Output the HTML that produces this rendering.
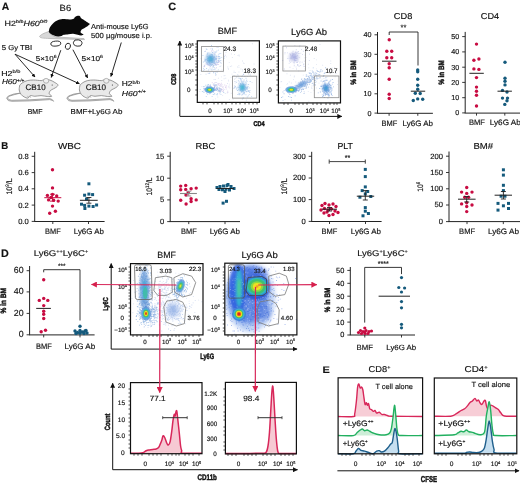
<!DOCTYPE html>
<html><head><meta charset="utf-8"><style>
html,body{margin:0;padding:0;background:#fff;}
svg{display:block;font-family:"Liberation Sans", sans-serif;text-rendering:geometricPrecision;will-change:transform;}
text{stroke:#111;stroke-width:0.15px;}
</style></head><body>
<svg width="520" height="484" viewBox="0 0 520 484">
<rect width="520" height="484" fill="#fff"/>
<text x="1.7" y="9.8" font-size="10.4" text-anchor="start" fill="#111" font-weight="bold" textLength="7.5" lengthAdjust="spacingAndGlyphs" >A</text>
<text x="59.6" y="11.4" font-size="9" text-anchor="start" fill="#111" textLength="11.6" lengthAdjust="spacingAndGlyphs" >B6</text>
<text x="4.6" y="25.8" font-size="7.5" fill="#111" textLength="42.7" lengthAdjust="spacingAndGlyphs">H2<tspan font-size="4.5" dy="-2.8">b/b</tspan><tspan dy="2.8" font-style="italic">H60</tspan><tspan font-size="4.5" dy="-2.8" font-style="italic">0/0</tspan></text>
<path d="M49,31.5 C44,33 40,35 39.6,36.6 C40,38 43,38.3 50,38.5 L84.5,39.6 L84,38.6 L56,37 C52,36 50,34 49,31.5 Z" fill="#d8d8d8" stroke="#aaa" stroke-width="0.7"/>
<path d="M48.80,31.90 C49.00,31.13 48.93,29.03 50.00,27.30 C51.07,25.57 53.28,22.85 55.20,21.50 C57.12,20.15 59.10,19.53 61.50,19.20 C63.90,18.87 67.57,19.58 69.60,19.50 C71.63,19.42 72.83,19.08 73.70,18.70 C74.57,18.32 74.13,17.68 74.80,17.20 C75.47,16.72 76.83,15.97 77.70,15.80 C78.57,15.63 79.42,15.78 80.00,16.20 C80.58,16.62 80.43,17.60 81.20,18.30 C81.97,19.00 83.45,19.67 84.60,20.40 C85.75,21.13 87.23,22.08 88.10,22.70 C88.97,23.32 89.90,23.52 89.80,24.10 C89.70,24.68 88.37,25.57 87.50,26.20 C86.63,26.83 85.57,27.33 84.60,27.90 C83.63,28.47 82.37,28.83 81.70,29.60 C81.03,30.37 80.30,31.68 80.60,32.50 C80.90,33.32 83.40,34.02 83.50,34.50 C83.60,34.98 82.17,35.35 81.20,35.40 C80.23,35.45 79.05,35.08 77.70,34.80 C76.35,34.52 74.63,33.80 73.10,33.70 C71.57,33.60 70.05,34.02 68.50,34.20 C66.95,34.38 64.97,34.50 63.80,34.80 C62.63,35.10 62.45,35.72 61.50,36.00 C60.55,36.28 59.35,36.60 58.10,36.50 C56.85,36.40 55.25,35.87 54.00,35.40 C52.75,34.93 51.47,34.28 50.60,33.70 C49.73,33.12 49.10,32.20 48.80,31.90 Z" fill="#0a0a0a"/>
<ellipse cx="55.8" cy="43.6" rx="5" ry="2.5" fill="#fff" stroke="#222" stroke-width="0.9" transform="rotate(-5 55.8 43.6)"/>
<ellipse cx="67.9" cy="46.3" rx="2.5" ry="3.1" fill="#fff" stroke="#222" stroke-width="0.9" transform="rotate(20 67.9 46.3)"/>
<ellipse cx="77.7" cy="43" rx="4.3" ry="3.2" fill="#fff" stroke="#222" stroke-width="0.9" transform="rotate(10 77.7 43)"/>
<text x="91.1" y="28.9" font-size="7.3" text-anchor="start" fill="#111" textLength="57.5" lengthAdjust="spacingAndGlyphs" >Anti-mouse Ly6G</text>
<text x="91.1" y="38" font-size="7.3" text-anchor="start" fill="#111" textLength="61" lengthAdjust="spacingAndGlyphs" >500 µg/mouse i.p.</text>
<text x="1.7" y="49.8" font-size="7.2" text-anchor="start" fill="#111" textLength="30.4" lengthAdjust="spacingAndGlyphs" >5 Gy TBI</text>
<text x="35.8" y="60.9" font-size="7.2" fill="#111" textLength="20.7" lengthAdjust="spacingAndGlyphs">5×10<tspan font-size="4.6" dy="-2.8">6</tspan></text>
<text x="81.5" y="60.9" font-size="7.2" fill="#111" textLength="21.5" lengthAdjust="spacingAndGlyphs">5×10<tspan font-size="4.6" dy="-2.8">6</tspan></text>
<defs><marker id="ah" viewBox="0 0 10 10" refX="9" refY="5" markerWidth="4.2" markerHeight="4.2" orient="auto"><path d="M0,0 L10,5 L0,10 z" fill="#111"/></marker><marker id="ahr" viewBox="0 0 10 10" refX="9" refY="5" markerWidth="5" markerHeight="5" orient="auto"><path d="M0,0 L10,5 L0,10 z" fill="#d6204c"/></marker><marker id="ahk" viewBox="0 0 10 10" refX="9" refY="5" markerWidth="5" markerHeight="5" orient="auto"><path d="M0,0 L10,5 L0,10 z" fill="#111"/></marker></defs>
<line x1="15" y1="54.2" x2="35" y2="77" stroke="#111" stroke-width="0.9" marker-end="url(#ah)"/>
<line x1="15" y1="54.2" x2="79.4" y2="83.8" stroke="#111" stroke-width="0.9" marker-end="url(#ah)"/>
<line x1="60.8" y1="50.2" x2="51.2" y2="77.4" stroke="#111" stroke-width="0.9" marker-end="url(#ah)"/>
<line x1="72.9" y1="49.7" x2="87.6" y2="77.9" stroke="#111" stroke-width="0.9" marker-end="url(#ah)"/>
<line x1="121.3" y1="42.5" x2="110.9" y2="76.5" stroke="#111" stroke-width="0.9" marker-end="url(#ah)"/>
<g id="m1"><path d="M20.40,93.10 L14.80,94.50 L9.80,96.00 L7.40,97.80 L8.80,99.60 L11.80,100.30 L29.80,99.80 L49.80,98.60 L52.30,99.60 L53.60,101.30 L52.60,100.60 L49.80,99.60 L29.80,100.90 L11.80,101.30 L8.30,100.60 L6.60,98.20 L8.30,96.00 L13.80,94.00 L20.40,93.10 Z" fill="#dcdcdc" stroke="#8a8a8a" stroke-width="0.7"/><path d="M19.80,85.00 C20.32,84.58 21.65,83.23 22.90,82.50 C24.15,81.77 25.52,81.02 27.30,80.60 C29.07,80.18 31.26,80.00 33.55,80.00 C35.84,80.00 39.38,80.60 41.05,80.60 C42.72,80.60 42.09,80.10 43.55,80.00 C45.01,79.90 47.92,79.58 49.80,80.00 C51.67,80.42 53.45,81.71 54.80,82.50 C56.15,83.29 57.58,84.02 57.90,84.75 C58.22,85.48 57.43,86.23 56.70,86.90 C55.98,87.57 54.60,88.13 53.55,88.75 C52.50,89.37 51.12,89.77 50.40,90.60 C49.67,91.43 48.98,92.81 49.20,93.75 C49.42,94.69 52.02,95.79 51.70,96.25 C51.38,96.71 49.07,96.61 47.30,96.50 C45.52,96.39 43.13,95.64 41.05,95.60 C38.97,95.56 36.57,96.25 34.80,96.25 C33.02,96.25 31.55,95.29 30.40,95.60 C29.25,95.91 28.93,97.88 27.90,98.10 C26.87,98.32 25.34,97.52 24.20,96.90 C23.06,96.28 21.88,95.55 21.05,94.40 C20.22,93.25 19.41,91.57 19.20,90.00 C18.99,88.43 19.70,85.83 19.80,85.00 Z" fill="#e9e9e9" stroke="#808080" stroke-width="0.8"/><ellipse cx="46.1" cy="80.8" rx="2.7" ry="2.4" fill="#efefef" stroke="#8a8a8a" stroke-width="0.6"/><circle cx="52.2" cy="85" r="0.6" fill="#333"/><path d="M27.5,95.8 L28.5,97.6 M30,95.8 L30.8,97.8" stroke="#8a8a8a" stroke-width="0.5"/></g>
<g transform="translate(60.2,0)"><path d="M20.40,93.10 L14.80,94.50 L9.80,96.00 L7.40,97.80 L8.80,99.60 L11.80,100.30 L29.80,99.80 L49.80,98.60 L52.30,99.60 L53.60,101.30 L52.60,100.60 L49.80,99.60 L29.80,100.90 L11.80,101.30 L8.30,100.60 L6.60,98.20 L8.30,96.00 L13.80,94.00 L20.40,93.10 Z" fill="#dcdcdc" stroke="#8a8a8a" stroke-width="0.7"/><path d="M19.80,85.00 C20.32,84.58 21.65,83.23 22.90,82.50 C24.15,81.77 25.52,81.02 27.30,80.60 C29.07,80.18 31.26,80.00 33.55,80.00 C35.84,80.00 39.38,80.60 41.05,80.60 C42.72,80.60 42.09,80.10 43.55,80.00 C45.01,79.90 47.92,79.58 49.80,80.00 C51.67,80.42 53.45,81.71 54.80,82.50 C56.15,83.29 57.58,84.02 57.90,84.75 C58.22,85.48 57.43,86.23 56.70,86.90 C55.98,87.57 54.60,88.13 53.55,88.75 C52.50,89.37 51.12,89.77 50.40,90.60 C49.67,91.43 48.98,92.81 49.20,93.75 C49.42,94.69 52.02,95.79 51.70,96.25 C51.38,96.71 49.07,96.61 47.30,96.50 C45.52,96.39 43.13,95.64 41.05,95.60 C38.97,95.56 36.57,96.25 34.80,96.25 C33.02,96.25 31.55,95.29 30.40,95.60 C29.25,95.91 28.93,97.88 27.90,98.10 C26.87,98.32 25.34,97.52 24.20,96.90 C23.06,96.28 21.88,95.55 21.05,94.40 C20.22,93.25 19.41,91.57 19.20,90.00 C18.99,88.43 19.70,85.83 19.80,85.00 Z" fill="#e9e9e9" stroke="#808080" stroke-width="0.8"/><ellipse cx="46.1" cy="80.8" rx="2.7" ry="2.4" fill="#efefef" stroke="#8a8a8a" stroke-width="0.6"/><circle cx="52.2" cy="85" r="0.6" fill="#333"/><path d="M27.5,95.8 L28.5,97.6 M30,95.8 L30.8,97.8" stroke="#8a8a8a" stroke-width="0.5"/></g>
<text x="25.6" y="90" font-size="8" text-anchor="start" fill="#111" textLength="20" lengthAdjust="spacingAndGlyphs" >CB10</text>
<text x="85.8" y="90" font-size="8" text-anchor="start" fill="#111" textLength="20.2" lengthAdjust="spacingAndGlyphs" >CB10</text>
<text x="1.3" y="75.6" font-size="7.2" fill="#111" textLength="19" lengthAdjust="spacingAndGlyphs">H2<tspan font-size="4.6" dy="-2.8">b/b</tspan></text>
<text x="1.9" y="84.4" font-size="7.2" fill="#111" font-style="italic" textLength="22.5" lengthAdjust="spacingAndGlyphs">H60<tspan font-size="4.6" dy="-2.8">+/+</tspan></text>
<text x="121.8" y="86.4" font-size="7.2" fill="#111" textLength="18.2" lengthAdjust="spacingAndGlyphs">H2<tspan font-size="4.6" dy="-2.8">b/b</tspan></text>
<text x="121.8" y="96" font-size="7.2" fill="#111" font-style="italic" textLength="23.9" lengthAdjust="spacingAndGlyphs">H60<tspan font-size="4.6" dy="-2.8">+/+</tspan></text>
<text x="27.7" y="113.6" font-size="7.2" text-anchor="start" fill="#111" textLength="14.7" lengthAdjust="spacingAndGlyphs" >BMF</text>
<text x="70.6" y="113.6" font-size="7.2" text-anchor="start" fill="#111" textLength="51.8" lengthAdjust="spacingAndGlyphs" >BMF+Ly6G Ab</text>
<text x="393.8" y="19.2" font-size="8.5" text-anchor="start" fill="#111" textLength="18.5" lengthAdjust="spacingAndGlyphs" >CD8</text>
<line x1="377.5" y1="32.0" x2="377.5" y2="113.1" stroke="#222" stroke-width="1" />
<line x1="374.5" y1="34.8" x2="377.5" y2="34.8" stroke="#222" stroke-width="0.9" />
<text x="371.5" y="37.199999999999996" font-size="7.2" text-anchor="end" fill="#111" >40</text>
<line x1="374.5" y1="54.3" x2="377.5" y2="54.3" stroke="#222" stroke-width="0.9" />
<text x="371.5" y="56.699999999999996" font-size="7.2" text-anchor="end" fill="#111" >30</text>
<line x1="374.5" y1="74.2" x2="377.5" y2="74.2" stroke="#222" stroke-width="0.9" />
<text x="371.5" y="76.60000000000001" font-size="7.2" text-anchor="end" fill="#111" >20</text>
<line x1="374.5" y1="93.8" x2="377.5" y2="93.8" stroke="#222" stroke-width="0.9" />
<text x="371.5" y="96.2" font-size="7.2" text-anchor="end" fill="#111" >10</text>
<line x1="374.5" y1="113.1" x2="377.5" y2="113.1" stroke="#222" stroke-width="0.9" />
<text x="371.5" y="115.5" font-size="7.2" text-anchor="end" fill="#111" >0</text>
<line x1="377.0" y1="113.3" x2="432.9" y2="113.3" stroke="#222" stroke-width="1" />
<line x1="389.1" y1="113.3" x2="389.1" y2="115.8" stroke="#222" stroke-width="0.9" />
<line x1="417.8" y1="113.3" x2="417.8" y2="115.8" stroke="#222" stroke-width="0.9" />
<text x="356" y="72.5" font-size="7.8" text-anchor="middle" fill="#111" font-weight="bold" textLength="24.6" lengthAdjust="spacingAndGlyphs" transform="rotate(-90 356 72.5)" style="stroke-width:0.45px">% in BM</text>
<line x1="389.2" y1="32" x2="418" y2="32" stroke="#222" stroke-width="0.9" />
<line x1="389.2" y1="32" x2="389.2" y2="35" stroke="#222" stroke-width="0.9" />
<line x1="418" y1="32" x2="418" y2="65.5" stroke="#222" stroke-width="0.9" />
<text x="403.5" y="30.2" font-size="7.5" text-anchor="middle" fill="#111" >**</text>
<circle cx="389.25" cy="39.8" r="1.7" fill="#c80c42"/>
<circle cx="386.8" cy="51.3" r="1.7" fill="#c80c42"/>
<circle cx="391.7" cy="51.3" r="1.7" fill="#c80c42"/>
<circle cx="386.8" cy="57.8" r="1.7" fill="#c80c42"/>
<circle cx="391.7" cy="57.8" r="1.7" fill="#c80c42"/>
<circle cx="389.2" cy="63.8" r="1.7" fill="#c80c42"/>
<circle cx="389.2" cy="67.7" r="1.7" fill="#c80c42"/>
<circle cx="389.2" cy="79.2" r="1.7" fill="#c80c42"/>
<circle cx="389.2" cy="94.2" r="1.7" fill="#c80c42"/>
<circle cx="389.2" cy="98.5" r="1.7" fill="#c80c42"/>
<line x1="382" y1="61.2" x2="396.5" y2="61.2" stroke="#222" stroke-width="1" />
<circle cx="417.7" cy="70" r="1.7" fill="#155a7c"/>
<circle cx="417.7" cy="71.8" r="1.7" fill="#155a7c"/>
<circle cx="417.7" cy="79.2" r="1.7" fill="#155a7c"/>
<circle cx="417.7" cy="85.3" r="1.7" fill="#155a7c"/>
<circle cx="417.7" cy="89.2" r="1.7" fill="#155a7c"/>
<circle cx="415.3" cy="93.2" r="1.7" fill="#155a7c"/>
<circle cx="420.2" cy="93.5" r="1.7" fill="#155a7c"/>
<circle cx="417.7" cy="98.9" r="1.7" fill="#155a7c"/>
<circle cx="422.7" cy="99.2" r="1.7" fill="#155a7c"/>
<circle cx="413.3" cy="100.5" r="1.7" fill="#155a7c"/>
<line x1="410.8" y1="91.2" x2="425.2" y2="91.2" stroke="#222" stroke-width="1" />
<text x="381.5" y="125.5" font-size="7.8" text-anchor="start" fill="#111" textLength="15.7" lengthAdjust="spacingAndGlyphs" >BMF</text>
<text x="402.6" y="125.5" font-size="7.8" text-anchor="start" fill="#111" textLength="30.3" lengthAdjust="spacingAndGlyphs" >Ly6G Ab</text>
<text x="480.8" y="19.2" font-size="8.5" text-anchor="start" fill="#111" textLength="18.4" lengthAdjust="spacingAndGlyphs" >CD4</text>
<line x1="465.2" y1="31.9" x2="465.2" y2="112.9" stroke="#222" stroke-width="1" />
<line x1="462.2" y1="36.6" x2="465.2" y2="36.6" stroke="#222" stroke-width="0.9" />
<text x="459.2" y="39.0" font-size="7.2" text-anchor="end" fill="#111" >50</text>
<line x1="462.2" y1="51.9" x2="465.2" y2="51.9" stroke="#222" stroke-width="0.9" />
<text x="459.2" y="54.3" font-size="7.2" text-anchor="end" fill="#111" >40</text>
<line x1="462.2" y1="67.2" x2="465.2" y2="67.2" stroke="#222" stroke-width="0.9" />
<text x="459.2" y="69.60000000000001" font-size="7.2" text-anchor="end" fill="#111" >30</text>
<line x1="462.2" y1="82.4" x2="465.2" y2="82.4" stroke="#222" stroke-width="0.9" />
<text x="459.2" y="84.80000000000001" font-size="7.2" text-anchor="end" fill="#111" >20</text>
<line x1="462.2" y1="97.7" x2="465.2" y2="97.7" stroke="#222" stroke-width="0.9" />
<text x="459.2" y="100.10000000000001" font-size="7.2" text-anchor="end" fill="#111" >10</text>
<line x1="462.2" y1="112.9" x2="465.2" y2="112.9" stroke="#222" stroke-width="0.9" />
<text x="459.2" y="115.30000000000001" font-size="7.2" text-anchor="end" fill="#111" >0</text>
<line x1="464.7" y1="113.1" x2="520" y2="113.1" stroke="#222" stroke-width="1" />
<line x1="476.5" y1="113.1" x2="476.5" y2="115.6" stroke="#222" stroke-width="0.9" />
<line x1="504.8" y1="113.1" x2="504.8" y2="115.6" stroke="#222" stroke-width="0.9" />
<text x="444.4" y="72.5" font-size="7.8" text-anchor="middle" fill="#111" font-weight="bold" textLength="24.6" lengthAdjust="spacingAndGlyphs" transform="rotate(-90 444.4 72.5)" style="stroke-width:0.45px">% in BM</text>
<circle cx="476.5" cy="44.1" r="1.7" fill="#c80c42"/>
<circle cx="473.9" cy="60.3" r="1.7" fill="#c80c42"/>
<circle cx="478.9" cy="59" r="1.7" fill="#c80c42"/>
<circle cx="473.9" cy="68.9" r="1.7" fill="#c80c42"/>
<circle cx="478.9" cy="69.4" r="1.7" fill="#c80c42"/>
<circle cx="476.5" cy="77.6" r="1.7" fill="#c80c42"/>
<circle cx="476.5" cy="87.1" r="1.7" fill="#c80c42"/>
<circle cx="476.5" cy="91.2" r="1.7" fill="#c80c42"/>
<circle cx="476.5" cy="95.3" r="1.7" fill="#c80c42"/>
<circle cx="476.5" cy="106" r="1.7" fill="#c80c42"/>
<line x1="469.4" y1="73.3" x2="483.8" y2="73.3" stroke="#222" stroke-width="1" />
<circle cx="505" cy="62.3" r="1.7" fill="#155a7c"/>
<circle cx="505" cy="78.3" r="1.7" fill="#155a7c"/>
<circle cx="505" cy="81.3" r="1.7" fill="#155a7c"/>
<circle cx="505" cy="84.9" r="1.7" fill="#155a7c"/>
<circle cx="502.5" cy="90.4" r="1.7" fill="#155a7c"/>
<circle cx="507" cy="92" r="1.7" fill="#155a7c"/>
<circle cx="502.5" cy="98.1" r="1.7" fill="#155a7c"/>
<circle cx="507.5" cy="98.1" r="1.7" fill="#155a7c"/>
<circle cx="507" cy="100.8" r="1.7" fill="#155a7c"/>
<circle cx="504.8" cy="104.4" r="1.7" fill="#155a7c"/>
<line x1="497.5" y1="91.2" x2="511.9" y2="91.2" stroke="#222" stroke-width="1" />
<text x="469" y="125.3" font-size="7.8" text-anchor="start" fill="#111" textLength="16" lengthAdjust="spacingAndGlyphs" >BMF</text>
<text x="489.8" y="125.3" font-size="7.8" text-anchor="start" fill="#111" textLength="31" lengthAdjust="spacingAndGlyphs" >Ly6G Ab</text>
<defs><filter id="b1" x="-50%" y="-50%" width="200%" height="200%"><feGaussianBlur stdDeviation="1.2"/></filter><filter id="b2" x="-50%" y="-50%" width="200%" height="200%"><feGaussianBlur stdDeviation="2"/></filter><filter id="b05" x="-50%" y="-50%" width="200%" height="200%"><feGaussianBlur stdDeviation="0.6"/></filter></defs>
<text x="168.3" y="10" font-size="10.5" text-anchor="start" fill="#111" font-weight="bold" textLength="7.9" lengthAdjust="spacingAndGlyphs" >C</text>
<text x="217.7" y="34.4" font-size="9" text-anchor="start" fill="#111" textLength="19.4" lengthAdjust="spacingAndGlyphs" >BMF</text>
<text x="291" y="34.7" font-size="9" text-anchor="start" fill="#111" textLength="36" lengthAdjust="spacingAndGlyphs" >Ly6G Ab</text>
<line x1="179.8" y1="116.2" x2="179.8" y2="41" stroke="#111" stroke-width="1" marker-end="url(#ahk)"/>
<line x1="179.8" y1="116.4" x2="341.8" y2="116.4" stroke="#111" stroke-width="1" marker-end="url(#ahk)"/>
<text x="176.4" y="79.2" font-size="7" text-anchor="middle" fill="#111" font-weight="bold" textLength="11.2" lengthAdjust="spacingAndGlyphs" transform="rotate(-90 176.4 79.2)" style="stroke-width:0.45px">CD8</text>
<text x="253.4" y="126.3" font-size="7" text-anchor="start" fill="#111" font-weight="bold" textLength="11.1" lengthAdjust="spacingAndGlyphs" style="stroke-width:0.45px">CD4</text>
<path d="M228.9,83.7h0.9v0.9h-0.9zM223.6,75.3h0.9v0.9h-0.9zM216.2,82.0h0.9v0.9h-0.9zM244.0,71.8h0.9v0.9h-0.9zM242.0,70.7h0.9v0.9h-0.9zM234.2,75.3h0.9v0.9h-0.9zM215.1,98.4h0.9v0.9h-0.9zM237.6,77.4h0.9v0.9h-0.9zM214.9,79.1h0.9v0.9h-0.9zM231.5,73.7h0.9v0.9h-0.9zM229.9,66.1h0.9v0.9h-0.9zM234.6,78.0h0.9v0.9h-0.9zM232.6,98.8h0.9v0.9h-0.9zM243.0,83.9h0.9v0.9h-0.9zM216.1,74.3h0.9v0.9h-0.9zM223.7,78.3h0.9v0.9h-0.9zM237.3,74.0h0.9v0.9h-0.9zM216.6,70.8h0.9v0.9h-0.9zM230.8,92.8h0.9v0.9h-0.9zM220.8,85.5h0.9v0.9h-0.9zM223.0,58.5h0.9v0.9h-0.9zM237.9,89.1h0.9v0.9h-0.9zM203.0,89.6h0.9v0.9h-0.9zM221.5,69.4h0.9v0.9h-0.9zM233.6,72.0h0.9v0.9h-0.9zM217.3,96.5h0.9v0.9h-0.9zM242.5,80.5h0.9v0.9h-0.9zM247.4,68.6h0.9v0.9h-0.9zM220.8,62.9h0.9v0.9h-0.9zM231.2,65.6h0.9v0.9h-0.9zM214.5,67.8h0.9v0.9h-0.9zM213.6,79.1h0.9v0.9h-0.9zM229.1,46.3h0.9v0.9h-0.9zM213.3,90.7h0.9v0.9h-0.9zM248.9,70.7h0.9v0.9h-0.9zM227.4,66.5h0.9v0.9h-0.9zM222.2,95.2h0.9v0.9h-0.9zM242.1,69.3h0.9v0.9h-0.9zM234.2,78.9h0.9v0.9h-0.9zM250.9,69.9h0.9v0.9h-0.9zM238.1,77.8h0.9v0.9h-0.9zM242.9,74.1h0.9v0.9h-0.9zM201.4,86.2h0.9v0.9h-0.9zM225.5,52.0h0.9v0.9h-0.9zM233.3,88.1h0.9v0.9h-0.9zM233.6,70.7h0.9v0.9h-0.9zM236.5,80.4h0.9v0.9h-0.9zM237.6,86.9h0.9v0.9h-0.9zM217.9,77.8h0.9v0.9h-0.9zM240.5,68.5h0.9v0.9h-0.9zM224.8,93.0h0.9v0.9h-0.9zM242.1,60.5h0.9v0.9h-0.9zM211.6,86.4h0.9v0.9h-0.9zM224.6,74.9h0.9v0.9h-0.9zM237.4,55.2h0.9v0.9h-0.9zM234.1,54.0h0.9v0.9h-0.9zM223.7,89.1h0.9v0.9h-0.9zM247.2,76.0h0.9v0.9h-0.9zM233.3,75.2h0.9v0.9h-0.9zM234.1,81.0h0.9v0.9h-0.9zM228.2,80.7h0.9v0.9h-0.9zM234.9,72.0h0.9v0.9h-0.9zM241.0,76.0h0.9v0.9h-0.9zM253.6,63.6h0.9v0.9h-0.9zM220.9,76.4h0.9v0.9h-0.9zM234.6,85.8h0.9v0.9h-0.9zM227.1,83.1h0.9v0.9h-0.9zM217.1,88.0h0.9v0.9h-0.9zM234.6,75.7h0.9v0.9h-0.9zM227.9,86.5h0.9v0.9h-0.9zM228.0,69.2h0.9v0.9h-0.9zM221.3,80.1h0.9v0.9h-0.9zM225.3,77.8h0.9v0.9h-0.9zM231.9,57.0h0.9v0.9h-0.9zM234.1,86.5h0.9v0.9h-0.9zM248.4,84.4h0.9v0.9h-0.9zM206.4,86.8h0.9v0.9h-0.9zM228.7,85.5h0.9v0.9h-0.9zM230.9,53.6h0.9v0.9h-0.9zM225.9,56.4h0.9v0.9h-0.9zM238.6,86.9h0.9v0.9h-0.9zM228.0,79.7h0.9v0.9h-0.9zM238.5,71.6h0.9v0.9h-0.9zM237.9,92.4h0.9v0.9h-0.9zM238.4,65.3h0.9v0.9h-0.9zM251.9,43.3h0.9v0.9h-0.9zM237.0,66.6h0.9v0.9h-0.9zM234.7,82.5h0.9v0.9h-0.9zM235.3,81.1h0.9v0.9h-0.9zM200.4,74.0h0.9v0.9h-0.9zM228.8,62.2h0.9v0.9h-0.9zM206.5,70.4h0.9v0.9h-0.9zM248.0,73.8h0.9v0.9h-0.9zM238.8,55.6h0.9v0.9h-0.9zM220.5,65.4h0.9v0.9h-0.9zM248.1,86.1h0.9v0.9h-0.9zM228.9,99.1h0.9v0.9h-0.9zM238.5,66.9h0.9v0.9h-0.9zM223.1,71.4h0.9v0.9h-0.9zM235.8,77.4h0.9v0.9h-0.9zM238.5,54.5h0.9v0.9h-0.9zM251.6,82.1h0.9v0.9h-0.9zM243.8,63.2h0.9v0.9h-0.9zM226.8,92.6h0.9v0.9h-0.9zM230.5,76.9h0.9v0.9h-0.9zM242.9,62.6h0.9v0.9h-0.9zM199.3,91.2h0.9v0.9h-0.9zM212.7,99.5h0.9v0.9h-0.9zM227.8,68.0h0.9v0.9h-0.9zM234.0,84.9h0.9v0.9h-0.9zM238.4,89.0h0.9v0.9h-0.9z" fill="#9fb0d8" opacity="0.35"/>
<path d="M315.9,87.6h0.9v0.9h-0.9zM337.6,80.7h0.9v0.9h-0.9zM307.8,90.9h0.9v0.9h-0.9zM280.5,81.3h0.9v0.9h-0.9zM295.2,86.7h0.9v0.9h-0.9zM307.0,78.2h0.9v0.9h-0.9zM304.3,83.9h0.9v0.9h-0.9zM330.3,63.0h0.9v0.9h-0.9zM322.4,82.5h0.9v0.9h-0.9zM298.5,66.1h0.9v0.9h-0.9zM310.5,91.9h0.9v0.9h-0.9zM286.5,84.2h0.9v0.9h-0.9zM326.5,76.6h0.9v0.9h-0.9zM315.1,84.8h0.9v0.9h-0.9zM303.2,64.0h0.9v0.9h-0.9zM287.1,83.2h0.9v0.9h-0.9zM316.1,63.9h0.9v0.9h-0.9zM293.8,76.6h0.9v0.9h-0.9zM291.1,88.0h0.9v0.9h-0.9zM298.4,90.0h0.9v0.9h-0.9zM284.6,99.1h0.9v0.9h-0.9zM288.7,63.0h0.9v0.9h-0.9zM315.9,68.4h0.9v0.9h-0.9zM309.6,70.1h0.9v0.9h-0.9zM323.5,78.0h0.9v0.9h-0.9zM319.3,74.8h0.9v0.9h-0.9zM329.3,72.7h0.9v0.9h-0.9zM300.3,52.8h0.9v0.9h-0.9zM328.7,82.6h0.9v0.9h-0.9zM302.8,74.7h0.9v0.9h-0.9zM319.6,44.0h0.9v0.9h-0.9zM331.5,97.0h0.9v0.9h-0.9zM303.6,91.1h0.9v0.9h-0.9zM330.3,60.6h0.9v0.9h-0.9zM322.1,81.3h0.9v0.9h-0.9zM298.4,83.3h0.9v0.9h-0.9zM318.5,82.7h0.9v0.9h-0.9zM307.7,75.3h0.9v0.9h-0.9zM295.3,81.5h0.9v0.9h-0.9zM320.4,70.7h0.9v0.9h-0.9zM293.9,75.5h0.9v0.9h-0.9zM298.9,46.3h0.9v0.9h-0.9zM319.9,76.6h0.9v0.9h-0.9zM331.7,67.6h0.9v0.9h-0.9zM312.3,82.6h0.9v0.9h-0.9zM308.3,67.4h0.9v0.9h-0.9zM337.1,84.0h0.9v0.9h-0.9zM288.8,81.6h0.9v0.9h-0.9zM314.1,76.4h0.9v0.9h-0.9zM298.2,70.5h0.9v0.9h-0.9zM286.5,73.3h0.9v0.9h-0.9zM335.8,72.9h0.9v0.9h-0.9zM335.9,70.2h0.9v0.9h-0.9zM301.2,86.5h0.9v0.9h-0.9zM279.5,86.9h0.9v0.9h-0.9zM312.4,82.5h0.9v0.9h-0.9zM300.3,81.5h0.9v0.9h-0.9zM317.3,76.9h0.9v0.9h-0.9zM318.2,73.8h0.9v0.9h-0.9zM311.2,87.3h0.9v0.9h-0.9zM304.3,68.4h0.9v0.9h-0.9zM302.3,81.9h0.9v0.9h-0.9zM309.3,79.3h0.9v0.9h-0.9zM310.7,78.6h0.9v0.9h-0.9zM299.2,65.6h0.9v0.9h-0.9zM321.5,83.9h0.9v0.9h-0.9zM313.1,71.5h0.9v0.9h-0.9zM307.9,63.8h0.9v0.9h-0.9zM288.1,92.7h0.9v0.9h-0.9zM303.9,91.6h0.9v0.9h-0.9zM308.4,100.8h0.9v0.9h-0.9zM295.6,66.5h0.9v0.9h-0.9zM304.3,88.2h0.9v0.9h-0.9zM316.4,74.6h0.9v0.9h-0.9zM331.3,71.9h0.9v0.9h-0.9zM313.3,82.9h0.9v0.9h-0.9zM335.1,73.2h0.9v0.9h-0.9zM313.7,58.0h0.9v0.9h-0.9zM312.8,85.3h0.9v0.9h-0.9zM313.4,89.8h0.9v0.9h-0.9zM322.5,81.0h0.9v0.9h-0.9zM322.2,64.8h0.9v0.9h-0.9zM328.4,101.7h0.9v0.9h-0.9zM311.5,88.2h0.9v0.9h-0.9zM320.7,69.1h0.9v0.9h-0.9zM297.4,88.1h0.9v0.9h-0.9zM321.3,85.1h0.9v0.9h-0.9zM318.6,70.9h0.9v0.9h-0.9zM323.0,75.4h0.9v0.9h-0.9zM312.2,75.8h0.9v0.9h-0.9zM311.4,85.6h0.9v0.9h-0.9zM293.0,79.2h0.9v0.9h-0.9zM299.4,62.5h0.9v0.9h-0.9zM290.6,60.7h0.9v0.9h-0.9zM305.5,88.0h0.9v0.9h-0.9zM315.6,71.8h0.9v0.9h-0.9zM297.0,64.8h0.9v0.9h-0.9zM334.0,67.3h0.9v0.9h-0.9zM315.9,59.4h0.9v0.9h-0.9zM294.8,60.5h0.9v0.9h-0.9zM324.8,79.8h0.9v0.9h-0.9zM287.3,91.6h0.9v0.9h-0.9zM304.6,54.5h0.9v0.9h-0.9zM281.2,81.1h0.9v0.9h-0.9zM292.6,68.2h0.9v0.9h-0.9zM311.5,79.1h0.9v0.9h-0.9zM321.6,78.7h0.9v0.9h-0.9zM334.7,76.3h0.9v0.9h-0.9zM290.9,82.5h0.9v0.9h-0.9zM289.9,74.8h0.9v0.9h-0.9zM308.6,77.6h0.9v0.9h-0.9zM304.2,57.4h0.9v0.9h-0.9zM295.1,86.6h0.9v0.9h-0.9z" fill="#9fb0d8" opacity="0.35"/>
<path d="M211.0,58.3h0.9v0.9h-0.9zM211.7,55.8h0.9v0.9h-0.9zM215.5,61.9h0.9v0.9h-0.9zM211.6,56.3h0.9v0.9h-0.9zM211.1,45.0h0.9v0.9h-0.9zM207.1,60.2h0.9v0.9h-0.9zM204.5,61.1h0.9v0.9h-0.9zM212.7,52.4h0.9v0.9h-0.9zM210.7,58.3h0.9v0.9h-0.9zM214.3,63.4h0.9v0.9h-0.9zM211.8,55.3h0.9v0.9h-0.9zM211.3,59.6h0.9v0.9h-0.9zM215.7,61.6h0.9v0.9h-0.9zM208.4,52.6h0.9v0.9h-0.9zM210.1,55.9h0.9v0.9h-0.9zM206.4,59.4h0.9v0.9h-0.9zM209.5,60.6h0.9v0.9h-0.9zM214.6,57.7h0.9v0.9h-0.9zM223.6,58.2h0.9v0.9h-0.9zM217.5,60.7h0.9v0.9h-0.9zM217.6,46.9h0.9v0.9h-0.9zM208.2,61.4h0.9v0.9h-0.9zM215.0,72.9h0.9v0.9h-0.9zM213.6,67.0h0.9v0.9h-0.9zM215.8,65.2h0.9v0.9h-0.9zM214.6,59.1h0.9v0.9h-0.9zM214.5,54.1h0.9v0.9h-0.9zM217.9,54.4h0.9v0.9h-0.9zM213.2,71.7h0.9v0.9h-0.9zM210.9,60.1h0.9v0.9h-0.9zM217.8,60.1h0.9v0.9h-0.9zM208.0,61.4h0.9v0.9h-0.9zM214.9,63.9h0.9v0.9h-0.9zM208.1,69.6h0.9v0.9h-0.9zM220.3,60.1h0.9v0.9h-0.9zM213.3,57.6h0.9v0.9h-0.9zM219.1,56.1h0.9v0.9h-0.9zM215.4,57.4h0.9v0.9h-0.9zM208.5,64.0h0.9v0.9h-0.9zM218.7,59.9h0.9v0.9h-0.9zM208.6,64.5h0.9v0.9h-0.9zM211.8,61.7h0.9v0.9h-0.9zM219.6,66.2h0.9v0.9h-0.9zM209.4,72.6h0.9v0.9h-0.9zM212.0,64.3h0.9v0.9h-0.9zM208.8,59.8h0.9v0.9h-0.9zM203.3,69.8h0.9v0.9h-0.9zM218.8,53.3h0.9v0.9h-0.9zM204.5,51.1h0.9v0.9h-0.9zM217.9,57.5h0.9v0.9h-0.9zM211.7,58.3h0.9v0.9h-0.9zM211.4,54.0h0.9v0.9h-0.9zM212.1,52.1h0.9v0.9h-0.9zM211.6,61.7h0.9v0.9h-0.9zM214.3,58.7h0.9v0.9h-0.9zM207.5,60.9h0.9v0.9h-0.9zM209.6,68.6h0.9v0.9h-0.9zM215.8,59.4h0.9v0.9h-0.9zM209.6,56.1h0.9v0.9h-0.9zM207.3,58.1h0.9v0.9h-0.9zM213.5,62.8h0.9v0.9h-0.9zM214.8,71.5h0.9v0.9h-0.9zM208.5,60.1h0.9v0.9h-0.9zM226.0,49.7h0.9v0.9h-0.9zM209.4,60.9h0.9v0.9h-0.9zM212.8,62.2h0.9v0.9h-0.9zM210.8,62.0h0.9v0.9h-0.9zM212.3,64.2h0.9v0.9h-0.9zM202.5,55.1h0.9v0.9h-0.9zM212.0,54.3h0.9v0.9h-0.9zM206.8,63.5h0.9v0.9h-0.9zM208.8,63.5h0.9v0.9h-0.9zM215.7,61.7h0.9v0.9h-0.9zM214.5,59.4h0.9v0.9h-0.9zM205.0,59.8h0.9v0.9h-0.9zM214.3,57.1h0.9v0.9h-0.9zM211.5,64.1h0.9v0.9h-0.9zM207.6,63.5h0.9v0.9h-0.9zM221.3,56.9h0.9v0.9h-0.9zM212.7,59.2h0.9v0.9h-0.9zM219.7,61.7h0.9v0.9h-0.9zM216.5,56.2h0.9v0.9h-0.9zM211.9,59.9h0.9v0.9h-0.9zM203.1,67.9h0.9v0.9h-0.9zM216.5,50.4h0.9v0.9h-0.9zM215.7,59.3h0.9v0.9h-0.9zM214.2,62.0h0.9v0.9h-0.9zM204.5,58.8h0.9v0.9h-0.9zM219.5,56.8h0.9v0.9h-0.9zM206.9,52.5h0.9v0.9h-0.9zM205.9,61.8h0.9v0.9h-0.9zM220.5,62.4h0.9v0.9h-0.9zM213.2,72.3h0.9v0.9h-0.9zM209.4,56.3h0.9v0.9h-0.9zM214.6,63.0h0.9v0.9h-0.9zM206.9,53.6h0.9v0.9h-0.9zM213.5,61.4h0.9v0.9h-0.9zM205.5,58.9h0.9v0.9h-0.9zM209.3,62.5h0.9v0.9h-0.9zM211.4,59.5h0.9v0.9h-0.9zM210.2,65.8h0.9v0.9h-0.9zM219.0,58.0h0.9v0.9h-0.9zM216.2,55.8h0.9v0.9h-0.9zM212.4,64.1h0.9v0.9h-0.9zM219.6,57.9h0.9v0.9h-0.9zM211.6,61.1h0.9v0.9h-0.9zM204.5,60.1h0.9v0.9h-0.9zM208.6,62.0h0.9v0.9h-0.9zM206.4,49.1h0.9v0.9h-0.9zM212.2,61.4h0.9v0.9h-0.9zM209.3,64.9h0.9v0.9h-0.9zM210.6,56.7h0.9v0.9h-0.9zM214.4,51.4h0.9v0.9h-0.9zM208.6,59.9h0.9v0.9h-0.9zM216.2,59.1h0.9v0.9h-0.9zM213.5,56.4h0.9v0.9h-0.9zM213.5,69.1h0.9v0.9h-0.9zM208.6,73.0h0.9v0.9h-0.9zM208.8,60.1h0.9v0.9h-0.9zM212.9,65.6h0.9v0.9h-0.9zM205.8,48.4h0.9v0.9h-0.9zM215.0,64.4h0.9v0.9h-0.9zM215.1,74.5h0.9v0.9h-0.9zM213.0,61.4h0.9v0.9h-0.9zM216.6,62.0h0.9v0.9h-0.9zM220.3,53.2h0.9v0.9h-0.9zM216.1,58.0h0.9v0.9h-0.9zM216.6,71.8h0.9v0.9h-0.9zM212.0,58.6h0.9v0.9h-0.9zM209.5,55.4h0.9v0.9h-0.9zM208.8,63.5h0.9v0.9h-0.9zM212.2,60.4h0.9v0.9h-0.9zM211.1,65.0h0.9v0.9h-0.9zM214.5,59.2h0.9v0.9h-0.9zM215.3,59.2h0.9v0.9h-0.9zM206.2,68.0h0.9v0.9h-0.9zM214.3,54.7h0.9v0.9h-0.9zM217.4,61.9h0.9v0.9h-0.9zM204.2,68.9h0.9v0.9h-0.9zM213.7,64.9h0.9v0.9h-0.9zM213.0,59.2h0.9v0.9h-0.9zM204.3,65.3h0.9v0.9h-0.9zM212.2,58.4h0.9v0.9h-0.9zM213.8,60.4h0.9v0.9h-0.9zM215.4,58.0h0.9v0.9h-0.9zM211.8,48.2h0.9v0.9h-0.9zM209.9,63.7h0.9v0.9h-0.9zM218.7,58.0h0.9v0.9h-0.9zM211.4,68.7h0.9v0.9h-0.9zM210.4,64.0h0.9v0.9h-0.9zM220.4,60.2h0.9v0.9h-0.9zM218.1,56.1h0.9v0.9h-0.9zM213.0,59.6h0.9v0.9h-0.9zM212.6,66.2h0.9v0.9h-0.9zM223.9,56.3h0.9v0.9h-0.9zM209.1,62.7h0.9v0.9h-0.9zM206.7,62.7h0.9v0.9h-0.9zM214.9,58.5h0.9v0.9h-0.9zM214.7,51.5h0.9v0.9h-0.9zM215.8,51.5h0.9v0.9h-0.9zM208.5,56.9h0.9v0.9h-0.9zM210.0,64.7h0.9v0.9h-0.9zM212.4,57.8h0.9v0.9h-0.9zM214.7,68.7h0.9v0.9h-0.9zM212.0,62.0h0.9v0.9h-0.9zM218.2,61.5h0.9v0.9h-0.9zM205.6,73.7h0.9v0.9h-0.9zM223.0,49.1h0.9v0.9h-0.9zM211.8,62.3h0.9v0.9h-0.9zM216.8,63.7h0.9v0.9h-0.9zM210.6,54.2h0.9v0.9h-0.9zM212.5,65.7h0.9v0.9h-0.9zM206.6,54.4h0.9v0.9h-0.9zM211.9,49.3h0.9v0.9h-0.9zM210.7,57.6h0.9v0.9h-0.9zM214.3,56.1h0.9v0.9h-0.9zM207.6,57.8h0.9v0.9h-0.9zM211.8,56.3h0.9v0.9h-0.9zM212.1,64.1h0.9v0.9h-0.9zM217.9,69.4h0.9v0.9h-0.9zM208.1,57.7h0.9v0.9h-0.9zM199.6,70.4h0.9v0.9h-0.9zM208.4,59.8h0.9v0.9h-0.9zM214.6,52.5h0.9v0.9h-0.9zM214.3,59.9h0.9v0.9h-0.9zM202.9,61.6h0.9v0.9h-0.9zM218.0,49.7h0.9v0.9h-0.9zM216.0,61.2h0.9v0.9h-0.9zM214.4,62.4h0.9v0.9h-0.9zM218.5,58.8h0.9v0.9h-0.9zM216.4,57.7h0.9v0.9h-0.9zM215.6,55.5h0.9v0.9h-0.9zM211.5,69.5h0.9v0.9h-0.9zM214.2,59.1h0.9v0.9h-0.9zM206.3,55.7h0.9v0.9h-0.9zM213.0,65.2h0.9v0.9h-0.9zM214.1,62.9h0.9v0.9h-0.9zM211.8,67.4h0.9v0.9h-0.9zM210.0,57.0h0.9v0.9h-0.9z" fill="#5a90d8" opacity="0.45"/>
<path d="M216.4,60.3h0.9v0.9h-0.9zM210.6,56.8h0.9v0.9h-0.9zM210.7,63.4h0.9v0.9h-0.9zM213.8,53.3h0.9v0.9h-0.9zM214.1,61.0h0.9v0.9h-0.9zM207.0,64.3h0.9v0.9h-0.9zM210.6,58.2h0.9v0.9h-0.9zM216.0,67.3h0.9v0.9h-0.9zM208.6,62.4h0.9v0.9h-0.9zM207.6,72.7h0.9v0.9h-0.9zM209.5,66.6h0.9v0.9h-0.9zM208.8,64.5h0.9v0.9h-0.9zM223.1,46.0h0.9v0.9h-0.9zM209.8,62.8h0.9v0.9h-0.9zM211.5,56.3h0.9v0.9h-0.9zM222.8,60.4h0.9v0.9h-0.9zM203.8,64.7h0.9v0.9h-0.9zM203.4,66.3h0.9v0.9h-0.9zM209.1,60.8h0.9v0.9h-0.9zM218.3,60.6h0.9v0.9h-0.9zM205.0,50.7h0.9v0.9h-0.9zM217.9,64.1h0.9v0.9h-0.9zM207.9,64.7h0.9v0.9h-0.9zM214.5,63.6h0.9v0.9h-0.9zM200.7,58.3h0.9v0.9h-0.9zM216.5,64.0h0.9v0.9h-0.9zM216.4,46.5h0.9v0.9h-0.9zM212.8,62.7h0.9v0.9h-0.9zM224.8,54.8h0.9v0.9h-0.9zM210.4,60.2h0.9v0.9h-0.9zM216.4,57.6h0.9v0.9h-0.9zM217.7,55.7h0.9v0.9h-0.9zM213.3,57.1h0.9v0.9h-0.9zM212.8,56.2h0.9v0.9h-0.9zM204.0,66.0h0.9v0.9h-0.9zM213.5,56.9h0.9v0.9h-0.9zM213.0,65.4h0.9v0.9h-0.9zM207.1,59.4h0.9v0.9h-0.9zM214.7,62.9h0.9v0.9h-0.9zM210.3,48.4h0.9v0.9h-0.9zM218.2,61.8h0.9v0.9h-0.9zM212.1,58.5h0.9v0.9h-0.9zM213.3,57.7h0.9v0.9h-0.9zM206.9,55.9h0.9v0.9h-0.9zM209.0,56.6h0.9v0.9h-0.9zM206.2,63.5h0.9v0.9h-0.9zM205.5,63.6h0.9v0.9h-0.9zM206.9,61.9h0.9v0.9h-0.9zM218.9,61.1h0.9v0.9h-0.9zM208.3,60.3h0.9v0.9h-0.9zM212.7,50.5h0.9v0.9h-0.9zM209.0,60.9h0.9v0.9h-0.9zM209.7,60.4h0.9v0.9h-0.9zM215.7,64.2h0.9v0.9h-0.9zM216.5,63.2h0.9v0.9h-0.9zM210.6,59.9h0.9v0.9h-0.9zM210.6,58.3h0.9v0.9h-0.9zM211.1,50.5h0.9v0.9h-0.9zM210.3,59.9h0.9v0.9h-0.9zM207.1,59.9h0.9v0.9h-0.9z" fill="#b0a0e0" opacity="0.5"/>
<g filter="url(#b1)" transform="rotate(0 210.5 59)"><ellipse cx="210.5" cy="59" rx="5.50" ry="6.00" fill="#8ab8e8" opacity="0.5"/><ellipse cx="210.5" cy="59" rx="3.58" ry="3.90" fill="#4aa0d8" opacity="0.6"/><ellipse cx="210.5" cy="59" rx="1.92" ry="2.10" fill="#3fb0d0" opacity="0.7"/></g>
<path d="M244.3,86.2h0.9v0.9h-0.9zM249.8,74.5h0.9v0.9h-0.9zM241.8,78.2h0.9v0.9h-0.9zM245.9,99.7h0.9v0.9h-0.9zM233.7,87.6h0.9v0.9h-0.9zM244.3,85.5h0.9v0.9h-0.9zM244.4,76.2h0.9v0.9h-0.9zM245.5,88.8h0.9v0.9h-0.9zM242.6,84.2h0.9v0.9h-0.9zM244.7,84.7h0.9v0.9h-0.9zM243.3,84.6h0.9v0.9h-0.9zM234.6,86.8h0.9v0.9h-0.9zM243.2,90.6h0.9v0.9h-0.9zM239.4,86.8h0.9v0.9h-0.9zM244.7,87.7h0.9v0.9h-0.9zM246.8,96.6h0.9v0.9h-0.9zM239.3,77.8h0.9v0.9h-0.9zM245.5,94.3h0.9v0.9h-0.9zM245.7,90.9h0.9v0.9h-0.9zM240.3,83.6h0.9v0.9h-0.9zM245.6,82.6h0.9v0.9h-0.9zM236.2,82.2h0.9v0.9h-0.9zM251.2,96.2h0.9v0.9h-0.9zM240.1,83.5h0.9v0.9h-0.9zM243.3,83.4h0.9v0.9h-0.9zM247.1,86.6h0.9v0.9h-0.9zM238.7,93.3h0.9v0.9h-0.9zM240.5,88.1h0.9v0.9h-0.9zM242.5,85.5h0.9v0.9h-0.9zM243.6,83.7h0.9v0.9h-0.9zM236.0,76.4h0.9v0.9h-0.9zM238.1,83.4h0.9v0.9h-0.9zM242.4,87.3h0.9v0.9h-0.9zM244.4,87.6h0.9v0.9h-0.9zM239.7,83.6h0.9v0.9h-0.9zM235.1,86.2h0.9v0.9h-0.9zM244.2,89.5h0.9v0.9h-0.9zM242.1,86.2h0.9v0.9h-0.9zM245.8,87.1h0.9v0.9h-0.9zM245.1,89.8h0.9v0.9h-0.9zM243.2,93.3h0.9v0.9h-0.9zM240.5,85.3h0.9v0.9h-0.9zM239.7,83.2h0.9v0.9h-0.9zM247.9,95.4h0.9v0.9h-0.9zM242.6,89.7h0.9v0.9h-0.9zM246.6,90.9h0.9v0.9h-0.9zM246.7,80.9h0.9v0.9h-0.9zM240.3,89.2h0.9v0.9h-0.9zM247.5,87.5h0.9v0.9h-0.9zM239.5,85.3h0.9v0.9h-0.9zM240.2,82.9h0.9v0.9h-0.9zM247.8,84.0h0.9v0.9h-0.9zM242.6,97.4h0.9v0.9h-0.9zM246.6,88.6h0.9v0.9h-0.9zM240.4,89.0h0.9v0.9h-0.9zM248.2,90.0h0.9v0.9h-0.9zM246.9,87.5h0.9v0.9h-0.9zM244.3,86.0h0.9v0.9h-0.9zM244.0,93.2h0.9v0.9h-0.9zM237.5,86.7h0.9v0.9h-0.9zM243.3,84.3h0.9v0.9h-0.9zM241.4,90.8h0.9v0.9h-0.9zM249.5,90.0h0.9v0.9h-0.9zM243.6,79.6h0.9v0.9h-0.9zM249.2,87.4h0.9v0.9h-0.9zM242.4,81.6h0.9v0.9h-0.9zM242.3,81.7h0.9v0.9h-0.9zM242.7,89.2h0.9v0.9h-0.9zM242.6,88.3h0.9v0.9h-0.9zM239.5,93.9h0.9v0.9h-0.9zM240.2,78.3h0.9v0.9h-0.9zM241.8,83.3h0.9v0.9h-0.9zM239.0,85.3h0.9v0.9h-0.9zM243.5,81.3h0.9v0.9h-0.9zM242.0,93.8h0.9v0.9h-0.9zM244.9,86.3h0.9v0.9h-0.9zM242.9,86.4h0.9v0.9h-0.9zM242.3,90.5h0.9v0.9h-0.9zM242.2,75.5h0.9v0.9h-0.9zM242.4,82.7h0.9v0.9h-0.9zM244.8,84.1h0.9v0.9h-0.9zM243.0,97.5h0.9v0.9h-0.9zM238.8,81.6h0.9v0.9h-0.9zM237.6,75.5h0.9v0.9h-0.9zM235.9,88.7h0.9v0.9h-0.9zM240.3,78.0h0.9v0.9h-0.9zM237.3,90.0h0.9v0.9h-0.9zM239.8,85.2h0.9v0.9h-0.9zM243.7,93.5h0.9v0.9h-0.9zM249.3,92.0h0.9v0.9h-0.9zM243.0,87.9h0.9v0.9h-0.9zM248.8,93.9h0.9v0.9h-0.9zM241.4,89.2h0.9v0.9h-0.9zM243.5,87.3h0.9v0.9h-0.9zM240.7,80.6h0.9v0.9h-0.9zM240.6,79.6h0.9v0.9h-0.9zM246.8,89.6h0.9v0.9h-0.9zM238.3,93.7h0.9v0.9h-0.9zM245.6,77.8h0.9v0.9h-0.9zM248.9,90.9h0.9v0.9h-0.9zM249.7,81.1h0.9v0.9h-0.9zM244.4,89.0h0.9v0.9h-0.9zM243.2,87.8h0.9v0.9h-0.9zM246.2,79.8h0.9v0.9h-0.9zM238.2,80.3h0.9v0.9h-0.9zM240.5,84.1h0.9v0.9h-0.9zM243.8,88.3h0.9v0.9h-0.9zM242.6,83.8h0.9v0.9h-0.9zM241.0,91.6h0.9v0.9h-0.9zM245.2,87.5h0.9v0.9h-0.9zM241.4,94.5h0.9v0.9h-0.9zM240.4,90.1h0.9v0.9h-0.9zM246.5,85.7h0.9v0.9h-0.9zM245.4,81.6h0.9v0.9h-0.9zM246.0,88.0h0.9v0.9h-0.9zM236.9,90.2h0.9v0.9h-0.9zM239.4,93.2h0.9v0.9h-0.9zM240.1,86.2h0.9v0.9h-0.9zM243.5,85.4h0.9v0.9h-0.9zM243.4,84.3h0.9v0.9h-0.9zM244.9,87.0h0.9v0.9h-0.9zM243.2,73.8h0.9v0.9h-0.9zM246.6,87.2h0.9v0.9h-0.9zM236.3,87.5h0.9v0.9h-0.9zM244.1,92.1h0.9v0.9h-0.9zM238.7,94.4h0.9v0.9h-0.9zM241.9,98.5h0.9v0.9h-0.9zM242.0,90.3h0.9v0.9h-0.9zM241.2,81.6h0.9v0.9h-0.9zM246.3,91.4h0.9v0.9h-0.9zM247.9,91.1h0.9v0.9h-0.9zM240.5,79.0h0.9v0.9h-0.9zM240.2,83.8h0.9v0.9h-0.9zM239.6,89.8h0.9v0.9h-0.9zM243.6,85.7h0.9v0.9h-0.9zM243.1,86.3h0.9v0.9h-0.9zM243.2,90.6h0.9v0.9h-0.9zM245.9,83.7h0.9v0.9h-0.9zM237.2,93.9h0.9v0.9h-0.9zM242.9,92.3h0.9v0.9h-0.9z" fill="#5a90d8" opacity="0.45"/>
<g filter="url(#b1)" transform="rotate(0 242.3 87.6)"><ellipse cx="242.3" cy="87.6" rx="4.00" ry="5.00" fill="#8ab8e8" opacity="0.5"/><ellipse cx="242.3" cy="87.6" rx="2.80" ry="3.50" fill="#40a8d8" opacity="0.7"/><ellipse cx="242.3" cy="87.6" rx="1.60" ry="2.00" fill="#3fc0d0" opacity="0.8"/></g>
<path d="M208.8,86.2h0.9v0.9h-0.9zM217.1,83.4h0.9v0.9h-0.9zM214.4,88.8h0.9v0.9h-0.9zM222.4,91.0h0.9v0.9h-0.9zM212.7,83.5h0.9v0.9h-0.9zM219.6,89.4h0.9v0.9h-0.9zM218.0,83.7h0.9v0.9h-0.9zM220.9,89.0h0.9v0.9h-0.9zM219.8,85.8h0.9v0.9h-0.9zM218.5,89.0h0.9v0.9h-0.9zM214.2,82.4h0.9v0.9h-0.9zM218.6,88.2h0.9v0.9h-0.9zM217.1,89.2h0.9v0.9h-0.9zM214.1,86.8h0.9v0.9h-0.9zM215.5,88.4h0.9v0.9h-0.9zM225.0,86.4h0.9v0.9h-0.9zM227.3,90.8h0.9v0.9h-0.9zM221.0,88.5h0.9v0.9h-0.9zM225.9,86.5h0.9v0.9h-0.9zM216.4,84.3h0.9v0.9h-0.9zM219.4,90.4h0.9v0.9h-0.9zM219.7,88.1h0.9v0.9h-0.9zM216.0,87.4h0.9v0.9h-0.9zM209.9,89.6h0.9v0.9h-0.9zM215.0,84.2h0.9v0.9h-0.9zM213.2,84.9h0.9v0.9h-0.9zM221.3,89.6h0.9v0.9h-0.9zM210.2,89.3h0.9v0.9h-0.9zM221.4,85.6h0.9v0.9h-0.9zM209.6,85.1h0.9v0.9h-0.9zM213.8,87.9h0.9v0.9h-0.9zM215.2,81.9h0.9v0.9h-0.9zM218.2,83.2h0.9v0.9h-0.9zM221.5,84.0h0.9v0.9h-0.9zM213.5,84.9h0.9v0.9h-0.9zM214.3,90.2h0.9v0.9h-0.9zM221.3,88.5h0.9v0.9h-0.9zM218.6,83.1h0.9v0.9h-0.9zM214.4,85.6h0.9v0.9h-0.9zM212.1,88.3h0.9v0.9h-0.9zM213.3,85.2h0.9v0.9h-0.9zM211.8,81.9h0.9v0.9h-0.9zM220.0,90.3h0.9v0.9h-0.9zM217.9,84.6h0.9v0.9h-0.9zM203.5,87.4h0.9v0.9h-0.9zM223.1,87.7h0.9v0.9h-0.9zM221.6,90.7h0.9v0.9h-0.9zM222.6,85.9h0.9v0.9h-0.9zM222.3,88.9h0.9v0.9h-0.9zM209.3,86.0h0.9v0.9h-0.9zM209.9,86.7h0.9v0.9h-0.9zM219.9,84.3h0.9v0.9h-0.9zM206.7,90.2h0.9v0.9h-0.9zM218.9,90.7h0.9v0.9h-0.9zM210.4,89.7h0.9v0.9h-0.9zM227.4,92.0h0.9v0.9h-0.9zM215.9,87.7h0.9v0.9h-0.9zM216.2,89.5h0.9v0.9h-0.9zM222.2,87.2h0.9v0.9h-0.9zM210.2,88.9h0.9v0.9h-0.9zM214.7,88.6h0.9v0.9h-0.9zM218.3,91.1h0.9v0.9h-0.9zM222.7,85.9h0.9v0.9h-0.9zM218.7,91.4h0.9v0.9h-0.9zM214.3,88.1h0.9v0.9h-0.9zM223.0,90.1h0.9v0.9h-0.9zM219.6,83.7h0.9v0.9h-0.9zM210.7,87.6h0.9v0.9h-0.9zM218.9,93.4h0.9v0.9h-0.9zM212.7,89.8h0.9v0.9h-0.9zM220.9,82.8h0.9v0.9h-0.9zM212.9,87.4h0.9v0.9h-0.9zM214.5,86.6h0.9v0.9h-0.9zM219.4,85.0h0.9v0.9h-0.9zM219.3,85.4h0.9v0.9h-0.9zM214.3,88.3h0.9v0.9h-0.9zM214.1,87.7h0.9v0.9h-0.9zM225.0,87.1h0.9v0.9h-0.9zM216.3,88.8h0.9v0.9h-0.9zM215.2,89.7h0.9v0.9h-0.9zM210.6,88.5h0.9v0.9h-0.9zM214.4,85.0h0.9v0.9h-0.9zM225.8,84.9h0.9v0.9h-0.9zM225.8,88.6h0.9v0.9h-0.9zM224.3,84.6h0.9v0.9h-0.9zM223.0,90.6h0.9v0.9h-0.9zM216.4,86.7h0.9v0.9h-0.9zM229.3,87.4h0.9v0.9h-0.9zM214.9,85.4h0.9v0.9h-0.9zM219.2,87.8h0.9v0.9h-0.9z" fill="#c0a8e0" opacity="0.5"/>
<path d="M212.8,94.0h0.9v0.9h-0.9zM210.5,90.7h0.9v0.9h-0.9zM218.6,86.9h0.9v0.9h-0.9zM216.7,94.3h0.9v0.9h-0.9zM205.9,86.6h0.9v0.9h-0.9zM207.3,84.7h0.9v0.9h-0.9zM214.0,84.7h0.9v0.9h-0.9zM214.2,93.3h0.9v0.9h-0.9zM204.7,88.7h0.9v0.9h-0.9zM203.4,91.5h0.9v0.9h-0.9zM208.7,88.8h0.9v0.9h-0.9zM212.2,90.9h0.9v0.9h-0.9zM210.4,89.5h0.9v0.9h-0.9zM209.5,89.8h0.9v0.9h-0.9zM206.7,89.7h0.9v0.9h-0.9zM203.3,88.2h0.9v0.9h-0.9zM220.6,89.7h0.9v0.9h-0.9zM206.3,90.2h0.9v0.9h-0.9zM207.6,85.2h0.9v0.9h-0.9zM208.7,91.4h0.9v0.9h-0.9zM213.7,89.2h0.9v0.9h-0.9zM207.8,86.7h0.9v0.9h-0.9zM218.1,90.1h0.9v0.9h-0.9zM207.7,84.0h0.9v0.9h-0.9zM205.8,95.9h0.9v0.9h-0.9zM206.8,89.3h0.9v0.9h-0.9zM212.9,89.1h0.9v0.9h-0.9zM210.7,85.9h0.9v0.9h-0.9zM207.3,93.9h0.9v0.9h-0.9zM208.6,91.7h0.9v0.9h-0.9zM204.4,88.8h0.9v0.9h-0.9zM213.2,92.2h0.9v0.9h-0.9zM206.9,91.0h0.9v0.9h-0.9zM213.7,87.6h0.9v0.9h-0.9zM214.1,87.2h0.9v0.9h-0.9zM208.4,89.5h0.9v0.9h-0.9zM199.8,89.2h0.9v0.9h-0.9zM207.5,85.7h0.9v0.9h-0.9zM210.1,91.5h0.9v0.9h-0.9zM210.2,92.8h0.9v0.9h-0.9zM206.8,86.1h0.9v0.9h-0.9zM219.0,90.5h0.9v0.9h-0.9zM216.3,87.4h0.9v0.9h-0.9zM215.6,90.2h0.9v0.9h-0.9zM214.9,89.6h0.9v0.9h-0.9zM217.4,87.8h0.9v0.9h-0.9zM207.7,85.7h0.9v0.9h-0.9zM217.2,87.6h0.9v0.9h-0.9zM207.3,87.1h0.9v0.9h-0.9zM210.0,86.2h0.9v0.9h-0.9zM210.7,87.9h0.9v0.9h-0.9zM209.5,87.0h0.9v0.9h-0.9zM212.2,88.3h0.9v0.9h-0.9zM212.5,90.1h0.9v0.9h-0.9zM213.5,83.8h0.9v0.9h-0.9zM209.6,87.4h0.9v0.9h-0.9zM215.5,85.4h0.9v0.9h-0.9zM208.8,88.7h0.9v0.9h-0.9zM210.5,92.1h0.9v0.9h-0.9zM210.0,92.0h0.9v0.9h-0.9zM205.4,84.8h0.9v0.9h-0.9zM217.5,90.6h0.9v0.9h-0.9zM214.2,89.8h0.9v0.9h-0.9zM214.2,86.3h0.9v0.9h-0.9zM216.3,88.1h0.9v0.9h-0.9zM216.4,89.7h0.9v0.9h-0.9zM203.1,86.2h0.9v0.9h-0.9zM217.1,89.1h0.9v0.9h-0.9zM210.2,90.1h0.9v0.9h-0.9zM210.1,88.1h0.9v0.9h-0.9zM212.5,89.9h0.9v0.9h-0.9zM218.8,89.6h0.9v0.9h-0.9zM220.5,94.2h0.9v0.9h-0.9zM219.7,92.3h0.9v0.9h-0.9zM212.6,89.9h0.9v0.9h-0.9zM211.4,87.6h0.9v0.9h-0.9zM211.7,87.8h0.9v0.9h-0.9zM219.4,90.9h0.9v0.9h-0.9zM210.0,84.5h0.9v0.9h-0.9zM211.8,88.4h0.9v0.9h-0.9zM207.1,86.5h0.9v0.9h-0.9zM201.9,91.0h0.9v0.9h-0.9zM211.7,96.2h0.9v0.9h-0.9zM211.9,89.1h0.9v0.9h-0.9zM218.5,89.8h0.9v0.9h-0.9zM212.8,88.5h0.9v0.9h-0.9zM209.3,93.4h0.9v0.9h-0.9zM216.5,94.0h0.9v0.9h-0.9zM210.4,89.6h0.9v0.9h-0.9zM208.0,92.0h0.9v0.9h-0.9zM205.7,91.0h0.9v0.9h-0.9zM216.9,93.2h0.9v0.9h-0.9zM207.8,92.3h0.9v0.9h-0.9zM208.8,87.5h0.9v0.9h-0.9zM206.0,92.5h0.9v0.9h-0.9zM219.4,88.0h0.9v0.9h-0.9zM208.6,88.6h0.9v0.9h-0.9zM223.3,92.1h0.9v0.9h-0.9zM209.6,84.8h0.9v0.9h-0.9zM209.0,92.6h0.9v0.9h-0.9zM220.4,88.8h0.9v0.9h-0.9zM208.9,88.2h0.9v0.9h-0.9zM203.5,91.9h0.9v0.9h-0.9zM207.1,92.3h0.9v0.9h-0.9zM204.3,86.2h0.9v0.9h-0.9zM213.3,87.5h0.9v0.9h-0.9zM215.5,89.5h0.9v0.9h-0.9zM206.7,91.1h0.9v0.9h-0.9zM215.8,84.5h0.9v0.9h-0.9zM220.2,90.8h0.9v0.9h-0.9zM215.4,84.7h0.9v0.9h-0.9zM208.8,88.6h0.9v0.9h-0.9zM216.8,85.7h0.9v0.9h-0.9zM208.0,84.2h0.9v0.9h-0.9zM210.9,90.4h0.9v0.9h-0.9zM204.4,88.0h0.9v0.9h-0.9zM214.3,93.6h0.9v0.9h-0.9zM215.0,88.7h0.9v0.9h-0.9zM206.7,87.1h0.9v0.9h-0.9zM209.0,89.9h0.9v0.9h-0.9z" fill="#5a9ad8" opacity="0.5"/>
<g filter="url(#b05)" transform="rotate(0 209.6 89.8)"><ellipse cx="209.6" cy="89.8" rx="5.20" ry="3.20" fill="#5a8fd6" opacity="0.75"/><ellipse cx="209.6" cy="89.8" rx="3.64" ry="2.24" fill="#3fb4d8" opacity="0.9"/><ellipse cx="209.6" cy="89.8" rx="2.60" ry="1.60" fill="#4cc060" opacity="1"/><ellipse cx="209.6" cy="89.8" rx="1.56" ry="0.96" fill="#f0e020" opacity="1"/></g>
<rect x="201.5" y="46.6" width="22.0" height="24.699999999999996" fill="none" stroke="#8c8c8c" stroke-width="0.8"/>
<rect x="232.5" y="76.2" width="24.19999999999999" height="21.89999999999999" fill="none" stroke="#8c8c8c" stroke-width="0.8"/>
<text x="223.5" y="51.1" font-size="6.5" text-anchor="start" fill="#111" textLength="12.6" lengthAdjust="spacingAndGlyphs" >24.3</text>
<text x="243.6" y="72.5" font-size="6.5" text-anchor="start" fill="#111" textLength="12.3" lengthAdjust="spacingAndGlyphs" >18.3</text>
<rect x="197.3" y="40.8" width="62.099999999999966" height="61.60000000000001" fill="none" stroke="#111" stroke-width="1.2"/>
<line x1="195.3" y1="44" x2="197.3" y2="44" stroke="#222" stroke-width="0.8" />
<line x1="195.3" y1="47" x2="197.3" y2="47" stroke="#222" stroke-width="0.8" />
<line x1="195.3" y1="50" x2="197.3" y2="50" stroke="#222" stroke-width="0.8" />
<line x1="195.3" y1="53" x2="197.3" y2="53" stroke="#222" stroke-width="0.8" />
<line x1="195.3" y1="56" x2="197.3" y2="56" stroke="#222" stroke-width="0.8" />
<line x1="195.3" y1="61" x2="197.3" y2="61" stroke="#222" stroke-width="0.8" />
<line x1="195.3" y1="64" x2="197.3" y2="64" stroke="#222" stroke-width="0.8" />
<line x1="195.3" y1="67" x2="197.3" y2="67" stroke="#222" stroke-width="0.8" />
<line x1="195.3" y1="70" x2="197.3" y2="70" stroke="#222" stroke-width="0.8" />
<line x1="195.3" y1="75" x2="197.3" y2="75" stroke="#222" stroke-width="0.8" />
<line x1="195.3" y1="80" x2="197.3" y2="80" stroke="#222" stroke-width="0.8" />
<line x1="195.3" y1="85" x2="197.3" y2="85" stroke="#222" stroke-width="0.8" />
<line x1="195.3" y1="90" x2="197.3" y2="90" stroke="#222" stroke-width="0.8" />
<line x1="195.3" y1="95" x2="197.3" y2="95" stroke="#222" stroke-width="0.8" />
<line x1="203" y1="102.4" x2="203" y2="104.4" stroke="#222" stroke-width="0.8" />
<line x1="207" y1="102.4" x2="207" y2="104.4" stroke="#222" stroke-width="0.8" />
<line x1="214" y1="102.4" x2="214" y2="104.4" stroke="#222" stroke-width="0.8" />
<line x1="218" y1="102.4" x2="218" y2="104.4" stroke="#222" stroke-width="0.8" />
<line x1="222" y1="102.4" x2="222" y2="104.4" stroke="#222" stroke-width="0.8" />
<line x1="226" y1="102.4" x2="226" y2="104.4" stroke="#222" stroke-width="0.8" />
<line x1="232" y1="102.4" x2="232" y2="104.4" stroke="#222" stroke-width="0.8" />
<line x1="236" y1="102.4" x2="236" y2="104.4" stroke="#222" stroke-width="0.8" />
<line x1="240" y1="102.4" x2="240" y2="104.4" stroke="#222" stroke-width="0.8" />
<line x1="245" y1="102.4" x2="245" y2="104.4" stroke="#222" stroke-width="0.8" />
<line x1="249" y1="102.4" x2="249" y2="104.4" stroke="#222" stroke-width="0.8" />
<line x1="253" y1="102.4" x2="253" y2="104.4" stroke="#222" stroke-width="0.8" />
<line x1="257" y1="102.4" x2="257" y2="104.4" stroke="#222" stroke-width="0.8" />
<text x="193.5" y="48" font-size="6.3" text-anchor="end" fill="#111">10<tspan font-size="3.78" dy="-2.4">5</tspan></text>
<text x="193.5" y="60" font-size="6.3" text-anchor="end" fill="#111">10<tspan font-size="3.78" dy="-2.4">4</tspan></text>
<text x="193.5" y="74" font-size="6.3" text-anchor="end" fill="#111">10<tspan font-size="3.78" dy="-2.4">3</tspan></text>
<text x="190.5" y="92.4" font-size="6.3" text-anchor="end" fill="#111" >0</text>
<text x="209.9" y="112.9" font-size="6.3" text-anchor="middle" fill="#111" >0</text>
<text x="227.7" y="112.9" font-size="6.3" text-anchor="middle" fill="#111">10<tspan font-size="3.78" dy="-2.4">3</tspan></text>
<text x="241.6" y="112.9" font-size="6.3" text-anchor="middle" fill="#111">10<tspan font-size="3.78" dy="-2.4">4</tspan></text>
<text x="254" y="112.9" font-size="6.3" text-anchor="middle" fill="#111">10<tspan font-size="3.78" dy="-2.4">5</tspan></text>
<path d="M293.8,65.3h0.9v0.9h-0.9zM295.4,51.6h0.9v0.9h-0.9zM301.7,61.7h0.9v0.9h-0.9zM294.5,53.4h0.9v0.9h-0.9zM284.6,51.9h0.9v0.9h-0.9zM298.6,53.0h0.9v0.9h-0.9zM287.4,58.0h0.9v0.9h-0.9zM295.2,60.0h0.9v0.9h-0.9zM297.3,64.0h0.9v0.9h-0.9zM289.8,61.9h0.9v0.9h-0.9zM289.1,60.5h0.9v0.9h-0.9zM294.9,58.2h0.9v0.9h-0.9zM298.8,56.9h0.9v0.9h-0.9zM299.6,61.4h0.9v0.9h-0.9zM294.7,54.2h0.9v0.9h-0.9zM290.2,54.4h0.9v0.9h-0.9zM293.0,56.9h0.9v0.9h-0.9zM308.9,60.2h0.9v0.9h-0.9zM297.8,52.7h0.9v0.9h-0.9zM290.4,55.4h0.9v0.9h-0.9zM295.0,51.8h0.9v0.9h-0.9zM302.1,54.2h0.9v0.9h-0.9zM299.4,45.3h0.9v0.9h-0.9zM294.0,58.4h0.9v0.9h-0.9zM295.0,60.0h0.9v0.9h-0.9zM295.4,57.8h0.9v0.9h-0.9zM284.5,53.4h0.9v0.9h-0.9zM282.3,60.1h0.9v0.9h-0.9zM295.5,56.0h0.9v0.9h-0.9zM289.9,54.1h0.9v0.9h-0.9zM303.2,65.7h0.9v0.9h-0.9zM293.7,63.4h0.9v0.9h-0.9zM286.1,47.3h0.9v0.9h-0.9zM291.6,52.6h0.9v0.9h-0.9zM291.2,57.9h0.9v0.9h-0.9zM309.1,53.7h0.9v0.9h-0.9zM294.2,58.4h0.9v0.9h-0.9zM293.8,61.7h0.9v0.9h-0.9zM302.9,50.8h0.9v0.9h-0.9zM294.8,55.7h0.9v0.9h-0.9zM295.8,49.3h0.9v0.9h-0.9zM285.2,45.4h0.9v0.9h-0.9zM296.6,58.0h0.9v0.9h-0.9zM294.4,45.2h0.9v0.9h-0.9zM292.1,53.2h0.9v0.9h-0.9zM286.9,52.4h0.9v0.9h-0.9zM297.5,59.7h0.9v0.9h-0.9zM293.9,59.6h0.9v0.9h-0.9zM291.0,57.4h0.9v0.9h-0.9zM294.2,59.8h0.9v0.9h-0.9zM293.7,56.3h0.9v0.9h-0.9zM293.3,53.8h0.9v0.9h-0.9zM305.2,59.6h0.9v0.9h-0.9zM296.1,68.5h0.9v0.9h-0.9zM301.0,49.2h0.9v0.9h-0.9zM297.5,61.2h0.9v0.9h-0.9zM303.4,63.6h0.9v0.9h-0.9zM297.9,51.1h0.9v0.9h-0.9zM289.6,58.3h0.9v0.9h-0.9zM296.5,51.9h0.9v0.9h-0.9zM292.1,55.0h0.9v0.9h-0.9zM294.3,58.7h0.9v0.9h-0.9zM292.6,50.8h0.9v0.9h-0.9zM300.2,65.0h0.9v0.9h-0.9zM293.5,62.1h0.9v0.9h-0.9zM296.2,60.3h0.9v0.9h-0.9zM296.4,53.2h0.9v0.9h-0.9zM296.9,62.1h0.9v0.9h-0.9zM289.5,66.8h0.9v0.9h-0.9zM304.4,66.1h0.9v0.9h-0.9zM303.9,60.7h0.9v0.9h-0.9zM292.3,54.0h0.9v0.9h-0.9zM289.9,57.6h0.9v0.9h-0.9zM293.8,60.4h0.9v0.9h-0.9zM283.9,68.6h0.9v0.9h-0.9zM305.4,56.9h0.9v0.9h-0.9zM297.4,59.4h0.9v0.9h-0.9zM295.4,56.0h0.9v0.9h-0.9zM293.4,52.9h0.9v0.9h-0.9zM294.9,56.9h0.9v0.9h-0.9zM295.6,52.7h0.9v0.9h-0.9zM294.2,57.2h0.9v0.9h-0.9zM297.0,51.7h0.9v0.9h-0.9zM296.1,61.9h0.9v0.9h-0.9zM297.0,55.2h0.9v0.9h-0.9zM291.5,55.8h0.9v0.9h-0.9zM297.6,64.8h0.9v0.9h-0.9zM293.2,53.8h0.9v0.9h-0.9zM295.9,58.0h0.9v0.9h-0.9zM289.5,53.3h0.9v0.9h-0.9z" fill="#8f98d8" opacity="0.45"/>
<g filter="url(#b1)" transform="rotate(0 294 57)"><ellipse cx="294" cy="57" rx="5.50" ry="5.00" fill="#b8bce6" opacity="0.5"/><ellipse cx="294" cy="57" rx="3.03" ry="2.75" fill="#9aa2dc" opacity="0.6"/></g>
<path d="M305.1,84.3h0.9v0.9h-0.9zM292.3,86.4h0.9v0.9h-0.9zM307.7,76.0h0.9v0.9h-0.9zM306.6,82.3h0.9v0.9h-0.9zM302.3,80.1h0.9v0.9h-0.9zM303.9,81.5h0.9v0.9h-0.9zM306.8,77.9h0.9v0.9h-0.9zM312.5,71.4h0.9v0.9h-0.9zM303.4,83.0h0.9v0.9h-0.9zM313.0,74.8h0.9v0.9h-0.9zM309.2,77.4h0.9v0.9h-0.9zM314.6,82.1h0.9v0.9h-0.9zM302.0,85.5h0.9v0.9h-0.9zM297.9,89.9h0.9v0.9h-0.9zM316.4,75.0h0.9v0.9h-0.9zM295.1,89.6h0.9v0.9h-0.9zM317.5,78.1h0.9v0.9h-0.9zM309.7,72.6h0.9v0.9h-0.9zM300.9,89.6h0.9v0.9h-0.9zM295.4,92.0h0.9v0.9h-0.9zM323.8,73.0h0.9v0.9h-0.9zM314.9,74.6h0.9v0.9h-0.9zM293.4,88.9h0.9v0.9h-0.9zM303.1,83.0h0.9v0.9h-0.9zM311.3,77.6h0.9v0.9h-0.9zM307.5,82.0h0.9v0.9h-0.9zM307.9,86.7h0.9v0.9h-0.9zM309.3,79.6h0.9v0.9h-0.9zM302.1,81.6h0.9v0.9h-0.9zM317.8,74.5h0.9v0.9h-0.9zM294.0,86.9h0.9v0.9h-0.9zM303.0,81.7h0.9v0.9h-0.9zM313.3,72.7h0.9v0.9h-0.9zM309.8,79.5h0.9v0.9h-0.9zM294.1,89.0h0.9v0.9h-0.9zM304.9,83.8h0.9v0.9h-0.9zM301.3,85.4h0.9v0.9h-0.9zM287.7,89.0h0.9v0.9h-0.9zM314.0,80.1h0.9v0.9h-0.9zM303.9,80.6h0.9v0.9h-0.9zM311.8,70.4h0.9v0.9h-0.9zM298.6,88.4h0.9v0.9h-0.9zM309.4,75.6h0.9v0.9h-0.9zM289.7,96.7h0.9v0.9h-0.9zM305.0,78.8h0.9v0.9h-0.9zM306.9,84.0h0.9v0.9h-0.9zM282.6,99.9h0.9v0.9h-0.9zM308.6,72.4h0.9v0.9h-0.9zM309.4,73.0h0.9v0.9h-0.9zM316.3,76.4h0.9v0.9h-0.9zM325.0,67.3h0.9v0.9h-0.9zM306.7,84.6h0.9v0.9h-0.9zM297.9,83.9h0.9v0.9h-0.9zM301.4,84.0h0.9v0.9h-0.9zM295.7,89.5h0.9v0.9h-0.9zM310.2,79.0h0.9v0.9h-0.9zM320.3,71.3h0.9v0.9h-0.9zM316.3,73.0h0.9v0.9h-0.9zM309.0,72.7h0.9v0.9h-0.9zM306.6,80.4h0.9v0.9h-0.9zM299.4,83.3h0.9v0.9h-0.9zM300.6,82.2h0.9v0.9h-0.9zM283.6,93.3h0.9v0.9h-0.9zM299.0,83.9h0.9v0.9h-0.9zM294.9,87.8h0.9v0.9h-0.9zM311.9,76.8h0.9v0.9h-0.9zM302.6,88.3h0.9v0.9h-0.9zM315.6,78.7h0.9v0.9h-0.9zM315.3,74.4h0.9v0.9h-0.9zM305.6,85.6h0.9v0.9h-0.9zM299.6,84.9h0.9v0.9h-0.9zM309.1,80.7h0.9v0.9h-0.9zM304.0,86.1h0.9v0.9h-0.9zM304.5,84.9h0.9v0.9h-0.9zM316.0,77.4h0.9v0.9h-0.9zM310.0,74.8h0.9v0.9h-0.9zM291.8,88.1h0.9v0.9h-0.9zM311.8,83.0h0.9v0.9h-0.9zM294.1,89.9h0.9v0.9h-0.9zM295.9,85.1h0.9v0.9h-0.9zM303.5,85.4h0.9v0.9h-0.9zM308.9,83.8h0.9v0.9h-0.9zM297.2,90.0h0.9v0.9h-0.9zM313.8,76.8h0.9v0.9h-0.9zM308.6,77.8h0.9v0.9h-0.9zM294.2,87.3h0.9v0.9h-0.9zM303.6,93.1h0.9v0.9h-0.9zM303.1,89.0h0.9v0.9h-0.9zM307.4,81.6h0.9v0.9h-0.9zM310.7,75.7h0.9v0.9h-0.9zM314.1,77.6h0.9v0.9h-0.9zM291.8,92.4h0.9v0.9h-0.9zM310.9,79.9h0.9v0.9h-0.9zM319.1,71.7h0.9v0.9h-0.9zM311.0,80.9h0.9v0.9h-0.9zM298.5,90.3h0.9v0.9h-0.9zM289.4,87.1h0.9v0.9h-0.9zM308.1,76.2h0.9v0.9h-0.9zM301.3,78.5h0.9v0.9h-0.9zM303.8,78.7h0.9v0.9h-0.9zM305.8,76.1h0.9v0.9h-0.9zM308.8,78.7h0.9v0.9h-0.9zM305.5,81.5h0.9v0.9h-0.9zM304.1,77.9h0.9v0.9h-0.9zM281.1,97.0h0.9v0.9h-0.9zM295.5,86.3h0.9v0.9h-0.9zM305.8,74.5h0.9v0.9h-0.9zM296.9,84.9h0.9v0.9h-0.9zM295.7,89.0h0.9v0.9h-0.9zM302.4,80.7h0.9v0.9h-0.9zM297.1,89.8h0.9v0.9h-0.9zM299.8,87.3h0.9v0.9h-0.9zM306.2,74.6h0.9v0.9h-0.9zM294.9,88.3h0.9v0.9h-0.9zM309.4,82.0h0.9v0.9h-0.9zM314.1,80.0h0.9v0.9h-0.9zM301.2,83.6h0.9v0.9h-0.9zM311.6,76.4h0.9v0.9h-0.9zM312.3,71.8h0.9v0.9h-0.9zM310.8,77.7h0.9v0.9h-0.9zM288.2,96.0h0.9v0.9h-0.9zM307.9,80.2h0.9v0.9h-0.9zM294.2,87.1h0.9v0.9h-0.9zM317.8,71.1h0.9v0.9h-0.9zM293.6,88.7h0.9v0.9h-0.9zM299.9,82.0h0.9v0.9h-0.9zM298.8,89.6h0.9v0.9h-0.9zM294.7,95.4h0.9v0.9h-0.9zM298.2,82.4h0.9v0.9h-0.9zM313.2,78.8h0.9v0.9h-0.9zM296.5,90.0h0.9v0.9h-0.9zM286.4,90.4h0.9v0.9h-0.9zM315.1,74.8h0.9v0.9h-0.9zM293.7,90.9h0.9v0.9h-0.9zM313.5,76.6h0.9v0.9h-0.9zM287.6,91.7h0.9v0.9h-0.9zM310.1,81.5h0.9v0.9h-0.9zM321.9,70.6h0.9v0.9h-0.9zM300.4,84.7h0.9v0.9h-0.9zM314.8,72.6h0.9v0.9h-0.9zM312.8,67.4h0.9v0.9h-0.9zM311.4,75.6h0.9v0.9h-0.9zM310.4,81.1h0.9v0.9h-0.9zM293.8,88.7h0.9v0.9h-0.9zM308.2,82.1h0.9v0.9h-0.9zM294.7,84.9h0.9v0.9h-0.9zM291.1,99.7h0.9v0.9h-0.9zM302.9,82.6h0.9v0.9h-0.9zM292.5,93.1h0.9v0.9h-0.9zM302.3,88.8h0.9v0.9h-0.9zM313.0,77.1h0.9v0.9h-0.9zM310.0,74.9h0.9v0.9h-0.9zM301.0,82.4h0.9v0.9h-0.9zM293.2,89.4h0.9v0.9h-0.9zM305.9,86.5h0.9v0.9h-0.9zM295.7,86.2h0.9v0.9h-0.9zM309.6,80.6h0.9v0.9h-0.9zM304.5,80.6h0.9v0.9h-0.9zM310.2,80.0h0.9v0.9h-0.9zM287.4,92.1h0.9v0.9h-0.9zM290.3,87.0h0.9v0.9h-0.9zM306.5,81.3h0.9v0.9h-0.9zM304.7,79.1h0.9v0.9h-0.9zM301.7,80.9h0.9v0.9h-0.9zM309.7,81.5h0.9v0.9h-0.9zM323.4,75.0h0.9v0.9h-0.9zM296.8,85.5h0.9v0.9h-0.9zM296.7,88.2h0.9v0.9h-0.9zM324.6,72.3h0.9v0.9h-0.9zM282.5,91.6h0.9v0.9h-0.9zM293.8,90.8h0.9v0.9h-0.9zM305.5,82.8h0.9v0.9h-0.9zM320.3,69.5h0.9v0.9h-0.9zM300.2,91.9h0.9v0.9h-0.9zM307.0,78.0h0.9v0.9h-0.9zM283.7,89.9h0.9v0.9h-0.9zM282.3,96.4h0.9v0.9h-0.9zM307.0,84.3h0.9v0.9h-0.9zM302.6,81.0h0.9v0.9h-0.9zM301.1,91.2h0.9v0.9h-0.9zM288.8,92.7h0.9v0.9h-0.9zM306.2,83.4h0.9v0.9h-0.9zM302.0,85.6h0.9v0.9h-0.9zM312.4,76.9h0.9v0.9h-0.9zM300.4,84.2h0.9v0.9h-0.9zM295.7,87.1h0.9v0.9h-0.9zM302.5,84.3h0.9v0.9h-0.9zM319.5,77.5h0.9v0.9h-0.9zM301.8,86.1h0.9v0.9h-0.9zM309.0,82.2h0.9v0.9h-0.9zM305.6,82.6h0.9v0.9h-0.9zM299.4,82.7h0.9v0.9h-0.9zM315.2,80.2h0.9v0.9h-0.9zM311.9,79.2h0.9v0.9h-0.9zM306.8,79.3h0.9v0.9h-0.9zM289.4,94.1h0.9v0.9h-0.9zM306.0,79.4h0.9v0.9h-0.9zM298.0,90.9h0.9v0.9h-0.9zM291.0,97.0h0.9v0.9h-0.9zM314.7,84.3h0.9v0.9h-0.9zM298.3,86.1h0.9v0.9h-0.9zM300.5,85.3h0.9v0.9h-0.9zM301.9,81.3h0.9v0.9h-0.9zM313.8,73.7h0.9v0.9h-0.9zM301.1,86.4h0.9v0.9h-0.9zM299.3,84.0h0.9v0.9h-0.9zM307.7,79.0h0.9v0.9h-0.9zM293.2,89.0h0.9v0.9h-0.9zM305.7,87.6h0.9v0.9h-0.9zM296.3,90.9h0.9v0.9h-0.9zM297.1,85.7h0.9v0.9h-0.9zM302.4,84.6h0.9v0.9h-0.9zM315.8,81.4h0.9v0.9h-0.9zM301.2,89.1h0.9v0.9h-0.9zM315.6,78.3h0.9v0.9h-0.9zM299.3,88.7h0.9v0.9h-0.9zM304.6,83.5h0.9v0.9h-0.9zM303.5,85.3h0.9v0.9h-0.9zM317.2,78.4h0.9v0.9h-0.9zM304.7,85.7h0.9v0.9h-0.9zM317.1,71.2h0.9v0.9h-0.9zM316.6,70.0h0.9v0.9h-0.9zM311.0,80.3h0.9v0.9h-0.9zM319.3,74.1h0.9v0.9h-0.9zM299.2,82.8h0.9v0.9h-0.9zM294.5,91.2h0.9v0.9h-0.9zM301.6,81.6h0.9v0.9h-0.9zM308.7,77.0h0.9v0.9h-0.9zM300.2,83.4h0.9v0.9h-0.9zM322.8,76.1h0.9v0.9h-0.9zM301.0,78.9h0.9v0.9h-0.9zM307.7,80.6h0.9v0.9h-0.9zM309.2,81.4h0.9v0.9h-0.9zM303.5,86.2h0.9v0.9h-0.9zM313.1,77.7h0.9v0.9h-0.9zM300.4,83.1h0.9v0.9h-0.9zM309.7,75.2h0.9v0.9h-0.9zM302.3,81.0h0.9v0.9h-0.9zM293.0,91.7h0.9v0.9h-0.9zM304.8,82.2h0.9v0.9h-0.9zM310.8,73.1h0.9v0.9h-0.9zM304.8,83.1h0.9v0.9h-0.9zM311.0,74.4h0.9v0.9h-0.9zM312.0,78.4h0.9v0.9h-0.9zM319.5,77.0h0.9v0.9h-0.9zM313.5,84.3h0.9v0.9h-0.9zM304.3,80.9h0.9v0.9h-0.9zM300.3,81.6h0.9v0.9h-0.9z" fill="#5a8ad0" opacity="0.5"/>
<g filter="url(#b1)" transform="rotate(-32 301 85)"><ellipse cx="301" cy="85" rx="8.50" ry="2.50" fill="#8fb5e6" opacity="0.55"/><ellipse cx="301" cy="85" rx="5.53" ry="1.62" fill="#4f8fd6" opacity="0.8"/></g>
<path d="M325.9,79.7h0.9v0.9h-0.9zM325.7,90.1h0.9v0.9h-0.9zM329.3,86.6h0.9v0.9h-0.9zM330.6,85.3h0.9v0.9h-0.9zM325.6,79.8h0.9v0.9h-0.9zM323.5,84.6h0.9v0.9h-0.9zM330.8,90.5h0.9v0.9h-0.9zM322.4,90.5h0.9v0.9h-0.9zM327.6,87.2h0.9v0.9h-0.9zM326.1,86.9h0.9v0.9h-0.9zM324.3,80.4h0.9v0.9h-0.9zM325.7,93.8h0.9v0.9h-0.9zM330.6,87.0h0.9v0.9h-0.9zM323.6,87.3h0.9v0.9h-0.9zM328.9,89.7h0.9v0.9h-0.9zM324.1,89.8h0.9v0.9h-0.9zM325.3,90.5h0.9v0.9h-0.9zM324.7,81.7h0.9v0.9h-0.9zM326.2,91.5h0.9v0.9h-0.9zM322.4,87.7h0.9v0.9h-0.9zM328.8,86.6h0.9v0.9h-0.9zM323.9,97.1h0.9v0.9h-0.9zM328.7,92.7h0.9v0.9h-0.9zM323.0,95.4h0.9v0.9h-0.9zM320.7,85.9h0.9v0.9h-0.9zM328.4,94.0h0.9v0.9h-0.9zM323.0,85.3h0.9v0.9h-0.9zM326.6,79.8h0.9v0.9h-0.9zM328.1,90.7h0.9v0.9h-0.9zM324.6,90.6h0.9v0.9h-0.9zM328.5,89.6h0.9v0.9h-0.9zM327.7,94.8h0.9v0.9h-0.9zM324.5,88.9h0.9v0.9h-0.9zM324.3,92.7h0.9v0.9h-0.9zM324.7,90.3h0.9v0.9h-0.9zM326.4,88.5h0.9v0.9h-0.9zM331.5,87.8h0.9v0.9h-0.9zM330.5,91.8h0.9v0.9h-0.9zM330.2,87.5h0.9v0.9h-0.9zM329.0,91.5h0.9v0.9h-0.9zM324.0,89.4h0.9v0.9h-0.9zM325.6,88.0h0.9v0.9h-0.9zM330.2,85.1h0.9v0.9h-0.9zM320.6,80.6h0.9v0.9h-0.9zM324.6,85.4h0.9v0.9h-0.9zM326.0,90.7h0.9v0.9h-0.9zM331.6,89.5h0.9v0.9h-0.9zM327.5,85.0h0.9v0.9h-0.9zM327.8,94.1h0.9v0.9h-0.9zM330.3,79.7h0.9v0.9h-0.9zM328.8,95.1h0.9v0.9h-0.9zM328.6,81.7h0.9v0.9h-0.9zM325.0,90.7h0.9v0.9h-0.9zM327.3,84.7h0.9v0.9h-0.9zM323.2,92.4h0.9v0.9h-0.9zM321.8,94.4h0.9v0.9h-0.9zM326.1,89.5h0.9v0.9h-0.9zM321.8,85.6h0.9v0.9h-0.9zM328.2,81.8h0.9v0.9h-0.9zM332.6,82.1h0.9v0.9h-0.9zM322.1,88.4h0.9v0.9h-0.9zM327.5,91.4h0.9v0.9h-0.9zM324.8,87.3h0.9v0.9h-0.9zM325.3,85.7h0.9v0.9h-0.9zM317.8,92.4h0.9v0.9h-0.9zM326.8,88.9h0.9v0.9h-0.9zM324.0,89.3h0.9v0.9h-0.9zM326.0,87.9h0.9v0.9h-0.9zM329.5,80.8h0.9v0.9h-0.9zM326.8,83.6h0.9v0.9h-0.9zM325.0,94.7h0.9v0.9h-0.9zM322.6,87.8h0.9v0.9h-0.9zM324.1,92.3h0.9v0.9h-0.9zM322.9,80.9h0.9v0.9h-0.9zM327.6,86.7h0.9v0.9h-0.9zM325.0,92.9h0.9v0.9h-0.9zM323.2,86.6h0.9v0.9h-0.9zM326.5,90.0h0.9v0.9h-0.9zM324.4,92.7h0.9v0.9h-0.9zM333.1,86.4h0.9v0.9h-0.9zM331.9,79.1h0.9v0.9h-0.9zM330.5,86.7h0.9v0.9h-0.9zM326.4,86.7h0.9v0.9h-0.9zM324.0,82.7h0.9v0.9h-0.9zM324.7,93.8h0.9v0.9h-0.9zM329.6,86.7h0.9v0.9h-0.9zM324.3,85.2h0.9v0.9h-0.9zM322.2,96.0h0.9v0.9h-0.9zM328.1,88.7h0.9v0.9h-0.9zM324.4,83.8h0.9v0.9h-0.9zM330.2,91.6h0.9v0.9h-0.9zM323.0,92.5h0.9v0.9h-0.9zM322.5,91.0h0.9v0.9h-0.9zM323.0,86.4h0.9v0.9h-0.9zM327.6,90.1h0.9v0.9h-0.9zM329.2,84.6h0.9v0.9h-0.9zM331.0,94.0h0.9v0.9h-0.9zM326.0,90.2h0.9v0.9h-0.9zM323.5,87.5h0.9v0.9h-0.9zM321.8,88.6h0.9v0.9h-0.9zM326.6,94.0h0.9v0.9h-0.9zM329.0,91.7h0.9v0.9h-0.9zM324.9,87.2h0.9v0.9h-0.9zM324.9,89.2h0.9v0.9h-0.9zM319.9,91.5h0.9v0.9h-0.9zM321.0,86.0h0.9v0.9h-0.9zM326.1,86.0h0.9v0.9h-0.9zM331.3,87.8h0.9v0.9h-0.9zM331.0,93.3h0.9v0.9h-0.9zM324.4,89.9h0.9v0.9h-0.9zM330.1,86.8h0.9v0.9h-0.9zM326.3,85.8h0.9v0.9h-0.9zM326.2,86.7h0.9v0.9h-0.9zM326.3,92.5h0.9v0.9h-0.9zM330.4,88.8h0.9v0.9h-0.9zM326.6,91.9h0.9v0.9h-0.9zM325.1,83.6h0.9v0.9h-0.9zM329.5,84.2h0.9v0.9h-0.9zM328.9,84.0h0.9v0.9h-0.9zM331.8,83.7h0.9v0.9h-0.9zM328.7,94.7h0.9v0.9h-0.9zM323.0,94.6h0.9v0.9h-0.9zM323.4,80.6h0.9v0.9h-0.9zM328.3,91.2h0.9v0.9h-0.9zM325.4,77.3h0.9v0.9h-0.9zM325.8,86.9h0.9v0.9h-0.9zM324.8,86.9h0.9v0.9h-0.9zM320.3,85.8h0.9v0.9h-0.9zM331.7,94.9h0.9v0.9h-0.9zM324.9,85.1h0.9v0.9h-0.9zM327.3,92.8h0.9v0.9h-0.9zM328.3,83.1h0.9v0.9h-0.9zM326.5,88.8h0.9v0.9h-0.9zM330.6,93.4h0.9v0.9h-0.9zM327.7,93.5h0.9v0.9h-0.9zM324.7,94.8h0.9v0.9h-0.9zM324.7,89.9h0.9v0.9h-0.9zM328.9,84.3h0.9v0.9h-0.9zM323.8,80.6h0.9v0.9h-0.9zM326.5,88.0h0.9v0.9h-0.9zM325.0,90.4h0.9v0.9h-0.9zM319.3,88.1h0.9v0.9h-0.9zM326.3,87.1h0.9v0.9h-0.9zM328.5,95.8h0.9v0.9h-0.9zM324.6,84.1h0.9v0.9h-0.9zM324.1,88.6h0.9v0.9h-0.9zM327.9,84.5h0.9v0.9h-0.9zM329.2,83.8h0.9v0.9h-0.9zM328.6,90.0h0.9v0.9h-0.9zM327.5,97.5h0.9v0.9h-0.9z" fill="#4a80d0" opacity="0.55"/>
<g filter="url(#b1)" transform="rotate(0 326 88.2)"><ellipse cx="326" cy="88.2" rx="3.80" ry="4.50" fill="#6f9fdc" opacity="0.6"/><ellipse cx="326" cy="88.2" rx="2.66" ry="3.15" fill="#3f86cf" opacity="0.8"/><ellipse cx="326" cy="88.2" rx="1.52" ry="1.80" fill="#3fa8d8" opacity="0.9"/></g>
<g filter="url(#b05)" transform="rotate(0 291.3 89.7)"><ellipse cx="291.3" cy="89.7" rx="6.00" ry="3.40" fill="#5a8fd6" opacity="0.75"/><ellipse cx="291.3" cy="89.7" rx="4.20" ry="2.38" fill="#3fb4d8" opacity="0.9"/><ellipse cx="291.3" cy="89.7" rx="3.00" ry="1.70" fill="#4cc060" opacity="1"/><ellipse cx="291.3" cy="89.7" rx="1.80" ry="1.02" fill="#f0e020" opacity="1"/></g>
<rect x="282.9" y="46.1" width="22.5" height="24.9" fill="none" stroke="#8c8c8c" stroke-width="0.8"/>
<rect x="314.3" y="76" width="24.599999999999966" height="21.700000000000003" fill="none" stroke="#8c8c8c" stroke-width="0.8"/>
<text x="305" y="51.4" font-size="6.5" text-anchor="start" fill="#111" textLength="12.2" lengthAdjust="spacingAndGlyphs" >2.48</text>
<text x="325.5" y="72.6" font-size="6.5" text-anchor="start" fill="#111" textLength="12" lengthAdjust="spacingAndGlyphs" >10.7</text>
<rect x="278.4" y="40.9" width="62.10000000000002" height="62.00000000000001" fill="none" stroke="#111" stroke-width="1.2"/>
<line x1="276.4" y1="44" x2="278.4" y2="44" stroke="#222" stroke-width="0.8" />
<line x1="276.4" y1="47" x2="278.4" y2="47" stroke="#222" stroke-width="0.8" />
<line x1="276.4" y1="50" x2="278.4" y2="50" stroke="#222" stroke-width="0.8" />
<line x1="276.4" y1="53" x2="278.4" y2="53" stroke="#222" stroke-width="0.8" />
<line x1="276.4" y1="56" x2="278.4" y2="56" stroke="#222" stroke-width="0.8" />
<line x1="276.4" y1="61" x2="278.4" y2="61" stroke="#222" stroke-width="0.8" />
<line x1="276.4" y1="64" x2="278.4" y2="64" stroke="#222" stroke-width="0.8" />
<line x1="276.4" y1="67" x2="278.4" y2="67" stroke="#222" stroke-width="0.8" />
<line x1="276.4" y1="70" x2="278.4" y2="70" stroke="#222" stroke-width="0.8" />
<line x1="276.4" y1="75" x2="278.4" y2="75" stroke="#222" stroke-width="0.8" />
<line x1="276.4" y1="80" x2="278.4" y2="80" stroke="#222" stroke-width="0.8" />
<line x1="276.4" y1="85" x2="278.4" y2="85" stroke="#222" stroke-width="0.8" />
<line x1="276.4" y1="90" x2="278.4" y2="90" stroke="#222" stroke-width="0.8" />
<line x1="276.4" y1="95" x2="278.4" y2="95" stroke="#222" stroke-width="0.8" />
<line x1="284" y1="102.9" x2="284" y2="104.9" stroke="#222" stroke-width="0.8" />
<line x1="288" y1="102.9" x2="288" y2="104.9" stroke="#222" stroke-width="0.8" />
<line x1="295" y1="102.9" x2="295" y2="104.9" stroke="#222" stroke-width="0.8" />
<line x1="299" y1="102.9" x2="299" y2="104.9" stroke="#222" stroke-width="0.8" />
<line x1="303" y1="102.9" x2="303" y2="104.9" stroke="#222" stroke-width="0.8" />
<line x1="307" y1="102.9" x2="307" y2="104.9" stroke="#222" stroke-width="0.8" />
<line x1="313" y1="102.9" x2="313" y2="104.9" stroke="#222" stroke-width="0.8" />
<line x1="317" y1="102.9" x2="317" y2="104.9" stroke="#222" stroke-width="0.8" />
<line x1="321" y1="102.9" x2="321" y2="104.9" stroke="#222" stroke-width="0.8" />
<line x1="326" y1="102.9" x2="326" y2="104.9" stroke="#222" stroke-width="0.8" />
<line x1="330" y1="102.9" x2="330" y2="104.9" stroke="#222" stroke-width="0.8" />
<line x1="334" y1="102.9" x2="334" y2="104.9" stroke="#222" stroke-width="0.8" />
<line x1="337" y1="102.9" x2="337" y2="104.9" stroke="#222" stroke-width="0.8" />
<text x="274.7" y="48" font-size="6.3" text-anchor="end" fill="#111">10<tspan font-size="3.78" dy="-2.4">5</tspan></text>
<text x="274.7" y="60" font-size="6.3" text-anchor="end" fill="#111">10<tspan font-size="3.78" dy="-2.4">4</tspan></text>
<text x="274.7" y="74" font-size="6.3" text-anchor="end" fill="#111">10<tspan font-size="3.78" dy="-2.4">3</tspan></text>
<text x="271.7" y="92.4" font-size="6.3" text-anchor="end" fill="#111" >0</text>
<text x="291.3" y="112.9" font-size="6.3" text-anchor="middle" fill="#111" >0</text>
<text x="310" y="112.9" font-size="6.3" text-anchor="middle" fill="#111">10<tspan font-size="3.78" dy="-2.4">3</tspan></text>
<text x="324.2" y="112.9" font-size="6.3" text-anchor="middle" fill="#111">10<tspan font-size="3.78" dy="-2.4">4</tspan></text>
<text x="335.9" y="112.9" font-size="6.3" text-anchor="middle" fill="#111">10<tspan font-size="3.78" dy="-2.4">5</tspan></text>
<text x="1.2" y="148.5" font-size="10" text-anchor="start" fill="#111" font-weight="bold" textLength="7" lengthAdjust="spacingAndGlyphs" >B</text>
<text x="57.9" y="148.7" font-size="8.7" text-anchor="start" fill="#111" textLength="23" lengthAdjust="spacingAndGlyphs" >WBC</text>
<line x1="34.7" y1="151.8" x2="34.7" y2="221.4" stroke="#222" stroke-width="1" />
<line x1="31.700000000000003" y1="156.3" x2="34.7" y2="156.3" stroke="#222" stroke-width="0.9" />
<text x="28.700000000000003" y="158.70000000000002" font-size="7.6" text-anchor="end" fill="#111" >0.8</text>
<line x1="31.700000000000003" y1="172.6" x2="34.7" y2="172.6" stroke="#222" stroke-width="0.9" />
<text x="28.700000000000003" y="175.0" font-size="7.6" text-anchor="end" fill="#111" >0.6</text>
<line x1="31.700000000000003" y1="188.8" x2="34.7" y2="188.8" stroke="#222" stroke-width="0.9" />
<text x="28.700000000000003" y="191.20000000000002" font-size="7.6" text-anchor="end" fill="#111" >0.4</text>
<line x1="31.700000000000003" y1="205.1" x2="34.7" y2="205.1" stroke="#222" stroke-width="0.9" />
<text x="28.700000000000003" y="207.5" font-size="7.6" text-anchor="end" fill="#111" >0.2</text>
<line x1="31.700000000000003" y1="221.4" x2="34.7" y2="221.4" stroke="#222" stroke-width="0.9" />
<text x="28.700000000000003" y="223.8" font-size="7.6" text-anchor="end" fill="#111" >0.0</text>
<line x1="34.2" y1="221.5" x2="104.6" y2="221.5" stroke="#222" stroke-width="1" />
<line x1="52.8" y1="221.5" x2="52.8" y2="224.0" stroke="#222" stroke-width="0.9" />
<line x1="88.5" y1="221.5" x2="88.5" y2="224.0" stroke="#222" stroke-width="0.9" />
<text x="12" y="186.5" font-size="8" text-anchor="middle" fill="#111" transform="rotate(-90 12 186.5)" textLength="16" lengthAdjust="spacingAndGlyphs">10<tspan font-size="5.2" dy="-3">9</tspan><tspan dy="3">/L</tspan></text>
<circle cx="52.5" cy="169.8" r="1.7" fill="#c80c42"/>
<circle cx="52.5" cy="187.9" r="1.7" fill="#c80c42"/>
<circle cx="47.4" cy="195.4" r="1.7" fill="#c80c42"/>
<circle cx="52.5" cy="194.4" r="1.7" fill="#c80c42"/>
<circle cx="56.7" cy="196" r="1.7" fill="#c80c42"/>
<circle cx="48.6" cy="199.9" r="1.7" fill="#c80c42"/>
<circle cx="53.6" cy="200.3" r="1.7" fill="#c80c42"/>
<circle cx="58.2" cy="201.1" r="1.7" fill="#c80c42"/>
<circle cx="52.5" cy="206.1" r="1.7" fill="#c80c42"/>
<circle cx="55.4" cy="211.2" r="1.7" fill="#c80c42"/>
<circle cx="49.7" cy="213.2" r="1.7" fill="#c80c42"/>
<circle cx="51" cy="197.5" r="1.7" fill="#c80c42"/>
<line x1="44.3" y1="197.7" x2="61.3" y2="197.7" stroke="#c80c42" stroke-width="1" />
<line x1="52.5" y1="194.2" x2="52.5" y2="201.2" stroke="#c80c42" stroke-width="0.9" />
<line x1="50.0" y1="194.2" x2="55.0" y2="194.2" stroke="#c80c42" stroke-width="0.9" />
<line x1="50.0" y1="201.2" x2="55.0" y2="201.2" stroke="#c80c42" stroke-width="0.9" />
<rect x="87.4" y="182.3" width="3.0" height="3.0" fill="#155a7c"/>
<rect x="83.1" y="193.7" width="3.0" height="3.0" fill="#155a7c"/>
<rect x="87.4" y="192.6" width="3.0" height="3.0" fill="#155a7c"/>
<rect x="91.1" y="193.1" width="3.0" height="3.0" fill="#155a7c"/>
<rect x="85.0" y="197.5" width="3.0" height="3.0" fill="#155a7c"/>
<rect x="80.0" y="202.7" width="3.0" height="3.0" fill="#155a7c"/>
<rect x="83.1" y="203.9" width="3.0" height="3.0" fill="#155a7c"/>
<rect x="87.4" y="204.6" width="3.0" height="3.0" fill="#155a7c"/>
<rect x="91.6" y="205.0" width="3.0" height="3.0" fill="#155a7c"/>
<rect x="95.1" y="203.5" width="3.0" height="3.0" fill="#155a7c"/>
<rect x="83.4" y="207.0" width="3.0" height="3.0" fill="#155a7c"/>
<line x1="79.9" y1="200.3" x2="97.7" y2="200.3" stroke="#222" stroke-width="1" />
<line x1="88.9" y1="197.5" x2="88.9" y2="203.2" stroke="#222" stroke-width="0.9" />
<line x1="86.4" y1="197.5" x2="91.4" y2="197.5" stroke="#222" stroke-width="0.9" />
<line x1="86.4" y1="203.2" x2="91.4" y2="203.2" stroke="#222" stroke-width="0.9" />
<text x="45.1" y="233.5" font-size="7.8" text-anchor="start" fill="#111" textLength="15.6" lengthAdjust="spacingAndGlyphs" >BMF</text>
<text x="73.8" y="233.5" font-size="7.8" text-anchor="start" fill="#111" textLength="30" lengthAdjust="spacingAndGlyphs" >Ly6G Ab</text>
<text x="195.5" y="148.8" font-size="8.7" text-anchor="start" fill="#111" textLength="19.8" lengthAdjust="spacingAndGlyphs" >RBC</text>
<line x1="170.2" y1="151.8" x2="170.2" y2="221.6" stroke="#222" stroke-width="1" />
<line x1="167.2" y1="156.2" x2="170.2" y2="156.2" stroke="#222" stroke-width="0.9" />
<text x="164.2" y="158.6" font-size="7.6" text-anchor="end" fill="#111" >15</text>
<line x1="167.2" y1="178.2" x2="170.2" y2="178.2" stroke="#222" stroke-width="0.9" />
<text x="164.2" y="180.6" font-size="7.6" text-anchor="end" fill="#111" >10</text>
<line x1="167.2" y1="199.9" x2="170.2" y2="199.9" stroke="#222" stroke-width="0.9" />
<text x="164.2" y="202.3" font-size="7.6" text-anchor="end" fill="#111" >5</text>
<line x1="167.2" y1="221.6" x2="170.2" y2="221.6" stroke="#222" stroke-width="0.9" />
<text x="164.2" y="224.0" font-size="7.6" text-anchor="end" fill="#111" >0</text>
<line x1="169.7" y1="221.6" x2="240" y2="221.6" stroke="#222" stroke-width="1" />
<line x1="188.75" y1="221.6" x2="188.75" y2="224.1" stroke="#222" stroke-width="0.9" />
<line x1="225" y1="221.6" x2="225" y2="224.1" stroke="#222" stroke-width="0.9" />
<text x="152" y="186.5" font-size="8" text-anchor="middle" fill="#111" transform="rotate(-90 152 186.5)" textLength="18" lengthAdjust="spacingAndGlyphs">10<tspan font-size="5.2" dy="-3">12</tspan><tspan dy="3">/L</tspan></text>
<circle cx="180.7" cy="186.1" r="1.7" fill="#c80c42"/>
<circle cx="180.7" cy="189.7" r="1.7" fill="#c80c42"/>
<circle cx="185.7" cy="185.4" r="1.7" fill="#c80c42"/>
<circle cx="185.7" cy="189.4" r="1.7" fill="#c80c42"/>
<circle cx="191.1" cy="188.7" r="1.7" fill="#c80c42"/>
<circle cx="196.2" cy="188.1" r="1.7" fill="#c80c42"/>
<circle cx="188.2" cy="192.8" r="1.7" fill="#c80c42"/>
<circle cx="186" cy="195" r="1.7" fill="#c80c42"/>
<circle cx="180.7" cy="200.2" r="1.7" fill="#c80c42"/>
<circle cx="191.1" cy="198.8" r="1.7" fill="#c80c42"/>
<circle cx="191.1" cy="201.5" r="1.7" fill="#c80c42"/>
<circle cx="196.2" cy="199.9" r="1.7" fill="#c80c42"/>
<circle cx="186.1" cy="204" r="1.7" fill="#c80c42"/>
<line x1="180" y1="193.5" x2="196.9" y2="193.5" stroke="#888" stroke-width="1.1" />
<line x1="188.75" y1="191.2" x2="188.75" y2="196" stroke="#888" stroke-width="0.9" />
<line x1="186.25" y1="191.2" x2="191.25" y2="191.2" stroke="#888" stroke-width="0.9" />
<line x1="186.25" y1="196" x2="191.25" y2="196" stroke="#888" stroke-width="0.9" />
<rect x="215.5" y="186.0" width="3.0" height="3.0" fill="#155a7c"/>
<rect x="218.5" y="185.0" width="3.0" height="3.0" fill="#155a7c"/>
<rect x="222.0" y="184.5" width="3.0" height="3.0" fill="#155a7c"/>
<rect x="225.5" y="184.0" width="3.0" height="3.0" fill="#155a7c"/>
<rect x="229.5" y="185.0" width="3.0" height="3.0" fill="#155a7c"/>
<rect x="232.5" y="187.0" width="3.0" height="3.0" fill="#155a7c"/>
<rect x="217.5" y="188.0" width="3.0" height="3.0" fill="#155a7c"/>
<rect x="221.0" y="188.3" width="3.0" height="3.0" fill="#155a7c"/>
<rect x="224.5" y="187.7" width="3.0" height="3.0" fill="#155a7c"/>
<rect x="228.0" y="188.5" width="3.0" height="3.0" fill="#155a7c"/>
<rect x="223.5" y="190.0" width="3.0" height="3.0" fill="#155a7c"/>
<rect x="221.6" y="201.6" width="3.0" height="3.0" fill="#155a7c"/>
<rect x="225.0" y="199.8" width="3.0" height="3.0" fill="#155a7c"/>
<rect x="226.5" y="183.0" width="3.0" height="3.0" fill="#155a7c"/>
<line x1="216.4" y1="188.5" x2="233.9" y2="188.5" stroke="#222" stroke-width="1" />
<text x="181.1" y="233.5" font-size="7.8" text-anchor="start" fill="#111" textLength="15.7" lengthAdjust="spacingAndGlyphs" >BMF</text>
<text x="209.7" y="233.5" font-size="7.8" text-anchor="start" fill="#111" textLength="30.2" lengthAdjust="spacingAndGlyphs" >Ly6G Ab</text>
<text x="337.5" y="148.8" font-size="8.7" text-anchor="start" fill="#111" textLength="15.5" lengthAdjust="spacingAndGlyphs" >PLT</text>
<line x1="311.7" y1="151.8" x2="311.7" y2="221.5" stroke="#222" stroke-width="1" />
<line x1="308.7" y1="156.3" x2="311.7" y2="156.3" stroke="#222" stroke-width="0.9" />
<text x="305.7" y="158.70000000000002" font-size="7.6" text-anchor="end" fill="#111" >300</text>
<line x1="308.7" y1="178" x2="311.7" y2="178" stroke="#222" stroke-width="0.9" />
<text x="305.7" y="180.4" font-size="7.6" text-anchor="end" fill="#111" >200</text>
<line x1="308.7" y1="199.6" x2="311.7" y2="199.6" stroke="#222" stroke-width="0.9" />
<text x="305.7" y="202.0" font-size="7.6" text-anchor="end" fill="#111" >100</text>
<line x1="308.7" y1="221.4" x2="311.7" y2="221.4" stroke="#222" stroke-width="0.9" />
<text x="305.7" y="223.8" font-size="7.6" text-anchor="end" fill="#111" >0</text>
<line x1="311.2" y1="221.5" x2="381.6" y2="221.5" stroke="#222" stroke-width="1" />
<line x1="329.5" y1="221.5" x2="329.5" y2="224.0" stroke="#222" stroke-width="0.9" />
<line x1="365.5" y1="221.5" x2="365.5" y2="224.0" stroke="#222" stroke-width="0.9" />
<text x="286.6" y="186.5" font-size="8" text-anchor="middle" fill="#111" transform="rotate(-90 286.6 186.5)" textLength="16" lengthAdjust="spacingAndGlyphs">10<tspan font-size="5.2" dy="-3">9</tspan><tspan dy="3">/L</tspan></text>
<line x1="329.2" y1="161.6" x2="365.3" y2="161.6" stroke="#444" stroke-width="1" />
<line x1="329.2" y1="159.5" x2="329.2" y2="163.7" stroke="#444" stroke-width="1" />
<line x1="365.3" y1="159.5" x2="365.3" y2="163.7" stroke="#444" stroke-width="1" />
<text x="347.5" y="159.5" font-size="7" text-anchor="middle" fill="#111" >**</text>
<circle cx="322" cy="205.5" r="1.7" fill="#c80c42"/>
<circle cx="325" cy="203.5" r="1.7" fill="#c80c42"/>
<circle cx="329" cy="205" r="1.7" fill="#c80c42"/>
<circle cx="333" cy="204" r="1.7" fill="#c80c42"/>
<circle cx="336" cy="206.5" r="1.7" fill="#c80c42"/>
<circle cx="321" cy="210" r="1.7" fill="#c80c42"/>
<circle cx="324.5" cy="208.5" r="1.7" fill="#c80c42"/>
<circle cx="328" cy="210" r="1.7" fill="#c80c42"/>
<circle cx="331.5" cy="209" r="1.7" fill="#c80c42"/>
<circle cx="335" cy="211" r="1.7" fill="#c80c42"/>
<circle cx="338" cy="212.5" r="1.7" fill="#c80c42"/>
<circle cx="324" cy="213" r="1.7" fill="#c80c42"/>
<circle cx="329" cy="215.5" r="1.7" fill="#c80c42"/>
<circle cx="333" cy="214.5" r="1.7" fill="#c80c42"/>
<circle cx="327" cy="212" r="1.7" fill="#c80c42"/>
<line x1="322" y1="209.2" x2="337" y2="209.2" stroke="#222" stroke-width="1" />
<line x1="329.5" y1="207.5" x2="329.5" y2="211" stroke="#222" stroke-width="0.9" />
<line x1="327.0" y1="207.5" x2="332.0" y2="207.5" stroke="#222" stroke-width="0.9" />
<line x1="327.0" y1="211" x2="332.0" y2="211" stroke="#222" stroke-width="0.9" />
<rect x="363.8" y="167.9" width="3.0" height="3.0" fill="#155a7c"/>
<rect x="363.8" y="175.1" width="3.0" height="3.0" fill="#155a7c"/>
<rect x="363.8" y="185.4" width="3.0" height="3.0" fill="#155a7c"/>
<rect x="360.7" y="189.1" width="3.0" height="3.0" fill="#155a7c"/>
<rect x="366.2" y="190.0" width="3.0" height="3.0" fill="#155a7c"/>
<rect x="363.8" y="192.5" width="3.0" height="3.0" fill="#155a7c"/>
<rect x="358.4" y="195.7" width="3.0" height="3.0" fill="#155a7c"/>
<rect x="369.3" y="195.0" width="3.0" height="3.0" fill="#155a7c"/>
<rect x="363.8" y="206.1" width="3.0" height="3.0" fill="#155a7c"/>
<rect x="363.8" y="209.7" width="3.0" height="3.0" fill="#155a7c"/>
<rect x="366.9" y="212.0" width="3.0" height="3.0" fill="#155a7c"/>
<rect x="361.5" y="214.3" width="3.0" height="3.0" fill="#155a7c"/>
<line x1="356.8" y1="196.2" x2="374.2" y2="196.2" stroke="#222" stroke-width="1" />
<line x1="365.3" y1="190.6" x2="365.3" y2="200" stroke="#222" stroke-width="0.9" />
<line x1="362.8" y1="190.6" x2="367.8" y2="190.6" stroke="#222" stroke-width="0.9" />
<line x1="362.8" y1="200" x2="367.8" y2="200" stroke="#222" stroke-width="0.9" />
<text x="321.5" y="233.5" font-size="7.8" text-anchor="start" fill="#111" textLength="15.8" lengthAdjust="spacingAndGlyphs" >BMF</text>
<text x="350.8" y="233.5" font-size="7.8" text-anchor="start" fill="#111" textLength="30.2" lengthAdjust="spacingAndGlyphs" >Ly6G Ab</text>
<text x="473.5" y="148.8" font-size="8.7" text-anchor="start" fill="#111" textLength="19.6" lengthAdjust="spacingAndGlyphs" >BM#</text>
<line x1="449" y1="151.5" x2="449" y2="221.6" stroke="#222" stroke-width="1" />
<line x1="446" y1="156.2" x2="449" y2="156.2" stroke="#222" stroke-width="0.9" />
<text x="443" y="158.6" font-size="7.6" text-anchor="end" fill="#111" >200</text>
<line x1="446" y1="172.5" x2="449" y2="172.5" stroke="#222" stroke-width="0.9" />
<text x="443" y="174.9" font-size="7.6" text-anchor="end" fill="#111" >150</text>
<line x1="446" y1="188.8" x2="449" y2="188.8" stroke="#222" stroke-width="0.9" />
<text x="443" y="191.20000000000002" font-size="7.6" text-anchor="end" fill="#111" >100</text>
<line x1="446" y1="205" x2="449" y2="205" stroke="#222" stroke-width="0.9" />
<text x="443" y="207.4" font-size="7.6" text-anchor="end" fill="#111" >50</text>
<line x1="446" y1="221.6" x2="449" y2="221.6" stroke="#222" stroke-width="0.9" />
<text x="443" y="224.0" font-size="7.6" text-anchor="end" fill="#111" >0</text>
<line x1="448.5" y1="221.6" x2="520" y2="221.6" stroke="#222" stroke-width="1" />
<line x1="467" y1="221.6" x2="467" y2="224.1" stroke="#222" stroke-width="0.9" />
<line x1="503.3" y1="221.6" x2="503.3" y2="224.1" stroke="#222" stroke-width="0.9" />
<text x="423" y="186.8" font-size="8" text-anchor="middle" fill="#111" transform="rotate(-90 423 186.8)" textLength="10" lengthAdjust="spacingAndGlyphs">10<tspan font-size="5.2" dy="-3">6</tspan></text>
<circle cx="466.7" cy="187.5" r="1.7" fill="#c80c42"/>
<circle cx="461.6" cy="192.1" r="1.7" fill="#c80c42"/>
<circle cx="466.7" cy="193.4" r="1.7" fill="#c80c42"/>
<circle cx="472" cy="192.1" r="1.7" fill="#c80c42"/>
<circle cx="464.7" cy="197.2" r="1.7" fill="#c80c42"/>
<circle cx="468.6" cy="197.2" r="1.7" fill="#c80c42"/>
<circle cx="461.6" cy="203.9" r="1.7" fill="#c80c42"/>
<circle cx="466.7" cy="202.7" r="1.7" fill="#c80c42"/>
<circle cx="472" cy="205" r="1.7" fill="#c80c42"/>
<circle cx="466.7" cy="206.5" r="1.7" fill="#c80c42"/>
<circle cx="466.7" cy="211.6" r="1.7" fill="#c80c42"/>
<line x1="458" y1="199.2" x2="475.6" y2="199.2" stroke="#222" stroke-width="1" />
<line x1="466.7" y1="196.5" x2="466.7" y2="202" stroke="#222" stroke-width="0.9" />
<line x1="464.2" y1="196.5" x2="469.2" y2="196.5" stroke="#222" stroke-width="0.9" />
<line x1="464.2" y1="202" x2="469.2" y2="202" stroke="#222" stroke-width="0.9" />
<rect x="501.9" y="168.3" width="3.0" height="3.0" fill="#155a7c"/>
<rect x="501.9" y="173.6" width="3.0" height="3.0" fill="#155a7c"/>
<rect x="501.9" y="183.8" width="3.0" height="3.0" fill="#155a7c"/>
<rect x="501.9" y="189.1" width="3.0" height="3.0" fill="#155a7c"/>
<rect x="499.6" y="194.7" width="3.0" height="3.0" fill="#155a7c"/>
<rect x="503.5" y="194.7" width="3.0" height="3.0" fill="#155a7c"/>
<rect x="496.5" y="201.9" width="3.0" height="3.0" fill="#155a7c"/>
<rect x="507.0" y="201.9" width="3.0" height="3.0" fill="#155a7c"/>
<rect x="501.9" y="204.3" width="3.0" height="3.0" fill="#155a7c"/>
<rect x="496.5" y="208.6" width="3.0" height="3.0" fill="#155a7c"/>
<rect x="507.0" y="207.0" width="3.0" height="3.0" fill="#155a7c"/>
<line x1="494.6" y1="195.2" x2="512" y2="195.2" stroke="#222" stroke-width="1" />
<line x1="503.4" y1="191.5" x2="503.4" y2="199" stroke="#222" stroke-width="0.9" />
<line x1="500.9" y1="191.5" x2="505.9" y2="191.5" stroke="#222" stroke-width="0.9" />
<line x1="500.9" y1="199" x2="505.9" y2="199" stroke="#222" stroke-width="0.9" />
<text x="459.1" y="233.5" font-size="7.8" text-anchor="start" fill="#111" textLength="16" lengthAdjust="spacingAndGlyphs" >BMF</text>
<text x="488" y="233.5" font-size="7.8" text-anchor="start" fill="#111" textLength="31" lengthAdjust="spacingAndGlyphs" >Ly6G Ab</text>
<text x="0.9" y="257" font-size="10.8" text-anchor="start" fill="#111" font-weight="bold" textLength="7.8" lengthAdjust="spacingAndGlyphs" >D</text>
<text x="33.7" y="256" font-size="8.3" fill="#111" textLength="54.5" lengthAdjust="spacingAndGlyphs">Ly6G<tspan font-size="4.8" dy="-3">++</tspan><tspan dy="3">Ly6C</tspan><tspan font-size="4.8" dy="-3">+</tspan></text>
<line x1="29.6" y1="266.0" x2="29.6" y2="334.8" stroke="#222" stroke-width="1" />
<line x1="26.6" y1="270.7" x2="29.6" y2="270.7" stroke="#222" stroke-width="0.9" />
<text x="23.6" y="273.09999999999997" font-size="8.8" text-anchor="end" fill="#111" >60</text>
<line x1="26.6" y1="291.9" x2="29.6" y2="291.9" stroke="#222" stroke-width="0.9" />
<text x="23.6" y="294.29999999999995" font-size="8.8" text-anchor="end" fill="#111" >40</text>
<line x1="26.6" y1="313.4" x2="29.6" y2="313.4" stroke="#222" stroke-width="0.9" />
<text x="23.6" y="315.79999999999995" font-size="8.8" text-anchor="end" fill="#111" >20</text>
<line x1="26.6" y1="334.8" x2="29.6" y2="334.8" stroke="#222" stroke-width="0.9" />
<text x="23.6" y="337.2" font-size="8.8" text-anchor="end" fill="#111" >0</text>
<line x1="29.0" y1="334.9" x2="94.6" y2="334.9" stroke="#222" stroke-width="1" />
<line x1="43.7" y1="334.9" x2="43.7" y2="337.4" stroke="#222" stroke-width="0.9" />
<line x1="80" y1="334.9" x2="80" y2="337.4" stroke="#222" stroke-width="0.9" />
<text x="6.4" y="300.7" font-size="7.8" text-anchor="middle" fill="#111" font-weight="bold" textLength="25.6" lengthAdjust="spacingAndGlyphs" transform="rotate(-90 6.4 300.7)" style="stroke-width:0.45px">% in BM</text>
<line x1="43.7" y1="269.7" x2="80" y2="269.7" stroke="#222" stroke-width="0.9" />
<line x1="43.7" y1="269.7" x2="43.7" y2="272.3" stroke="#222" stroke-width="0.9" />
<line x1="80" y1="269.7" x2="80" y2="320.5" stroke="#222" stroke-width="0.9" />
<text x="61.8" y="267.5" font-size="6.5" text-anchor="middle" fill="#111" >***</text>
<circle cx="43.7" cy="279.7" r="1.7" fill="#c80c42"/>
<circle cx="39.3" cy="300.4" r="1.7" fill="#c80c42"/>
<circle cx="43.7" cy="298.4" r="1.7" fill="#c80c42"/>
<circle cx="47.8" cy="300.4" r="1.7" fill="#c80c42"/>
<circle cx="43.7" cy="305.6" r="1.7" fill="#c80c42"/>
<circle cx="43.7" cy="311.2" r="1.7" fill="#c80c42"/>
<circle cx="43.7" cy="314.3" r="1.7" fill="#c80c42"/>
<circle cx="43.7" cy="318.5" r="1.7" fill="#c80c42"/>
<circle cx="41.2" cy="331.7" r="1.7" fill="#c80c42"/>
<circle cx="45.5" cy="330.2" r="1.7" fill="#c80c42"/>
<line x1="36.2" y1="308.4" x2="50.9" y2="308.4" stroke="#222" stroke-width="1" />
<circle cx="80" cy="326.3" r="1.7" fill="#155a7c"/>
<circle cx="75" cy="331" r="1.7" fill="#155a7c"/>
<circle cx="77.5" cy="332.5" r="1.7" fill="#155a7c"/>
<circle cx="80" cy="330.5" r="1.7" fill="#155a7c"/>
<circle cx="82.5" cy="332" r="1.7" fill="#155a7c"/>
<circle cx="85" cy="331" r="1.7" fill="#155a7c"/>
<circle cx="87" cy="333" r="1.7" fill="#155a7c"/>
<circle cx="76" cy="333.5" r="1.7" fill="#155a7c"/>
<circle cx="84" cy="333.5" r="1.7" fill="#155a7c"/>
<circle cx="80" cy="333.2" r="1.7" fill="#155a7c"/>
<circle cx="86" cy="330.5" r="1.7" fill="#155a7c"/>
<text x="36" y="348.8" font-size="8" text-anchor="start" fill="#111" textLength="15.8" lengthAdjust="spacingAndGlyphs" >BMF</text>
<text x="64.5" y="348.8" font-size="8" text-anchor="start" fill="#111" textLength="30.7" lengthAdjust="spacingAndGlyphs" >Ly6G Ab</text>
<text x="157.3" y="257.5" font-size="9" text-anchor="start" fill="#111" textLength="18.7" lengthAdjust="spacingAndGlyphs" >BMF</text>
<text x="241.5" y="257.5" font-size="9" text-anchor="start" fill="#111" textLength="36.2" lengthAdjust="spacingAndGlyphs" >Ly6G Ab</text>
<line x1="111.2" y1="349.1" x2="111.2" y2="263.6" stroke="#111" stroke-width="1" marker-end="url(#ahk)"/>
<line x1="111.2" y1="349.1" x2="297" y2="349.1" stroke="#111" stroke-width="1" marker-end="url(#ahk)"/>
<text x="107.9" y="304" font-size="7.2" text-anchor="middle" fill="#111" font-weight="bold" textLength="13.4" lengthAdjust="spacingAndGlyphs" transform="rotate(-90 107.9 304)" style="stroke-width:0.45px">Ly6C</text>
<text x="200.3" y="359.4" font-size="8" text-anchor="start" fill="#111" font-weight="bold" textLength="13.8" lengthAdjust="spacingAndGlyphs" style="stroke-width:0.45px">Ly6G</text>
<path d="M160.4,297.8h0.9v0.9h-0.9zM173.2,311.6h0.9v0.9h-0.9zM141.9,303.7h0.9v0.9h-0.9zM152.2,308.5h0.9v0.9h-0.9zM188.7,300.7h0.9v0.9h-0.9zM163.2,302.5h0.9v0.9h-0.9zM174.7,302.2h0.9v0.9h-0.9zM158.2,290.2h0.9v0.9h-0.9zM161.9,316.3h0.9v0.9h-0.9zM163.2,318.1h0.9v0.9h-0.9zM169.7,299.8h0.9v0.9h-0.9zM136.3,291.1h0.9v0.9h-0.9zM186.6,282.6h0.9v0.9h-0.9zM147.9,285.3h0.9v0.9h-0.9zM155.5,308.6h0.9v0.9h-0.9zM175.3,272.7h0.9v0.9h-0.9zM190.2,292.0h0.9v0.9h-0.9zM154.8,322.4h0.9v0.9h-0.9zM163.6,283.3h0.9v0.9h-0.9zM154.0,290.2h0.9v0.9h-0.9zM147.6,295.5h0.9v0.9h-0.9zM180.2,304.7h0.9v0.9h-0.9zM147.9,301.6h0.9v0.9h-0.9zM165.5,310.2h0.9v0.9h-0.9zM159.3,306.1h0.9v0.9h-0.9zM201.4,301.3h0.9v0.9h-0.9zM146.3,304.4h0.9v0.9h-0.9zM151.1,295.0h0.9v0.9h-0.9zM168.3,304.5h0.9v0.9h-0.9zM160.1,311.4h0.9v0.9h-0.9zM161.7,282.5h0.9v0.9h-0.9zM180.2,295.1h0.9v0.9h-0.9zM186.0,291.2h0.9v0.9h-0.9zM174.9,304.2h0.9v0.9h-0.9zM145.7,318.9h0.9v0.9h-0.9zM132.4,312.3h0.9v0.9h-0.9zM183.9,306.7h0.9v0.9h-0.9zM176.7,293.3h0.9v0.9h-0.9zM164.8,303.0h0.9v0.9h-0.9zM172.3,309.5h0.9v0.9h-0.9zM161.4,290.6h0.9v0.9h-0.9zM155.3,305.5h0.9v0.9h-0.9zM136.3,283.2h0.9v0.9h-0.9zM157.9,292.6h0.9v0.9h-0.9zM159.1,296.6h0.9v0.9h-0.9zM178.4,273.4h0.9v0.9h-0.9zM159.7,306.4h0.9v0.9h-0.9zM173.5,316.1h0.9v0.9h-0.9zM183.2,285.9h0.9v0.9h-0.9zM176.0,295.5h0.9v0.9h-0.9zM151.1,320.6h0.9v0.9h-0.9zM154.1,288.5h0.9v0.9h-0.9zM157.9,288.5h0.9v0.9h-0.9zM182.4,305.1h0.9v0.9h-0.9zM189.2,305.5h0.9v0.9h-0.9zM154.4,314.1h0.9v0.9h-0.9zM153.7,293.8h0.9v0.9h-0.9zM162.1,300.5h0.9v0.9h-0.9zM185.7,291.8h0.9v0.9h-0.9zM171.1,299.6h0.9v0.9h-0.9zM143.2,285.3h0.9v0.9h-0.9zM161.2,305.4h0.9v0.9h-0.9zM170.6,306.5h0.9v0.9h-0.9zM165.8,294.0h0.9v0.9h-0.9zM172.4,286.5h0.9v0.9h-0.9zM141.7,295.5h0.9v0.9h-0.9zM140.2,293.1h0.9v0.9h-0.9zM152.0,292.5h0.9v0.9h-0.9zM164.2,289.2h0.9v0.9h-0.9zM157.7,276.9h0.9v0.9h-0.9zM167.5,288.1h0.9v0.9h-0.9zM151.1,303.3h0.9v0.9h-0.9zM166.6,301.4h0.9v0.9h-0.9zM139.0,303.1h0.9v0.9h-0.9zM167.6,286.9h0.9v0.9h-0.9zM177.9,299.3h0.9v0.9h-0.9zM165.3,293.9h0.9v0.9h-0.9zM174.5,301.3h0.9v0.9h-0.9zM184.7,306.1h0.9v0.9h-0.9zM154.3,297.0h0.9v0.9h-0.9zM181.0,295.1h0.9v0.9h-0.9zM171.7,307.1h0.9v0.9h-0.9zM161.9,268.5h0.9v0.9h-0.9zM167.3,302.9h0.9v0.9h-0.9zM167.4,289.7h0.9v0.9h-0.9zM186.0,298.2h0.9v0.9h-0.9zM154.2,290.3h0.9v0.9h-0.9zM171.2,285.2h0.9v0.9h-0.9zM147.6,327.1h0.9v0.9h-0.9zM187.8,314.3h0.9v0.9h-0.9zM188.8,308.1h0.9v0.9h-0.9zM135.7,316.2h0.9v0.9h-0.9zM186.6,306.6h0.9v0.9h-0.9zM188.8,293.3h0.9v0.9h-0.9zM167.2,310.5h0.9v0.9h-0.9zM163.5,314.9h0.9v0.9h-0.9zM166.4,309.4h0.9v0.9h-0.9zM166.5,279.9h0.9v0.9h-0.9zM169.9,317.8h0.9v0.9h-0.9zM184.9,323.3h0.9v0.9h-0.9zM174.7,291.9h0.9v0.9h-0.9zM165.3,274.0h0.9v0.9h-0.9zM161.7,312.3h0.9v0.9h-0.9zM179.4,318.0h0.9v0.9h-0.9zM148.8,291.1h0.9v0.9h-0.9zM132.2,286.2h0.9v0.9h-0.9zM174.3,328.1h0.9v0.9h-0.9zM145.0,318.7h0.9v0.9h-0.9zM172.5,293.3h0.9v0.9h-0.9zM163.8,303.0h0.9v0.9h-0.9zM182.1,318.6h0.9v0.9h-0.9zM174.0,304.9h0.9v0.9h-0.9zM161.8,294.4h0.9v0.9h-0.9zM143.5,326.5h0.9v0.9h-0.9zM157.2,271.7h0.9v0.9h-0.9zM169.6,299.5h0.9v0.9h-0.9zM168.1,324.7h0.9v0.9h-0.9zM163.1,296.4h0.9v0.9h-0.9zM151.9,299.7h0.9v0.9h-0.9zM157.3,302.8h0.9v0.9h-0.9zM150.0,326.3h0.9v0.9h-0.9zM180.1,311.1h0.9v0.9h-0.9zM177.5,311.2h0.9v0.9h-0.9zM176.8,319.2h0.9v0.9h-0.9zM182.6,318.4h0.9v0.9h-0.9zM156.2,300.0h0.9v0.9h-0.9zM152.2,313.0h0.9v0.9h-0.9zM179.6,293.7h0.9v0.9h-0.9zM186.7,284.8h0.9v0.9h-0.9zM163.4,308.7h0.9v0.9h-0.9zM164.4,305.3h0.9v0.9h-0.9zM185.7,304.5h0.9v0.9h-0.9zM145.8,309.7h0.9v0.9h-0.9zM163.3,301.6h0.9v0.9h-0.9zM155.1,281.1h0.9v0.9h-0.9zM143.2,295.2h0.9v0.9h-0.9zM185.1,284.2h0.9v0.9h-0.9zM152.3,307.2h0.9v0.9h-0.9zM151.5,309.0h0.9v0.9h-0.9zM156.6,304.2h0.9v0.9h-0.9zM166.8,300.0h0.9v0.9h-0.9zM133.0,280.0h0.9v0.9h-0.9zM164.3,319.2h0.9v0.9h-0.9zM155.4,307.3h0.9v0.9h-0.9zM167.8,306.6h0.9v0.9h-0.9zM182.4,279.6h0.9v0.9h-0.9zM169.8,297.6h0.9v0.9h-0.9zM159.5,288.4h0.9v0.9h-0.9zM151.2,286.0h0.9v0.9h-0.9zM194.8,300.1h0.9v0.9h-0.9zM178.0,286.7h0.9v0.9h-0.9zM167.5,319.6h0.9v0.9h-0.9zM164.3,286.3h0.9v0.9h-0.9zM160.8,286.4h0.9v0.9h-0.9zM140.5,296.8h0.9v0.9h-0.9zM158.0,288.9h0.9v0.9h-0.9zM149.5,287.3h0.9v0.9h-0.9zM169.1,319.0h0.9v0.9h-0.9zM161.3,330.5h0.9v0.9h-0.9zM136.6,303.7h0.9v0.9h-0.9zM144.7,297.8h0.9v0.9h-0.9zM166.8,307.6h0.9v0.9h-0.9zM184.8,292.4h0.9v0.9h-0.9zM143.2,297.4h0.9v0.9h-0.9zM170.2,290.5h0.9v0.9h-0.9zM180.7,323.0h0.9v0.9h-0.9zM140.0,304.9h0.9v0.9h-0.9zM182.8,273.8h0.9v0.9h-0.9zM168.6,296.9h0.9v0.9h-0.9zM140.0,318.0h0.9v0.9h-0.9zM168.8,293.5h0.9v0.9h-0.9zM172.8,308.8h0.9v0.9h-0.9zM178.5,307.9h0.9v0.9h-0.9zM172.2,283.9h0.9v0.9h-0.9zM157.6,301.8h0.9v0.9h-0.9zM158.3,285.6h0.9v0.9h-0.9zM133.1,303.4h0.9v0.9h-0.9zM165.6,292.0h0.9v0.9h-0.9zM157.7,287.9h0.9v0.9h-0.9zM151.9,298.7h0.9v0.9h-0.9zM153.7,309.3h0.9v0.9h-0.9zM162.5,301.8h0.9v0.9h-0.9zM172.1,317.3h0.9v0.9h-0.9zM175.6,303.1h0.9v0.9h-0.9zM162.1,289.0h0.9v0.9h-0.9zM159.0,309.3h0.9v0.9h-0.9zM169.0,294.7h0.9v0.9h-0.9zM141.6,279.1h0.9v0.9h-0.9zM170.6,314.0h0.9v0.9h-0.9zM171.6,281.3h0.9v0.9h-0.9zM161.3,303.0h0.9v0.9h-0.9zM148.9,304.7h0.9v0.9h-0.9zM161.5,288.6h0.9v0.9h-0.9zM143.2,311.1h0.9v0.9h-0.9zM171.3,287.9h0.9v0.9h-0.9zM147.2,312.1h0.9v0.9h-0.9zM175.5,295.8h0.9v0.9h-0.9zM192.9,296.0h0.9v0.9h-0.9zM146.5,314.9h0.9v0.9h-0.9zM161.7,304.7h0.9v0.9h-0.9zM165.7,286.3h0.9v0.9h-0.9zM144.2,297.4h0.9v0.9h-0.9zM189.6,286.3h0.9v0.9h-0.9zM188.8,303.0h0.9v0.9h-0.9zM145.5,303.6h0.9v0.9h-0.9zM174.9,287.7h0.9v0.9h-0.9zM145.6,306.0h0.9v0.9h-0.9zM131.5,298.1h0.9v0.9h-0.9zM150.8,279.8h0.9v0.9h-0.9zM160.8,302.3h0.9v0.9h-0.9zM155.2,283.9h0.9v0.9h-0.9zM168.7,276.2h0.9v0.9h-0.9zM174.4,306.7h0.9v0.9h-0.9zM194.4,312.0h0.9v0.9h-0.9zM171.2,303.6h0.9v0.9h-0.9zM165.5,282.0h0.9v0.9h-0.9zM190.6,307.2h0.9v0.9h-0.9zM160.0,284.4h0.9v0.9h-0.9zM191.0,307.2h0.9v0.9h-0.9zM144.3,309.1h0.9v0.9h-0.9zM198.2,299.7h0.9v0.9h-0.9zM172.0,294.3h0.9v0.9h-0.9zM154.0,314.6h0.9v0.9h-0.9zM162.8,310.8h0.9v0.9h-0.9zM159.7,309.9h0.9v0.9h-0.9zM179.5,286.2h0.9v0.9h-0.9zM146.3,299.0h0.9v0.9h-0.9zM179.6,303.8h0.9v0.9h-0.9z" fill="#8fa8dc" opacity="0.35"/>
<path d="M159.2,304.0h0.9v0.9h-0.9zM154.9,308.4h0.9v0.9h-0.9zM152.6,313.9h0.9v0.9h-0.9zM146.3,310.7h0.9v0.9h-0.9zM145.2,313.5h0.9v0.9h-0.9zM147.0,309.1h0.9v0.9h-0.9zM153.3,308.2h0.9v0.9h-0.9zM158.7,308.3h0.9v0.9h-0.9zM156.9,313.6h0.9v0.9h-0.9zM146.0,310.7h0.9v0.9h-0.9zM147.1,309.9h0.9v0.9h-0.9zM150.4,322.6h0.9v0.9h-0.9zM149.6,321.1h0.9v0.9h-0.9zM154.6,304.4h0.9v0.9h-0.9zM138.5,315.9h0.9v0.9h-0.9zM140.4,316.2h0.9v0.9h-0.9zM158.0,314.3h0.9v0.9h-0.9zM150.8,310.5h0.9v0.9h-0.9zM153.5,310.2h0.9v0.9h-0.9zM148.9,309.8h0.9v0.9h-0.9zM158.8,308.4h0.9v0.9h-0.9zM154.2,305.3h0.9v0.9h-0.9zM147.9,304.0h0.9v0.9h-0.9zM150.9,316.0h0.9v0.9h-0.9zM153.8,309.1h0.9v0.9h-0.9zM155.6,310.0h0.9v0.9h-0.9zM154.2,313.6h0.9v0.9h-0.9zM155.1,297.6h0.9v0.9h-0.9zM144.4,316.5h0.9v0.9h-0.9zM151.4,325.0h0.9v0.9h-0.9zM150.6,308.8h0.9v0.9h-0.9zM160.7,315.2h0.9v0.9h-0.9zM163.0,315.0h0.9v0.9h-0.9zM150.8,316.2h0.9v0.9h-0.9zM147.4,309.4h0.9v0.9h-0.9zM148.8,310.7h0.9v0.9h-0.9zM156.5,309.2h0.9v0.9h-0.9zM153.9,309.1h0.9v0.9h-0.9zM157.1,296.0h0.9v0.9h-0.9zM150.8,313.0h0.9v0.9h-0.9zM145.7,317.9h0.9v0.9h-0.9zM153.3,319.4h0.9v0.9h-0.9zM157.6,315.7h0.9v0.9h-0.9zM151.1,305.7h0.9v0.9h-0.9zM150.7,309.3h0.9v0.9h-0.9zM153.4,309.3h0.9v0.9h-0.9zM169.7,302.7h0.9v0.9h-0.9zM158.8,309.3h0.9v0.9h-0.9zM150.6,317.4h0.9v0.9h-0.9zM152.0,305.0h0.9v0.9h-0.9zM154.4,310.9h0.9v0.9h-0.9zM140.1,313.1h0.9v0.9h-0.9zM145.9,307.7h0.9v0.9h-0.9zM154.8,313.7h0.9v0.9h-0.9zM150.3,324.6h0.9v0.9h-0.9zM154.4,308.4h0.9v0.9h-0.9zM153.4,311.3h0.9v0.9h-0.9zM139.2,302.9h0.9v0.9h-0.9zM143.9,324.0h0.9v0.9h-0.9zM150.9,310.4h0.9v0.9h-0.9zM148.7,317.7h0.9v0.9h-0.9zM152.2,321.9h0.9v0.9h-0.9zM156.6,321.5h0.9v0.9h-0.9zM151.3,314.2h0.9v0.9h-0.9zM149.5,311.0h0.9v0.9h-0.9zM142.0,308.6h0.9v0.9h-0.9zM146.5,308.2h0.9v0.9h-0.9zM159.0,313.5h0.9v0.9h-0.9zM159.1,317.0h0.9v0.9h-0.9zM157.3,317.8h0.9v0.9h-0.9zM148.5,316.6h0.9v0.9h-0.9zM150.1,308.9h0.9v0.9h-0.9zM158.9,324.5h0.9v0.9h-0.9zM146.3,322.0h0.9v0.9h-0.9zM156.8,307.1h0.9v0.9h-0.9zM153.6,314.1h0.9v0.9h-0.9zM154.2,309.9h0.9v0.9h-0.9zM144.6,312.2h0.9v0.9h-0.9zM157.0,316.5h0.9v0.9h-0.9zM155.8,318.4h0.9v0.9h-0.9zM146.3,311.8h0.9v0.9h-0.9zM154.0,317.8h0.9v0.9h-0.9zM152.9,315.0h0.9v0.9h-0.9zM152.8,324.1h0.9v0.9h-0.9zM139.4,311.9h0.9v0.9h-0.9zM166.3,313.4h0.9v0.9h-0.9zM141.4,312.8h0.9v0.9h-0.9zM143.7,308.1h0.9v0.9h-0.9zM153.3,321.9h0.9v0.9h-0.9zM154.7,315.9h0.9v0.9h-0.9zM157.9,313.2h0.9v0.9h-0.9zM147.0,311.4h0.9v0.9h-0.9zM153.9,310.4h0.9v0.9h-0.9zM148.1,309.9h0.9v0.9h-0.9zM143.3,306.1h0.9v0.9h-0.9zM151.5,309.9h0.9v0.9h-0.9zM152.2,320.1h0.9v0.9h-0.9zM153.7,311.8h0.9v0.9h-0.9zM145.2,305.8h0.9v0.9h-0.9zM154.2,307.0h0.9v0.9h-0.9zM154.5,305.8h0.9v0.9h-0.9zM152.8,311.6h0.9v0.9h-0.9zM157.8,309.7h0.9v0.9h-0.9zM149.9,313.4h0.9v0.9h-0.9zM152.3,321.8h0.9v0.9h-0.9zM150.5,308.9h0.9v0.9h-0.9zM150.2,314.7h0.9v0.9h-0.9zM153.4,316.0h0.9v0.9h-0.9zM144.0,326.3h0.9v0.9h-0.9zM162.6,311.8h0.9v0.9h-0.9zM145.0,312.9h0.9v0.9h-0.9zM154.4,299.1h0.9v0.9h-0.9zM152.1,303.5h0.9v0.9h-0.9zM154.6,320.0h0.9v0.9h-0.9zM158.0,303.3h0.9v0.9h-0.9zM160.0,317.2h0.9v0.9h-0.9zM149.9,314.9h0.9v0.9h-0.9zM160.8,310.1h0.9v0.9h-0.9zM151.9,308.8h0.9v0.9h-0.9zM158.7,299.6h0.9v0.9h-0.9zM160.2,306.4h0.9v0.9h-0.9zM157.3,302.6h0.9v0.9h-0.9zM146.6,308.5h0.9v0.9h-0.9zM156.8,302.6h0.9v0.9h-0.9zM155.5,308.3h0.9v0.9h-0.9zM159.2,310.2h0.9v0.9h-0.9zM154.8,311.0h0.9v0.9h-0.9zM162.4,309.9h0.9v0.9h-0.9zM151.9,323.5h0.9v0.9h-0.9zM152.4,316.0h0.9v0.9h-0.9zM147.7,313.2h0.9v0.9h-0.9zM138.9,312.6h0.9v0.9h-0.9zM148.3,303.3h0.9v0.9h-0.9zM143.8,318.6h0.9v0.9h-0.9zM154.5,303.2h0.9v0.9h-0.9zM162.5,308.0h0.9v0.9h-0.9zM149.9,313.4h0.9v0.9h-0.9zM145.4,302.7h0.9v0.9h-0.9zM147.7,318.8h0.9v0.9h-0.9zM157.5,302.9h0.9v0.9h-0.9zM159.0,312.2h0.9v0.9h-0.9zM154.9,312.3h0.9v0.9h-0.9zM154.4,306.2h0.9v0.9h-0.9zM146.8,307.9h0.9v0.9h-0.9zM149.9,315.6h0.9v0.9h-0.9zM145.0,321.2h0.9v0.9h-0.9zM148.3,308.6h0.9v0.9h-0.9zM156.1,314.5h0.9v0.9h-0.9zM150.0,305.8h0.9v0.9h-0.9zM146.2,302.8h0.9v0.9h-0.9z" fill="#7f9fdc" opacity="0.4"/>
<path d="M148.0,302.5h0.9v0.9h-0.9zM150.3,295.8h0.9v0.9h-0.9zM145.5,298.7h0.9v0.9h-0.9zM147.4,287.0h0.9v0.9h-0.9zM145.6,314.9h0.9v0.9h-0.9zM139.3,273.8h0.9v0.9h-0.9zM141.5,298.7h0.9v0.9h-0.9zM148.2,286.1h0.9v0.9h-0.9zM146.6,289.4h0.9v0.9h-0.9zM145.4,283.8h0.9v0.9h-0.9zM144.4,289.9h0.9v0.9h-0.9zM148.0,315.8h0.9v0.9h-0.9zM138.9,296.2h0.9v0.9h-0.9zM144.5,301.2h0.9v0.9h-0.9zM147.8,299.0h0.9v0.9h-0.9zM147.0,279.0h0.9v0.9h-0.9zM139.2,309.3h0.9v0.9h-0.9zM148.2,279.0h0.9v0.9h-0.9zM148.5,297.7h0.9v0.9h-0.9zM136.9,300.4h0.9v0.9h-0.9zM141.5,303.5h0.9v0.9h-0.9zM142.4,281.4h0.9v0.9h-0.9zM139.7,287.5h0.9v0.9h-0.9zM147.6,282.2h0.9v0.9h-0.9zM138.8,314.8h0.9v0.9h-0.9zM150.2,298.0h0.9v0.9h-0.9zM142.8,276.0h0.9v0.9h-0.9zM139.4,296.5h0.9v0.9h-0.9zM148.5,277.7h0.9v0.9h-0.9zM144.5,286.8h0.9v0.9h-0.9zM143.7,295.8h0.9v0.9h-0.9zM151.0,282.6h0.9v0.9h-0.9zM147.1,302.6h0.9v0.9h-0.9zM143.6,288.3h0.9v0.9h-0.9zM140.4,302.5h0.9v0.9h-0.9zM142.9,282.4h0.9v0.9h-0.9zM144.7,280.1h0.9v0.9h-0.9zM141.3,286.6h0.9v0.9h-0.9zM149.1,287.6h0.9v0.9h-0.9zM146.1,273.0h0.9v0.9h-0.9zM138.5,311.0h0.9v0.9h-0.9zM143.3,272.2h0.9v0.9h-0.9zM144.2,297.0h0.9v0.9h-0.9zM139.2,279.8h0.9v0.9h-0.9zM145.3,279.3h0.9v0.9h-0.9zM147.0,301.1h0.9v0.9h-0.9zM145.9,285.0h0.9v0.9h-0.9zM144.4,282.7h0.9v0.9h-0.9zM144.1,293.7h0.9v0.9h-0.9zM143.6,301.3h0.9v0.9h-0.9zM152.5,283.7h0.9v0.9h-0.9zM145.6,299.5h0.9v0.9h-0.9zM146.5,287.2h0.9v0.9h-0.9zM143.0,301.6h0.9v0.9h-0.9zM146.4,295.9h0.9v0.9h-0.9zM142.0,297.3h0.9v0.9h-0.9zM147.0,287.9h0.9v0.9h-0.9zM146.5,315.2h0.9v0.9h-0.9zM138.7,297.0h0.9v0.9h-0.9zM140.9,274.2h0.9v0.9h-0.9zM143.8,296.3h0.9v0.9h-0.9zM144.7,276.5h0.9v0.9h-0.9zM140.1,283.5h0.9v0.9h-0.9zM144.5,280.4h0.9v0.9h-0.9zM139.8,310.4h0.9v0.9h-0.9zM141.9,288.2h0.9v0.9h-0.9zM142.8,283.2h0.9v0.9h-0.9zM144.6,286.5h0.9v0.9h-0.9zM146.4,276.2h0.9v0.9h-0.9zM139.9,312.6h0.9v0.9h-0.9zM144.3,298.9h0.9v0.9h-0.9zM148.2,296.4h0.9v0.9h-0.9zM144.6,271.9h0.9v0.9h-0.9zM139.5,301.4h0.9v0.9h-0.9zM146.6,296.6h0.9v0.9h-0.9zM139.4,265.2h0.9v0.9h-0.9zM141.2,276.3h0.9v0.9h-0.9zM145.0,278.1h0.9v0.9h-0.9zM149.4,282.8h0.9v0.9h-0.9zM142.8,300.0h0.9v0.9h-0.9zM145.5,279.5h0.9v0.9h-0.9zM147.0,312.4h0.9v0.9h-0.9zM140.7,287.1h0.9v0.9h-0.9zM141.2,267.4h0.9v0.9h-0.9zM146.4,298.1h0.9v0.9h-0.9zM147.5,295.0h0.9v0.9h-0.9zM138.2,289.7h0.9v0.9h-0.9zM142.4,276.3h0.9v0.9h-0.9zM141.1,298.9h0.9v0.9h-0.9zM143.6,312.9h0.9v0.9h-0.9zM146.0,267.8h0.9v0.9h-0.9zM147.3,304.6h0.9v0.9h-0.9zM144.6,275.9h0.9v0.9h-0.9zM150.0,274.7h0.9v0.9h-0.9zM144.2,267.8h0.9v0.9h-0.9zM140.6,270.2h0.9v0.9h-0.9zM147.9,303.8h0.9v0.9h-0.9zM143.2,274.2h0.9v0.9h-0.9zM144.3,294.4h0.9v0.9h-0.9zM139.7,276.5h0.9v0.9h-0.9zM144.2,298.2h0.9v0.9h-0.9zM144.7,295.3h0.9v0.9h-0.9zM145.5,279.3h0.9v0.9h-0.9zM144.1,285.6h0.9v0.9h-0.9zM146.0,281.0h0.9v0.9h-0.9zM149.0,290.4h0.9v0.9h-0.9zM146.2,297.4h0.9v0.9h-0.9zM147.7,294.7h0.9v0.9h-0.9zM139.0,282.6h0.9v0.9h-0.9zM150.3,295.5h0.9v0.9h-0.9zM146.3,295.5h0.9v0.9h-0.9zM142.5,282.1h0.9v0.9h-0.9zM142.5,303.6h0.9v0.9h-0.9zM145.6,310.9h0.9v0.9h-0.9zM146.1,312.2h0.9v0.9h-0.9zM145.9,276.1h0.9v0.9h-0.9zM150.0,294.0h0.9v0.9h-0.9zM148.2,292.5h0.9v0.9h-0.9zM143.5,292.0h0.9v0.9h-0.9zM141.0,276.0h0.9v0.9h-0.9zM141.7,283.8h0.9v0.9h-0.9zM140.2,288.8h0.9v0.9h-0.9zM145.5,313.9h0.9v0.9h-0.9zM150.3,289.4h0.9v0.9h-0.9zM147.3,287.4h0.9v0.9h-0.9zM145.7,289.6h0.9v0.9h-0.9zM142.8,290.9h0.9v0.9h-0.9zM139.9,295.2h0.9v0.9h-0.9zM143.6,277.2h0.9v0.9h-0.9zM143.4,296.5h0.9v0.9h-0.9zM142.4,295.6h0.9v0.9h-0.9zM146.3,308.4h0.9v0.9h-0.9zM141.1,288.7h0.9v0.9h-0.9zM146.1,307.7h0.9v0.9h-0.9zM145.3,298.9h0.9v0.9h-0.9zM139.9,283.1h0.9v0.9h-0.9zM149.7,286.6h0.9v0.9h-0.9zM151.3,281.4h0.9v0.9h-0.9zM143.6,271.2h0.9v0.9h-0.9zM146.5,293.1h0.9v0.9h-0.9zM150.9,292.0h0.9v0.9h-0.9zM143.7,273.3h0.9v0.9h-0.9zM144.2,301.2h0.9v0.9h-0.9zM146.8,304.5h0.9v0.9h-0.9zM147.2,289.5h0.9v0.9h-0.9zM146.4,292.0h0.9v0.9h-0.9zM140.3,310.3h0.9v0.9h-0.9zM145.7,277.5h0.9v0.9h-0.9zM145.7,293.4h0.9v0.9h-0.9zM147.7,307.1h0.9v0.9h-0.9zM134.9,296.6h0.9v0.9h-0.9zM149.3,278.8h0.9v0.9h-0.9zM138.6,293.3h0.9v0.9h-0.9zM145.6,294.2h0.9v0.9h-0.9zM141.0,284.5h0.9v0.9h-0.9zM145.1,298.8h0.9v0.9h-0.9zM151.4,293.5h0.9v0.9h-0.9zM147.9,288.4h0.9v0.9h-0.9zM144.2,278.3h0.9v0.9h-0.9zM146.8,268.7h0.9v0.9h-0.9zM144.8,291.4h0.9v0.9h-0.9zM145.5,305.5h0.9v0.9h-0.9zM144.2,291.1h0.9v0.9h-0.9zM147.2,271.6h0.9v0.9h-0.9zM143.6,290.8h0.9v0.9h-0.9zM147.5,280.5h0.9v0.9h-0.9zM147.1,294.6h0.9v0.9h-0.9zM139.8,272.4h0.9v0.9h-0.9zM140.0,291.7h0.9v0.9h-0.9zM145.2,298.6h0.9v0.9h-0.9zM147.1,283.4h0.9v0.9h-0.9zM147.9,299.8h0.9v0.9h-0.9zM146.0,295.7h0.9v0.9h-0.9zM140.4,294.3h0.9v0.9h-0.9zM141.2,275.8h0.9v0.9h-0.9zM143.4,291.7h0.9v0.9h-0.9zM144.3,286.1h0.9v0.9h-0.9zM141.3,292.2h0.9v0.9h-0.9zM142.1,273.2h0.9v0.9h-0.9zM144.8,307.3h0.9v0.9h-0.9zM143.2,277.3h0.9v0.9h-0.9zM148.9,310.4h0.9v0.9h-0.9zM143.6,287.5h0.9v0.9h-0.9zM145.2,325.2h0.9v0.9h-0.9zM144.9,301.9h0.9v0.9h-0.9zM145.9,268.3h0.9v0.9h-0.9zM141.0,275.3h0.9v0.9h-0.9zM145.9,291.3h0.9v0.9h-0.9zM150.2,286.8h0.9v0.9h-0.9zM145.5,290.9h0.9v0.9h-0.9zM144.9,317.7h0.9v0.9h-0.9zM145.4,307.6h0.9v0.9h-0.9zM148.6,282.7h0.9v0.9h-0.9zM146.7,285.4h0.9v0.9h-0.9zM144.8,291.9h0.9v0.9h-0.9zM144.6,284.4h0.9v0.9h-0.9zM149.5,286.8h0.9v0.9h-0.9zM146.7,310.1h0.9v0.9h-0.9zM146.5,302.3h0.9v0.9h-0.9zM148.9,303.0h0.9v0.9h-0.9zM150.0,272.9h0.9v0.9h-0.9zM150.7,290.3h0.9v0.9h-0.9zM138.9,282.3h0.9v0.9h-0.9zM140.0,289.7h0.9v0.9h-0.9zM139.7,278.0h0.9v0.9h-0.9zM145.4,291.9h0.9v0.9h-0.9zM142.0,287.2h0.9v0.9h-0.9zM144.2,290.9h0.9v0.9h-0.9zM144.5,287.4h0.9v0.9h-0.9zM147.3,270.8h0.9v0.9h-0.9zM142.9,291.6h0.9v0.9h-0.9zM143.2,283.4h0.9v0.9h-0.9zM143.1,292.5h0.9v0.9h-0.9zM148.5,287.8h0.9v0.9h-0.9zM143.6,294.3h0.9v0.9h-0.9zM143.7,266.8h0.9v0.9h-0.9zM145.4,285.5h0.9v0.9h-0.9zM142.7,297.5h0.9v0.9h-0.9zM144.6,283.2h0.9v0.9h-0.9zM137.5,269.4h0.9v0.9h-0.9zM144.5,288.6h0.9v0.9h-0.9zM145.9,292.7h0.9v0.9h-0.9zM143.0,274.8h0.9v0.9h-0.9zM141.0,288.3h0.9v0.9h-0.9zM140.8,299.1h0.9v0.9h-0.9zM140.3,268.5h0.9v0.9h-0.9zM143.9,268.7h0.9v0.9h-0.9zM149.7,278.1h0.9v0.9h-0.9zM144.3,287.1h0.9v0.9h-0.9zM141.9,268.8h0.9v0.9h-0.9zM138.5,300.4h0.9v0.9h-0.9zM147.8,316.0h0.9v0.9h-0.9zM139.8,296.7h0.9v0.9h-0.9zM144.5,300.1h0.9v0.9h-0.9zM142.9,298.7h0.9v0.9h-0.9zM147.4,297.3h0.9v0.9h-0.9zM149.1,287.9h0.9v0.9h-0.9zM149.4,281.6h0.9v0.9h-0.9zM144.5,280.4h0.9v0.9h-0.9zM144.5,302.4h0.9v0.9h-0.9zM146.8,291.1h0.9v0.9h-0.9zM149.9,272.3h0.9v0.9h-0.9zM141.9,308.1h0.9v0.9h-0.9zM145.5,265.1h0.9v0.9h-0.9zM145.6,275.8h0.9v0.9h-0.9zM149.2,303.7h0.9v0.9h-0.9zM142.7,305.5h0.9v0.9h-0.9zM141.8,301.0h0.9v0.9h-0.9zM146.4,288.5h0.9v0.9h-0.9zM140.0,286.6h0.9v0.9h-0.9zM137.2,283.2h0.9v0.9h-0.9zM138.6,304.6h0.9v0.9h-0.9zM146.4,294.4h0.9v0.9h-0.9zM142.9,315.4h0.9v0.9h-0.9zM147.0,290.8h0.9v0.9h-0.9zM146.0,301.5h0.9v0.9h-0.9zM142.6,273.0h0.9v0.9h-0.9zM144.4,269.9h0.9v0.9h-0.9zM144.5,299.3h0.9v0.9h-0.9zM149.3,293.2h0.9v0.9h-0.9zM145.1,299.0h0.9v0.9h-0.9zM149.0,286.2h0.9v0.9h-0.9zM140.6,280.5h0.9v0.9h-0.9zM140.5,279.3h0.9v0.9h-0.9zM144.1,294.1h0.9v0.9h-0.9zM145.0,290.8h0.9v0.9h-0.9zM143.4,295.1h0.9v0.9h-0.9zM147.3,299.1h0.9v0.9h-0.9zM149.3,286.5h0.9v0.9h-0.9zM143.7,310.3h0.9v0.9h-0.9zM145.1,295.0h0.9v0.9h-0.9zM143.4,301.6h0.9v0.9h-0.9zM143.2,277.9h0.9v0.9h-0.9zM144.3,284.7h0.9v0.9h-0.9zM147.2,285.5h0.9v0.9h-0.9zM144.9,287.4h0.9v0.9h-0.9zM145.6,282.4h0.9v0.9h-0.9zM148.0,272.9h0.9v0.9h-0.9zM143.3,281.5h0.9v0.9h-0.9zM146.6,290.5h0.9v0.9h-0.9zM146.1,286.0h0.9v0.9h-0.9zM142.2,276.6h0.9v0.9h-0.9zM143.4,283.6h0.9v0.9h-0.9zM145.4,294.3h0.9v0.9h-0.9zM147.6,288.7h0.9v0.9h-0.9zM142.1,277.3h0.9v0.9h-0.9zM144.7,294.3h0.9v0.9h-0.9zM150.7,292.2h0.9v0.9h-0.9zM150.1,312.5h0.9v0.9h-0.9zM141.1,304.5h0.9v0.9h-0.9zM148.1,306.1h0.9v0.9h-0.9zM144.5,301.5h0.9v0.9h-0.9zM143.0,289.2h0.9v0.9h-0.9zM144.6,311.4h0.9v0.9h-0.9zM143.8,301.5h0.9v0.9h-0.9zM144.7,281.5h0.9v0.9h-0.9zM145.3,297.9h0.9v0.9h-0.9zM142.2,297.6h0.9v0.9h-0.9zM142.2,279.5h0.9v0.9h-0.9zM145.2,287.2h0.9v0.9h-0.9zM141.4,270.4h0.9v0.9h-0.9zM144.6,292.9h0.9v0.9h-0.9zM143.0,292.2h0.9v0.9h-0.9zM139.6,294.7h0.9v0.9h-0.9zM145.8,293.3h0.9v0.9h-0.9zM142.5,291.0h0.9v0.9h-0.9zM144.9,302.8h0.9v0.9h-0.9zM145.4,293.0h0.9v0.9h-0.9zM142.2,300.3h0.9v0.9h-0.9zM148.3,284.1h0.9v0.9h-0.9zM146.5,293.7h0.9v0.9h-0.9zM144.4,274.6h0.9v0.9h-0.9zM150.1,267.6h0.9v0.9h-0.9zM145.5,285.5h0.9v0.9h-0.9zM148.2,284.9h0.9v0.9h-0.9zM144.6,297.3h0.9v0.9h-0.9zM146.0,283.8h0.9v0.9h-0.9zM146.7,294.7h0.9v0.9h-0.9zM147.7,283.9h0.9v0.9h-0.9zM144.4,285.3h0.9v0.9h-0.9zM141.8,293.1h0.9v0.9h-0.9zM145.8,307.0h0.9v0.9h-0.9zM143.5,294.6h0.9v0.9h-0.9zM148.1,288.6h0.9v0.9h-0.9zM144.7,291.6h0.9v0.9h-0.9zM142.3,278.2h0.9v0.9h-0.9zM148.1,292.1h0.9v0.9h-0.9zM144.3,275.1h0.9v0.9h-0.9zM144.9,304.0h0.9v0.9h-0.9zM140.8,279.3h0.9v0.9h-0.9zM148.0,307.1h0.9v0.9h-0.9zM149.5,283.4h0.9v0.9h-0.9zM146.4,281.0h0.9v0.9h-0.9zM146.2,285.6h0.9v0.9h-0.9zM145.1,306.0h0.9v0.9h-0.9zM145.6,287.1h0.9v0.9h-0.9zM144.7,293.2h0.9v0.9h-0.9zM142.9,292.5h0.9v0.9h-0.9zM146.4,308.6h0.9v0.9h-0.9zM137.9,275.8h0.9v0.9h-0.9zM140.6,300.5h0.9v0.9h-0.9zM152.3,292.3h0.9v0.9h-0.9zM144.9,303.6h0.9v0.9h-0.9zM136.7,287.9h0.9v0.9h-0.9zM134.6,291.8h0.9v0.9h-0.9zM142.9,284.2h0.9v0.9h-0.9zM145.6,283.0h0.9v0.9h-0.9zM148.0,290.0h0.9v0.9h-0.9zM145.7,320.3h0.9v0.9h-0.9zM143.1,301.0h0.9v0.9h-0.9zM141.9,304.9h0.9v0.9h-0.9zM147.6,291.7h0.9v0.9h-0.9zM147.7,309.2h0.9v0.9h-0.9zM148.9,290.0h0.9v0.9h-0.9zM144.3,303.2h0.9v0.9h-0.9zM139.8,282.8h0.9v0.9h-0.9zM146.0,296.8h0.9v0.9h-0.9zM150.4,310.9h0.9v0.9h-0.9zM145.5,295.3h0.9v0.9h-0.9zM140.3,287.8h0.9v0.9h-0.9zM145.3,287.3h0.9v0.9h-0.9zM144.7,297.2h0.9v0.9h-0.9zM141.5,283.3h0.9v0.9h-0.9zM138.9,303.6h0.9v0.9h-0.9zM141.2,269.8h0.9v0.9h-0.9zM146.9,287.5h0.9v0.9h-0.9zM147.6,285.6h0.9v0.9h-0.9zM151.2,298.5h0.9v0.9h-0.9zM145.0,291.4h0.9v0.9h-0.9zM143.8,299.6h0.9v0.9h-0.9zM150.8,285.0h0.9v0.9h-0.9zM141.1,297.1h0.9v0.9h-0.9zM147.9,272.3h0.9v0.9h-0.9zM142.3,278.2h0.9v0.9h-0.9zM146.3,296.0h0.9v0.9h-0.9zM142.2,276.6h0.9v0.9h-0.9zM146.7,265.6h0.9v0.9h-0.9zM146.5,288.2h0.9v0.9h-0.9zM150.6,301.8h0.9v0.9h-0.9zM142.7,286.8h0.9v0.9h-0.9zM143.6,281.4h0.9v0.9h-0.9zM144.8,301.4h0.9v0.9h-0.9zM139.7,287.3h0.9v0.9h-0.9zM149.2,298.8h0.9v0.9h-0.9zM141.9,280.5h0.9v0.9h-0.9zM141.8,271.0h0.9v0.9h-0.9zM148.1,290.8h0.9v0.9h-0.9zM142.3,273.0h0.9v0.9h-0.9zM143.3,283.9h0.9v0.9h-0.9zM149.9,284.6h0.9v0.9h-0.9zM144.9,302.7h0.9v0.9h-0.9zM146.6,287.9h0.9v0.9h-0.9zM137.6,306.6h0.9v0.9h-0.9zM146.4,284.9h0.9v0.9h-0.9zM144.2,278.7h0.9v0.9h-0.9zM141.7,272.5h0.9v0.9h-0.9zM146.1,296.1h0.9v0.9h-0.9zM145.0,299.2h0.9v0.9h-0.9zM146.2,291.4h0.9v0.9h-0.9zM141.7,297.0h0.9v0.9h-0.9zM148.2,297.4h0.9v0.9h-0.9zM148.4,284.4h0.9v0.9h-0.9zM141.4,304.8h0.9v0.9h-0.9zM142.7,292.9h0.9v0.9h-0.9zM143.9,290.3h0.9v0.9h-0.9zM143.6,283.6h0.9v0.9h-0.9zM138.9,312.5h0.9v0.9h-0.9zM145.1,267.3h0.9v0.9h-0.9zM141.7,276.7h0.9v0.9h-0.9zM146.3,309.3h0.9v0.9h-0.9zM143.7,298.8h0.9v0.9h-0.9zM146.4,275.3h0.9v0.9h-0.9zM148.3,270.2h0.9v0.9h-0.9zM142.7,285.8h0.9v0.9h-0.9zM148.4,291.4h0.9v0.9h-0.9zM144.1,280.5h0.9v0.9h-0.9zM144.8,290.5h0.9v0.9h-0.9zM146.8,306.4h0.9v0.9h-0.9zM146.8,290.2h0.9v0.9h-0.9zM144.0,308.8h0.9v0.9h-0.9zM145.1,289.8h0.9v0.9h-0.9zM150.1,308.4h0.9v0.9h-0.9zM146.3,288.7h0.9v0.9h-0.9zM142.5,302.5h0.9v0.9h-0.9zM143.1,301.3h0.9v0.9h-0.9zM142.0,291.2h0.9v0.9h-0.9zM145.8,291.7h0.9v0.9h-0.9zM145.2,294.5h0.9v0.9h-0.9zM141.0,277.0h0.9v0.9h-0.9zM144.0,311.2h0.9v0.9h-0.9zM144.1,279.1h0.9v0.9h-0.9zM142.4,290.4h0.9v0.9h-0.9zM148.2,283.4h0.9v0.9h-0.9zM146.3,292.2h0.9v0.9h-0.9zM143.4,278.9h0.9v0.9h-0.9zM144.0,281.5h0.9v0.9h-0.9zM146.2,269.3h0.9v0.9h-0.9zM148.0,298.9h0.9v0.9h-0.9zM146.3,307.6h0.9v0.9h-0.9zM146.4,270.0h0.9v0.9h-0.9zM144.7,295.3h0.9v0.9h-0.9zM142.4,276.7h0.9v0.9h-0.9zM145.9,296.0h0.9v0.9h-0.9zM143.2,287.2h0.9v0.9h-0.9z" fill="#4a86d0" opacity="0.5"/>
<g filter="url(#b1)" transform="rotate(0 144.5 290)"><ellipse cx="144.5" cy="290" rx="5.20" ry="20.00" fill="#5a90d6" opacity="0.65"/><ellipse cx="144.5" cy="290" rx="2.60" ry="10.00" fill="#3fa8d8" opacity="0.8"/></g>
<g filter="url(#b05)" transform="rotate(0 145.3 293)"><ellipse cx="145.3" cy="293" rx="2.30" ry="6.00" fill="#3fc0a0" opacity="0.8"/></g>
<path d="M144.8,311.2h0.9v0.9h-0.9zM146.7,319.2h0.9v0.9h-0.9zM139.9,312.3h0.9v0.9h-0.9zM154.1,315.5h0.9v0.9h-0.9zM147.7,318.1h0.9v0.9h-0.9zM142.6,308.1h0.9v0.9h-0.9zM139.7,306.9h0.9v0.9h-0.9zM148.1,318.1h0.9v0.9h-0.9zM145.2,310.7h0.9v0.9h-0.9zM148.8,317.0h0.9v0.9h-0.9zM148.1,304.7h0.9v0.9h-0.9zM144.6,301.7h0.9v0.9h-0.9zM148.1,309.9h0.9v0.9h-0.9zM144.1,321.3h0.9v0.9h-0.9zM152.8,316.3h0.9v0.9h-0.9zM148.2,314.8h0.9v0.9h-0.9zM144.4,313.8h0.9v0.9h-0.9zM155.4,309.7h0.9v0.9h-0.9zM144.1,314.8h0.9v0.9h-0.9zM150.9,318.1h0.9v0.9h-0.9zM142.8,313.4h0.9v0.9h-0.9zM145.8,308.0h0.9v0.9h-0.9zM147.3,311.7h0.9v0.9h-0.9zM151.0,316.1h0.9v0.9h-0.9zM143.6,314.4h0.9v0.9h-0.9zM145.4,310.9h0.9v0.9h-0.9zM144.9,319.2h0.9v0.9h-0.9zM145.2,305.7h0.9v0.9h-0.9zM143.6,317.9h0.9v0.9h-0.9zM156.4,308.9h0.9v0.9h-0.9zM145.4,312.4h0.9v0.9h-0.9zM140.8,316.0h0.9v0.9h-0.9zM146.8,315.4h0.9v0.9h-0.9zM156.8,312.7h0.9v0.9h-0.9zM150.5,318.1h0.9v0.9h-0.9zM144.2,311.1h0.9v0.9h-0.9zM153.8,317.5h0.9v0.9h-0.9zM147.6,308.7h0.9v0.9h-0.9zM150.9,316.6h0.9v0.9h-0.9zM156.6,321.2h0.9v0.9h-0.9zM150.5,315.3h0.9v0.9h-0.9zM147.3,311.3h0.9v0.9h-0.9zM148.4,315.2h0.9v0.9h-0.9zM149.9,319.3h0.9v0.9h-0.9zM148.4,311.4h0.9v0.9h-0.9zM150.5,321.5h0.9v0.9h-0.9zM143.3,316.0h0.9v0.9h-0.9zM149.4,316.6h0.9v0.9h-0.9zM149.2,313.6h0.9v0.9h-0.9zM146.6,322.2h0.9v0.9h-0.9zM154.6,307.2h0.9v0.9h-0.9zM135.9,316.1h0.9v0.9h-0.9zM144.1,311.5h0.9v0.9h-0.9zM140.0,315.7h0.9v0.9h-0.9zM146.8,311.4h0.9v0.9h-0.9zM150.9,325.8h0.9v0.9h-0.9zM153.5,319.7h0.9v0.9h-0.9zM145.2,317.2h0.9v0.9h-0.9zM146.8,319.6h0.9v0.9h-0.9zM149.5,313.8h0.9v0.9h-0.9zM149.4,310.5h0.9v0.9h-0.9zM150.5,321.3h0.9v0.9h-0.9zM145.4,316.7h0.9v0.9h-0.9zM139.7,318.6h0.9v0.9h-0.9zM150.8,309.0h0.9v0.9h-0.9zM154.6,314.6h0.9v0.9h-0.9zM139.4,307.4h0.9v0.9h-0.9zM150.8,312.7h0.9v0.9h-0.9zM151.8,306.5h0.9v0.9h-0.9zM146.6,318.7h0.9v0.9h-0.9zM144.0,317.3h0.9v0.9h-0.9zM145.4,315.7h0.9v0.9h-0.9zM148.4,324.8h0.9v0.9h-0.9zM141.6,317.8h0.9v0.9h-0.9zM152.7,308.5h0.9v0.9h-0.9zM147.4,325.2h0.9v0.9h-0.9zM151.6,299.6h0.9v0.9h-0.9zM146.0,305.7h0.9v0.9h-0.9zM148.3,310.5h0.9v0.9h-0.9zM144.5,309.9h0.9v0.9h-0.9zM148.3,311.7h0.9v0.9h-0.9zM143.0,312.9h0.9v0.9h-0.9zM148.8,309.8h0.9v0.9h-0.9zM151.9,305.9h0.9v0.9h-0.9zM148.8,312.1h0.9v0.9h-0.9zM153.9,310.9h0.9v0.9h-0.9zM144.1,307.5h0.9v0.9h-0.9zM155.7,317.0h0.9v0.9h-0.9zM142.3,312.4h0.9v0.9h-0.9zM142.8,321.4h0.9v0.9h-0.9zM148.8,304.1h0.9v0.9h-0.9zM147.9,318.4h0.9v0.9h-0.9zM147.0,316.3h0.9v0.9h-0.9zM146.5,315.0h0.9v0.9h-0.9zM147.9,310.6h0.9v0.9h-0.9zM148.5,314.8h0.9v0.9h-0.9zM146.8,310.7h0.9v0.9h-0.9zM142.6,315.2h0.9v0.9h-0.9zM150.6,302.3h0.9v0.9h-0.9zM144.7,320.6h0.9v0.9h-0.9zM151.0,310.5h0.9v0.9h-0.9zM152.9,309.2h0.9v0.9h-0.9zM143.5,323.4h0.9v0.9h-0.9zM145.1,312.9h0.9v0.9h-0.9zM139.8,309.1h0.9v0.9h-0.9zM141.9,313.3h0.9v0.9h-0.9zM139.0,319.2h0.9v0.9h-0.9zM145.4,311.1h0.9v0.9h-0.9zM144.2,317.6h0.9v0.9h-0.9zM153.7,312.0h0.9v0.9h-0.9zM154.1,321.8h0.9v0.9h-0.9zM152.9,315.5h0.9v0.9h-0.9zM140.5,317.3h0.9v0.9h-0.9zM145.2,314.9h0.9v0.9h-0.9zM138.8,312.6h0.9v0.9h-0.9zM148.0,309.4h0.9v0.9h-0.9zM148.3,322.1h0.9v0.9h-0.9zM148.0,310.7h0.9v0.9h-0.9zM157.4,303.5h0.9v0.9h-0.9zM143.0,316.0h0.9v0.9h-0.9zM144.4,302.8h0.9v0.9h-0.9zM148.1,318.0h0.9v0.9h-0.9zM143.5,321.1h0.9v0.9h-0.9zM149.2,319.8h0.9v0.9h-0.9zM140.3,314.0h0.9v0.9h-0.9zM154.0,323.8h0.9v0.9h-0.9zM152.8,314.0h0.9v0.9h-0.9zM147.8,310.9h0.9v0.9h-0.9zM151.8,310.6h0.9v0.9h-0.9zM147.5,303.9h0.9v0.9h-0.9zM140.4,322.7h0.9v0.9h-0.9zM147.3,315.0h0.9v0.9h-0.9zM137.4,313.8h0.9v0.9h-0.9zM156.1,306.7h0.9v0.9h-0.9zM136.6,313.2h0.9v0.9h-0.9zM144.7,313.0h0.9v0.9h-0.9zM141.5,307.4h0.9v0.9h-0.9zM141.6,317.1h0.9v0.9h-0.9zM146.8,318.0h0.9v0.9h-0.9zM142.3,316.9h0.9v0.9h-0.9zM145.1,314.4h0.9v0.9h-0.9zM151.1,314.2h0.9v0.9h-0.9zM145.5,305.9h0.9v0.9h-0.9zM147.3,317.8h0.9v0.9h-0.9zM144.2,313.7h0.9v0.9h-0.9zM139.2,307.5h0.9v0.9h-0.9zM148.8,320.3h0.9v0.9h-0.9zM145.6,305.8h0.9v0.9h-0.9zM145.3,306.3h0.9v0.9h-0.9zM145.8,323.4h0.9v0.9h-0.9zM148.3,313.3h0.9v0.9h-0.9zM151.6,312.1h0.9v0.9h-0.9zM148.5,315.0h0.9v0.9h-0.9zM149.0,306.8h0.9v0.9h-0.9zM150.1,318.3h0.9v0.9h-0.9zM136.9,300.7h0.9v0.9h-0.9zM143.0,321.3h0.9v0.9h-0.9zM147.1,317.3h0.9v0.9h-0.9zM149.4,318.4h0.9v0.9h-0.9zM144.2,311.1h0.9v0.9h-0.9zM148.7,317.0h0.9v0.9h-0.9zM149.5,315.7h0.9v0.9h-0.9zM144.9,319.4h0.9v0.9h-0.9zM149.1,319.2h0.9v0.9h-0.9zM135.8,319.0h0.9v0.9h-0.9zM136.2,315.0h0.9v0.9h-0.9zM144.1,314.6h0.9v0.9h-0.9zM144.9,312.5h0.9v0.9h-0.9zM147.9,315.7h0.9v0.9h-0.9zM143.5,301.5h0.9v0.9h-0.9zM143.5,316.7h0.9v0.9h-0.9zM143.3,316.1h0.9v0.9h-0.9zM145.4,309.4h0.9v0.9h-0.9zM152.2,322.2h0.9v0.9h-0.9zM146.5,313.8h0.9v0.9h-0.9zM151.3,307.5h0.9v0.9h-0.9zM143.1,319.6h0.9v0.9h-0.9zM151.0,311.6h0.9v0.9h-0.9zM143.5,315.7h0.9v0.9h-0.9zM140.7,311.5h0.9v0.9h-0.9zM146.0,301.8h0.9v0.9h-0.9zM149.6,317.8h0.9v0.9h-0.9zM151.7,306.9h0.9v0.9h-0.9zM141.3,310.0h0.9v0.9h-0.9zM141.2,324.2h0.9v0.9h-0.9zM142.7,312.5h0.9v0.9h-0.9zM147.9,316.3h0.9v0.9h-0.9zM153.5,308.6h0.9v0.9h-0.9zM150.9,314.7h0.9v0.9h-0.9zM141.8,314.7h0.9v0.9h-0.9zM140.8,322.0h0.9v0.9h-0.9zM143.7,319.0h0.9v0.9h-0.9zM152.8,310.9h0.9v0.9h-0.9zM143.0,314.6h0.9v0.9h-0.9zM142.3,318.5h0.9v0.9h-0.9zM147.8,310.2h0.9v0.9h-0.9zM143.9,317.6h0.9v0.9h-0.9zM140.5,322.4h0.9v0.9h-0.9zM143.5,313.0h0.9v0.9h-0.9zM142.9,322.1h0.9v0.9h-0.9zM150.7,320.5h0.9v0.9h-0.9zM149.9,314.4h0.9v0.9h-0.9zM154.6,317.3h0.9v0.9h-0.9zM149.0,316.9h0.9v0.9h-0.9zM150.3,315.4h0.9v0.9h-0.9zM146.3,306.1h0.9v0.9h-0.9zM156.2,307.5h0.9v0.9h-0.9zM137.4,310.5h0.9v0.9h-0.9zM155.7,320.1h0.9v0.9h-0.9zM144.3,315.3h0.9v0.9h-0.9zM146.9,304.1h0.9v0.9h-0.9zM145.5,315.5h0.9v0.9h-0.9zM152.3,308.0h0.9v0.9h-0.9zM136.9,306.1h0.9v0.9h-0.9zM148.5,314.4h0.9v0.9h-0.9zM147.7,314.7h0.9v0.9h-0.9zM145.4,307.2h0.9v0.9h-0.9zM149.0,315.9h0.9v0.9h-0.9zM149.6,320.2h0.9v0.9h-0.9zM141.4,302.3h0.9v0.9h-0.9zM139.0,324.7h0.9v0.9h-0.9zM142.9,316.0h0.9v0.9h-0.9zM146.9,317.6h0.9v0.9h-0.9zM161.4,311.4h0.9v0.9h-0.9zM146.2,311.0h0.9v0.9h-0.9zM148.1,316.6h0.9v0.9h-0.9zM142.6,320.6h0.9v0.9h-0.9zM152.2,316.2h0.9v0.9h-0.9zM146.5,312.8h0.9v0.9h-0.9zM139.6,317.3h0.9v0.9h-0.9zM142.6,311.5h0.9v0.9h-0.9zM151.5,309.4h0.9v0.9h-0.9zM144.7,318.3h0.9v0.9h-0.9zM155.4,310.5h0.9v0.9h-0.9zM152.0,310.7h0.9v0.9h-0.9zM148.7,316.4h0.9v0.9h-0.9zM141.9,319.1h0.9v0.9h-0.9zM155.1,314.3h0.9v0.9h-0.9zM148.2,308.1h0.9v0.9h-0.9zM155.0,314.3h0.9v0.9h-0.9zM141.3,317.8h0.9v0.9h-0.9zM140.4,310.6h0.9v0.9h-0.9zM137.4,320.9h0.9v0.9h-0.9zM156.9,310.8h0.9v0.9h-0.9zM144.1,311.1h0.9v0.9h-0.9zM144.5,316.8h0.9v0.9h-0.9zM153.6,309.0h0.9v0.9h-0.9zM149.0,305.0h0.9v0.9h-0.9zM153.9,313.6h0.9v0.9h-0.9zM143.8,321.7h0.9v0.9h-0.9z" fill="#4a86d0" opacity="0.5"/>
<g filter="url(#b05)" transform="rotate(0 146 313.5)"><ellipse cx="146" cy="313.5" rx="5.00" ry="7.00" fill="#5a90d6" opacity="0.75"/><ellipse cx="146" cy="313.5" rx="3.75" ry="5.25" fill="#3fb4d8" opacity="0.9"/><ellipse cx="146" cy="313.5" rx="2.75" ry="3.85" fill="#4cc060" opacity="1"/><ellipse cx="146" cy="313.5" rx="1.90" ry="2.66" fill="#f0e020" opacity="1"/><ellipse cx="146" cy="313.5" rx="1.10" ry="1.54" fill="#e05020" opacity="1"/></g>
<path d="M172.4,320.6h0.9v0.9h-0.9zM179.4,322.6h0.9v0.9h-0.9zM168.2,311.4h0.9v0.9h-0.9zM175.2,309.6h0.9v0.9h-0.9zM182.1,306.0h0.9v0.9h-0.9zM179.0,320.5h0.9v0.9h-0.9zM161.3,304.2h0.9v0.9h-0.9zM167.6,307.2h0.9v0.9h-0.9zM175.3,309.8h0.9v0.9h-0.9zM173.5,307.8h0.9v0.9h-0.9zM172.5,314.4h0.9v0.9h-0.9zM177.5,305.5h0.9v0.9h-0.9zM172.3,305.7h0.9v0.9h-0.9zM171.9,301.0h0.9v0.9h-0.9zM178.7,315.7h0.9v0.9h-0.9zM172.3,306.2h0.9v0.9h-0.9zM170.3,306.3h0.9v0.9h-0.9zM163.7,322.4h0.9v0.9h-0.9zM192.7,302.4h0.9v0.9h-0.9zM166.0,315.0h0.9v0.9h-0.9zM176.6,300.0h0.9v0.9h-0.9zM161.5,314.8h0.9v0.9h-0.9zM161.1,321.0h0.9v0.9h-0.9zM170.0,311.6h0.9v0.9h-0.9zM173.0,307.1h0.9v0.9h-0.9zM172.1,308.9h0.9v0.9h-0.9zM180.5,310.4h0.9v0.9h-0.9zM172.8,307.3h0.9v0.9h-0.9zM169.2,305.8h0.9v0.9h-0.9zM173.1,323.9h0.9v0.9h-0.9zM179.7,312.7h0.9v0.9h-0.9zM183.0,318.1h0.9v0.9h-0.9zM174.2,309.8h0.9v0.9h-0.9zM166.4,312.7h0.9v0.9h-0.9zM171.1,299.9h0.9v0.9h-0.9zM165.3,324.6h0.9v0.9h-0.9zM174.3,314.5h0.9v0.9h-0.9zM174.2,307.7h0.9v0.9h-0.9zM175.8,318.6h0.9v0.9h-0.9zM171.1,314.6h0.9v0.9h-0.9zM179.2,307.6h0.9v0.9h-0.9zM174.0,305.8h0.9v0.9h-0.9zM176.6,308.4h0.9v0.9h-0.9zM179.9,305.7h0.9v0.9h-0.9zM183.1,308.8h0.9v0.9h-0.9zM168.0,304.7h0.9v0.9h-0.9zM177.0,305.0h0.9v0.9h-0.9zM183.8,320.0h0.9v0.9h-0.9zM176.1,301.0h0.9v0.9h-0.9zM172.9,305.9h0.9v0.9h-0.9zM162.1,314.0h0.9v0.9h-0.9zM186.2,307.2h0.9v0.9h-0.9zM177.9,320.0h0.9v0.9h-0.9zM167.2,308.6h0.9v0.9h-0.9zM174.6,314.3h0.9v0.9h-0.9zM166.1,312.5h0.9v0.9h-0.9zM172.4,317.7h0.9v0.9h-0.9zM163.4,307.1h0.9v0.9h-0.9zM170.0,308.8h0.9v0.9h-0.9zM177.3,306.6h0.9v0.9h-0.9zM189.4,306.1h0.9v0.9h-0.9zM178.0,318.1h0.9v0.9h-0.9zM178.8,309.6h0.9v0.9h-0.9zM168.0,309.2h0.9v0.9h-0.9zM177.0,311.8h0.9v0.9h-0.9zM176.5,315.0h0.9v0.9h-0.9zM167.7,304.5h0.9v0.9h-0.9zM181.6,307.6h0.9v0.9h-0.9zM163.5,324.0h0.9v0.9h-0.9zM168.0,304.5h0.9v0.9h-0.9zM178.8,303.1h0.9v0.9h-0.9zM167.8,318.3h0.9v0.9h-0.9zM168.1,328.6h0.9v0.9h-0.9zM173.6,329.8h0.9v0.9h-0.9zM173.8,311.4h0.9v0.9h-0.9zM169.2,309.4h0.9v0.9h-0.9zM170.0,310.8h0.9v0.9h-0.9zM177.6,302.1h0.9v0.9h-0.9zM167.5,296.3h0.9v0.9h-0.9zM182.0,310.5h0.9v0.9h-0.9zM172.9,310.6h0.9v0.9h-0.9zM179.0,313.2h0.9v0.9h-0.9zM178.1,309.8h0.9v0.9h-0.9zM172.3,310.6h0.9v0.9h-0.9zM161.8,318.6h0.9v0.9h-0.9zM163.5,304.0h0.9v0.9h-0.9zM177.0,311.4h0.9v0.9h-0.9zM177.9,322.9h0.9v0.9h-0.9zM184.2,320.7h0.9v0.9h-0.9zM171.6,325.3h0.9v0.9h-0.9zM167.7,310.4h0.9v0.9h-0.9zM179.0,309.5h0.9v0.9h-0.9zM172.3,308.5h0.9v0.9h-0.9zM181.2,293.7h0.9v0.9h-0.9zM180.6,318.4h0.9v0.9h-0.9zM172.6,314.9h0.9v0.9h-0.9zM167.2,318.8h0.9v0.9h-0.9zM191.4,304.6h0.9v0.9h-0.9zM181.4,310.6h0.9v0.9h-0.9zM171.0,307.6h0.9v0.9h-0.9zM171.9,302.2h0.9v0.9h-0.9zM164.9,322.6h0.9v0.9h-0.9zM172.9,314.9h0.9v0.9h-0.9zM174.9,314.3h0.9v0.9h-0.9zM163.8,304.4h0.9v0.9h-0.9zM176.8,318.0h0.9v0.9h-0.9zM166.1,307.0h0.9v0.9h-0.9zM166.6,315.6h0.9v0.9h-0.9zM175.1,311.2h0.9v0.9h-0.9zM169.1,313.4h0.9v0.9h-0.9zM173.2,305.8h0.9v0.9h-0.9zM175.0,306.3h0.9v0.9h-0.9zM178.7,315.4h0.9v0.9h-0.9zM168.9,315.1h0.9v0.9h-0.9zM173.4,306.1h0.9v0.9h-0.9zM167.5,299.4h0.9v0.9h-0.9zM166.2,313.4h0.9v0.9h-0.9zM180.2,306.6h0.9v0.9h-0.9zM174.0,313.4h0.9v0.9h-0.9zM177.7,314.1h0.9v0.9h-0.9zM180.4,316.4h0.9v0.9h-0.9zM168.4,313.8h0.9v0.9h-0.9zM158.9,309.7h0.9v0.9h-0.9zM173.1,315.1h0.9v0.9h-0.9zM171.2,316.8h0.9v0.9h-0.9zM180.9,305.1h0.9v0.9h-0.9zM169.7,312.8h0.9v0.9h-0.9zM175.9,312.0h0.9v0.9h-0.9zM178.0,302.7h0.9v0.9h-0.9zM177.7,319.2h0.9v0.9h-0.9zM179.7,314.0h0.9v0.9h-0.9zM171.6,313.8h0.9v0.9h-0.9zM172.6,299.9h0.9v0.9h-0.9zM169.4,310.7h0.9v0.9h-0.9zM169.9,304.5h0.9v0.9h-0.9zM171.6,308.4h0.9v0.9h-0.9zM173.4,310.7h0.9v0.9h-0.9zM174.0,318.0h0.9v0.9h-0.9zM173.8,313.8h0.9v0.9h-0.9zM165.7,290.4h0.9v0.9h-0.9zM170.6,315.7h0.9v0.9h-0.9zM171.0,306.6h0.9v0.9h-0.9zM165.6,317.2h0.9v0.9h-0.9zM169.8,312.7h0.9v0.9h-0.9zM179.8,314.8h0.9v0.9h-0.9zM186.5,310.1h0.9v0.9h-0.9zM178.7,315.9h0.9v0.9h-0.9zM169.1,311.3h0.9v0.9h-0.9zM169.6,303.8h0.9v0.9h-0.9zM174.8,305.6h0.9v0.9h-0.9zM183.1,305.8h0.9v0.9h-0.9zM169.7,311.6h0.9v0.9h-0.9zM169.9,311.4h0.9v0.9h-0.9zM169.4,301.0h0.9v0.9h-0.9zM158.5,302.0h0.9v0.9h-0.9zM182.1,314.1h0.9v0.9h-0.9zM173.9,307.7h0.9v0.9h-0.9zM172.1,313.1h0.9v0.9h-0.9zM164.7,305.4h0.9v0.9h-0.9zM167.7,319.8h0.9v0.9h-0.9zM166.7,319.2h0.9v0.9h-0.9zM170.2,330.1h0.9v0.9h-0.9zM172.5,311.2h0.9v0.9h-0.9zM181.1,317.1h0.9v0.9h-0.9zM178.6,303.5h0.9v0.9h-0.9zM179.8,322.8h0.9v0.9h-0.9zM172.4,307.6h0.9v0.9h-0.9zM166.5,318.1h0.9v0.9h-0.9zM174.8,311.0h0.9v0.9h-0.9zM165.6,322.3h0.9v0.9h-0.9zM178.3,310.9h0.9v0.9h-0.9zM181.9,304.3h0.9v0.9h-0.9zM178.3,304.0h0.9v0.9h-0.9zM181.5,309.1h0.9v0.9h-0.9zM180.3,308.1h0.9v0.9h-0.9zM175.4,319.0h0.9v0.9h-0.9zM167.6,311.7h0.9v0.9h-0.9zM168.0,317.0h0.9v0.9h-0.9zM169.4,308.4h0.9v0.9h-0.9zM171.8,319.2h0.9v0.9h-0.9z" fill="#7fa0dc" opacity="0.45"/>
<g filter="url(#b2)" transform="rotate(0 173 310)"><ellipse cx="173" cy="310" rx="7.00" ry="8.00" fill="#a9c0ec" opacity="0.6"/><ellipse cx="173" cy="310" rx="4.20" ry="4.80" fill="#7fa3e0" opacity="0.5"/></g>
<path d="M158.8,286.9h0.9v0.9h-0.9zM163.0,284.3h0.9v0.9h-0.9zM160.3,286.2h0.9v0.9h-0.9zM166.2,279.3h0.9v0.9h-0.9zM166.4,281.1h0.9v0.9h-0.9zM165.1,298.4h0.9v0.9h-0.9zM159.2,286.7h0.9v0.9h-0.9zM163.5,291.9h0.9v0.9h-0.9zM162.2,278.1h0.9v0.9h-0.9zM155.3,287.9h0.9v0.9h-0.9zM166.5,292.3h0.9v0.9h-0.9zM161.8,290.3h0.9v0.9h-0.9zM158.6,293.5h0.9v0.9h-0.9zM164.6,283.6h0.9v0.9h-0.9zM166.1,295.7h0.9v0.9h-0.9zM159.9,280.8h0.9v0.9h-0.9zM158.9,281.2h0.9v0.9h-0.9zM164.7,288.8h0.9v0.9h-0.9zM164.0,288.0h0.9v0.9h-0.9zM172.1,285.6h0.9v0.9h-0.9zM157.5,275.6h0.9v0.9h-0.9zM166.5,283.6h0.9v0.9h-0.9zM163.5,289.0h0.9v0.9h-0.9zM167.8,279.2h0.9v0.9h-0.9zM159.3,287.4h0.9v0.9h-0.9zM164.1,292.7h0.9v0.9h-0.9zM162.0,276.7h0.9v0.9h-0.9zM172.0,278.8h0.9v0.9h-0.9zM159.2,288.9h0.9v0.9h-0.9zM158.6,299.4h0.9v0.9h-0.9zM166.4,289.7h0.9v0.9h-0.9zM162.4,298.1h0.9v0.9h-0.9zM168.2,283.4h0.9v0.9h-0.9zM172.5,278.6h0.9v0.9h-0.9zM161.5,288.4h0.9v0.9h-0.9zM165.8,282.2h0.9v0.9h-0.9zM174.5,294.4h0.9v0.9h-0.9zM159.4,288.9h0.9v0.9h-0.9zM161.2,284.8h0.9v0.9h-0.9zM170.9,287.6h0.9v0.9h-0.9zM164.3,287.5h0.9v0.9h-0.9zM158.0,293.1h0.9v0.9h-0.9zM160.5,293.5h0.9v0.9h-0.9zM162.3,284.7h0.9v0.9h-0.9zM173.9,288.0h0.9v0.9h-0.9zM161.2,284.3h0.9v0.9h-0.9zM168.6,296.4h0.9v0.9h-0.9zM168.7,285.0h0.9v0.9h-0.9zM158.3,283.6h0.9v0.9h-0.9zM164.3,288.2h0.9v0.9h-0.9zM161.1,293.4h0.9v0.9h-0.9zM159.3,283.4h0.9v0.9h-0.9zM168.0,289.4h0.9v0.9h-0.9zM162.7,291.8h0.9v0.9h-0.9zM156.6,295.2h0.9v0.9h-0.9zM178.1,296.8h0.9v0.9h-0.9zM165.7,296.8h0.9v0.9h-0.9zM165.3,293.6h0.9v0.9h-0.9zM163.8,288.0h0.9v0.9h-0.9zM168.1,278.3h0.9v0.9h-0.9zM163.8,295.6h0.9v0.9h-0.9zM147.5,288.9h0.9v0.9h-0.9zM170.5,288.6h0.9v0.9h-0.9zM166.2,293.9h0.9v0.9h-0.9zM167.0,277.5h0.9v0.9h-0.9zM159.3,285.5h0.9v0.9h-0.9zM165.9,284.8h0.9v0.9h-0.9zM164.4,295.3h0.9v0.9h-0.9zM147.4,292.8h0.9v0.9h-0.9zM170.6,290.0h0.9v0.9h-0.9zM165.1,287.3h0.9v0.9h-0.9zM167.2,288.2h0.9v0.9h-0.9zM160.7,290.9h0.9v0.9h-0.9zM160.0,286.8h0.9v0.9h-0.9zM162.9,281.2h0.9v0.9h-0.9zM168.6,286.7h0.9v0.9h-0.9zM158.0,286.6h0.9v0.9h-0.9zM156.7,294.2h0.9v0.9h-0.9zM168.1,296.9h0.9v0.9h-0.9zM161.6,290.5h0.9v0.9h-0.9z" fill="#8fa8dc" opacity="0.4"/>
<path d="M179.0,281.2h0.9v0.9h-0.9zM178.9,289.2h0.9v0.9h-0.9zM183.1,286.4h0.9v0.9h-0.9zM181.1,293.6h0.9v0.9h-0.9zM177.9,285.1h0.9v0.9h-0.9zM173.9,295.7h0.9v0.9h-0.9zM176.6,291.4h0.9v0.9h-0.9zM183.1,286.5h0.9v0.9h-0.9zM177.9,288.4h0.9v0.9h-0.9zM180.4,279.1h0.9v0.9h-0.9zM176.6,287.9h0.9v0.9h-0.9zM176.9,297.1h0.9v0.9h-0.9zM173.8,288.0h0.9v0.9h-0.9zM174.4,292.3h0.9v0.9h-0.9zM181.7,288.4h0.9v0.9h-0.9zM184.9,286.4h0.9v0.9h-0.9zM180.7,280.6h0.9v0.9h-0.9zM177.9,287.0h0.9v0.9h-0.9zM179.3,294.9h0.9v0.9h-0.9zM180.7,282.6h0.9v0.9h-0.9zM179.9,284.3h0.9v0.9h-0.9zM179.5,284.3h0.9v0.9h-0.9zM177.7,285.8h0.9v0.9h-0.9zM178.9,285.5h0.9v0.9h-0.9zM175.8,286.4h0.9v0.9h-0.9zM180.3,291.2h0.9v0.9h-0.9zM180.8,280.1h0.9v0.9h-0.9zM178.7,279.1h0.9v0.9h-0.9zM178.8,284.6h0.9v0.9h-0.9zM173.7,288.9h0.9v0.9h-0.9zM177.1,281.6h0.9v0.9h-0.9zM176.3,290.9h0.9v0.9h-0.9zM185.9,286.9h0.9v0.9h-0.9zM180.0,284.5h0.9v0.9h-0.9zM179.8,285.8h0.9v0.9h-0.9zM189.1,283.4h0.9v0.9h-0.9zM181.3,282.5h0.9v0.9h-0.9zM182.1,284.5h0.9v0.9h-0.9zM183.8,281.5h0.9v0.9h-0.9zM185.5,290.3h0.9v0.9h-0.9zM173.6,289.1h0.9v0.9h-0.9zM181.0,280.1h0.9v0.9h-0.9zM182.3,284.6h0.9v0.9h-0.9zM183.2,284.7h0.9v0.9h-0.9zM182.2,288.7h0.9v0.9h-0.9zM180.7,288.2h0.9v0.9h-0.9zM179.7,284.6h0.9v0.9h-0.9zM179.8,291.4h0.9v0.9h-0.9zM174.3,299.1h0.9v0.9h-0.9zM187.0,282.3h0.9v0.9h-0.9zM183.2,287.7h0.9v0.9h-0.9zM182.2,282.8h0.9v0.9h-0.9zM186.3,284.1h0.9v0.9h-0.9zM181.2,282.9h0.9v0.9h-0.9zM182.8,295.9h0.9v0.9h-0.9zM177.2,283.2h0.9v0.9h-0.9zM181.9,285.0h0.9v0.9h-0.9zM181.2,280.7h0.9v0.9h-0.9zM182.9,281.2h0.9v0.9h-0.9zM177.5,301.2h0.9v0.9h-0.9zM175.8,295.8h0.9v0.9h-0.9zM182.4,283.7h0.9v0.9h-0.9zM181.0,281.3h0.9v0.9h-0.9zM178.9,291.0h0.9v0.9h-0.9zM183.1,286.4h0.9v0.9h-0.9zM176.8,285.4h0.9v0.9h-0.9zM184.1,290.3h0.9v0.9h-0.9zM184.0,275.4h0.9v0.9h-0.9zM177.7,289.6h0.9v0.9h-0.9zM174.6,293.5h0.9v0.9h-0.9zM180.2,281.6h0.9v0.9h-0.9zM178.6,285.9h0.9v0.9h-0.9zM183.9,284.9h0.9v0.9h-0.9zM175.2,284.8h0.9v0.9h-0.9zM178.3,296.1h0.9v0.9h-0.9zM173.9,294.1h0.9v0.9h-0.9zM181.0,290.2h0.9v0.9h-0.9zM179.6,281.4h0.9v0.9h-0.9zM175.5,291.2h0.9v0.9h-0.9zM178.5,293.1h0.9v0.9h-0.9zM185.0,289.0h0.9v0.9h-0.9zM176.0,297.6h0.9v0.9h-0.9zM177.3,283.2h0.9v0.9h-0.9zM179.7,284.5h0.9v0.9h-0.9zM182.1,282.5h0.9v0.9h-0.9zM186.0,280.7h0.9v0.9h-0.9zM181.1,276.9h0.9v0.9h-0.9zM174.9,288.9h0.9v0.9h-0.9zM182.1,286.6h0.9v0.9h-0.9zM181.1,291.3h0.9v0.9h-0.9zM178.5,286.2h0.9v0.9h-0.9zM177.0,298.5h0.9v0.9h-0.9zM178.0,288.6h0.9v0.9h-0.9zM179.1,294.3h0.9v0.9h-0.9zM179.0,293.4h0.9v0.9h-0.9zM177.6,284.5h0.9v0.9h-0.9zM174.7,284.8h0.9v0.9h-0.9zM186.0,290.7h0.9v0.9h-0.9zM179.7,288.6h0.9v0.9h-0.9zM183.1,279.9h0.9v0.9h-0.9zM178.4,285.4h0.9v0.9h-0.9zM182.2,282.4h0.9v0.9h-0.9zM181.2,282.9h0.9v0.9h-0.9zM177.7,282.1h0.9v0.9h-0.9zM176.1,290.8h0.9v0.9h-0.9zM182.5,291.6h0.9v0.9h-0.9zM180.5,283.8h0.9v0.9h-0.9zM176.7,282.5h0.9v0.9h-0.9zM182.0,295.0h0.9v0.9h-0.9zM181.1,285.9h0.9v0.9h-0.9zM179.2,289.4h0.9v0.9h-0.9zM179.1,289.4h0.9v0.9h-0.9zM177.8,286.5h0.9v0.9h-0.9zM176.9,292.6h0.9v0.9h-0.9zM174.0,292.9h0.9v0.9h-0.9zM180.8,284.2h0.9v0.9h-0.9zM179.8,287.7h0.9v0.9h-0.9zM178.5,289.1h0.9v0.9h-0.9zM181.8,277.1h0.9v0.9h-0.9zM182.0,287.6h0.9v0.9h-0.9zM183.8,290.8h0.9v0.9h-0.9zM172.0,291.8h0.9v0.9h-0.9zM177.0,289.4h0.9v0.9h-0.9zM184.0,295.3h0.9v0.9h-0.9zM177.1,285.4h0.9v0.9h-0.9zM174.2,289.1h0.9v0.9h-0.9zM183.6,282.0h0.9v0.9h-0.9zM179.4,292.6h0.9v0.9h-0.9zM183.6,284.2h0.9v0.9h-0.9zM180.3,280.2h0.9v0.9h-0.9zM175.8,287.5h0.9v0.9h-0.9zM177.5,294.2h0.9v0.9h-0.9zM181.4,285.5h0.9v0.9h-0.9zM172.9,294.1h0.9v0.9h-0.9zM180.5,287.0h0.9v0.9h-0.9zM179.3,280.3h0.9v0.9h-0.9zM183.7,282.3h0.9v0.9h-0.9zM180.3,291.1h0.9v0.9h-0.9zM182.2,277.8h0.9v0.9h-0.9zM178.3,295.2h0.9v0.9h-0.9zM180.2,279.3h0.9v0.9h-0.9zM182.7,288.9h0.9v0.9h-0.9zM175.8,293.1h0.9v0.9h-0.9zM178.3,289.2h0.9v0.9h-0.9zM180.4,282.5h0.9v0.9h-0.9zM182.3,282.6h0.9v0.9h-0.9zM176.1,282.3h0.9v0.9h-0.9zM181.2,294.3h0.9v0.9h-0.9zM184.0,294.7h0.9v0.9h-0.9zM183.9,290.1h0.9v0.9h-0.9zM177.8,289.2h0.9v0.9h-0.9zM175.9,290.1h0.9v0.9h-0.9zM178.2,288.0h0.9v0.9h-0.9zM177.9,285.5h0.9v0.9h-0.9zM183.1,286.9h0.9v0.9h-0.9zM177.6,287.9h0.9v0.9h-0.9zM182.8,286.9h0.9v0.9h-0.9zM179.9,277.3h0.9v0.9h-0.9zM174.2,291.5h0.9v0.9h-0.9zM178.8,289.6h0.9v0.9h-0.9zM182.4,289.7h0.9v0.9h-0.9zM182.3,284.8h0.9v0.9h-0.9zM174.3,288.9h0.9v0.9h-0.9zM178.6,290.1h0.9v0.9h-0.9zM177.3,285.2h0.9v0.9h-0.9zM187.2,284.5h0.9v0.9h-0.9zM177.6,294.3h0.9v0.9h-0.9zM179.1,287.5h0.9v0.9h-0.9zM172.5,289.2h0.9v0.9h-0.9zM176.2,293.6h0.9v0.9h-0.9zM180.5,284.9h0.9v0.9h-0.9zM181.7,286.2h0.9v0.9h-0.9zM175.5,295.0h0.9v0.9h-0.9zM182.5,288.7h0.9v0.9h-0.9zM180.6,292.4h0.9v0.9h-0.9zM181.5,287.9h0.9v0.9h-0.9zM179.4,289.4h0.9v0.9h-0.9zM180.8,289.6h0.9v0.9h-0.9zM178.6,286.1h0.9v0.9h-0.9zM183.2,282.2h0.9v0.9h-0.9zM178.5,291.2h0.9v0.9h-0.9zM181.0,285.7h0.9v0.9h-0.9zM180.9,284.4h0.9v0.9h-0.9zM183.4,286.0h0.9v0.9h-0.9zM177.8,278.9h0.9v0.9h-0.9zM180.4,288.5h0.9v0.9h-0.9zM181.3,279.5h0.9v0.9h-0.9zM181.2,282.4h0.9v0.9h-0.9zM178.2,286.4h0.9v0.9h-0.9zM177.2,288.0h0.9v0.9h-0.9zM178.8,283.8h0.9v0.9h-0.9zM176.5,294.8h0.9v0.9h-0.9zM182.5,293.8h0.9v0.9h-0.9zM177.9,286.4h0.9v0.9h-0.9zM180.9,292.4h0.9v0.9h-0.9zM175.6,285.1h0.9v0.9h-0.9zM176.5,290.4h0.9v0.9h-0.9zM182.8,284.8h0.9v0.9h-0.9zM186.4,287.7h0.9v0.9h-0.9zM187.0,288.6h0.9v0.9h-0.9z" fill="#4a86d0" opacity="0.5"/>
<g filter="url(#b05)" transform="rotate(20 180.4 286)"><ellipse cx="180.4" cy="286" rx="4.00" ry="7.00" fill="#5a90d6" opacity="0.75"/><ellipse cx="180.4" cy="286" rx="2.80" ry="4.90" fill="#3fb4d8" opacity="0.9"/><ellipse cx="180.4" cy="286" rx="2.00" ry="3.50" fill="#4cc060" opacity="1"/><ellipse cx="180.4" cy="286" rx="1.00" ry="1.75" fill="#e8e830" opacity="1"/></g>
<path d="M134.5,266.5 Q134.5,264.8 136.5,264.8 L149.5,264.8 Q151.2,264.8 151.3,266.5 L152.2,297.5 Q152.2,299.5 150.2,299.5 L137.5,299.5 Q135.5,299.5 135.4,297.5 Z" fill="none" stroke="#666" stroke-width="0.8"/>
<polygon points="155.4,277.7 165.9,276.1 171.8,277.7 172.3,292.2 166.7,295.4 157.8,295.4 153.8,290.6" fill="none" stroke="#7a7a7a" stroke-width="0.8"/>
<polygon points="173.9,277.7 182.8,273.7 191.6,276.1 195.7,282.6 191.6,294.6 182.8,297 174.7,292.2" fill="none" stroke="#7a7a7a" stroke-width="0.8"/>
<polygon points="166.7,301.1 176.3,299.5 182.8,302.2 185.7,308.3 184.4,323.6 176.3,326 165.9,322 163.8,306.7" fill="none" stroke="#7a7a7a" stroke-width="0.8"/>
<text x="135.2" y="271" font-size="6" text-anchor="start" fill="#111" textLength="11.3" lengthAdjust="spacingAndGlyphs" >16.6</text>
<text x="159.4" y="273.4" font-size="6" text-anchor="start" fill="#111" textLength="12.4" lengthAdjust="spacingAndGlyphs" >3.03</text>
<text x="188.9" y="271" font-size="6" text-anchor="start" fill="#111" textLength="12.4" lengthAdjust="spacingAndGlyphs" >22.3</text>
<text x="187.6" y="320.1" font-size="6" text-anchor="start" fill="#111" textLength="12.1" lengthAdjust="spacingAndGlyphs" >3.76</text>
<rect x="130.5" y="263.6" width="72.5" height="71.29999999999995" fill="none" stroke="#111" stroke-width="1.2"/>
<line x1="128.5" y1="267" x2="130.5" y2="267" stroke="#222" stroke-width="0.8" />
<line x1="128.5" y1="272" x2="130.5" y2="272" stroke="#222" stroke-width="0.8" />
<line x1="128.5" y1="275" x2="130.5" y2="275" stroke="#222" stroke-width="0.8" />
<line x1="128.5" y1="278" x2="130.5" y2="278" stroke="#222" stroke-width="0.8" />
<line x1="128.5" y1="281" x2="130.5" y2="281" stroke="#222" stroke-width="0.8" />
<line x1="128.5" y1="285" x2="130.5" y2="285" stroke="#222" stroke-width="0.8" />
<line x1="128.5" y1="290" x2="130.5" y2="290" stroke="#222" stroke-width="0.8" />
<line x1="128.5" y1="293" x2="130.5" y2="293" stroke="#222" stroke-width="0.8" />
<line x1="128.5" y1="296" x2="130.5" y2="296" stroke="#222" stroke-width="0.8" />
<line x1="128.5" y1="299" x2="130.5" y2="299" stroke="#222" stroke-width="0.8" />
<line x1="128.5" y1="303" x2="130.5" y2="303" stroke="#222" stroke-width="0.8" />
<line x1="128.5" y1="308" x2="130.5" y2="308" stroke="#222" stroke-width="0.8" />
<line x1="128.5" y1="312" x2="130.5" y2="312" stroke="#222" stroke-width="0.8" />
<line x1="128.5" y1="316" x2="130.5" y2="316" stroke="#222" stroke-width="0.8" />
<line x1="128.5" y1="320" x2="130.5" y2="320" stroke="#222" stroke-width="0.8" />
<line x1="128.5" y1="324" x2="130.5" y2="324" stroke="#222" stroke-width="0.8" />
<line x1="128.5" y1="328" x2="130.5" y2="328" stroke="#222" stroke-width="0.8" />
<line x1="128.5" y1="331" x2="130.5" y2="331" stroke="#222" stroke-width="0.8" />
<line x1="133" y1="334.9" x2="133" y2="336.9" stroke="#222" stroke-width="0.8" />
<line x1="137" y1="334.9" x2="137" y2="336.9" stroke="#222" stroke-width="0.8" />
<line x1="141" y1="334.9" x2="141" y2="336.9" stroke="#222" stroke-width="0.8" />
<line x1="149" y1="334.9" x2="149" y2="336.9" stroke="#222" stroke-width="0.8" />
<line x1="153" y1="334.9" x2="153" y2="336.9" stroke="#222" stroke-width="0.8" />
<line x1="157" y1="334.9" x2="157" y2="336.9" stroke="#222" stroke-width="0.8" />
<line x1="161" y1="334.9" x2="161" y2="336.9" stroke="#222" stroke-width="0.8" />
<line x1="168" y1="334.9" x2="168" y2="336.9" stroke="#222" stroke-width="0.8" />
<line x1="172" y1="334.9" x2="172" y2="336.9" stroke="#222" stroke-width="0.8" />
<line x1="176" y1="334.9" x2="176" y2="336.9" stroke="#222" stroke-width="0.8" />
<line x1="179" y1="334.9" x2="179" y2="336.9" stroke="#222" stroke-width="0.8" />
<line x1="185" y1="334.9" x2="185" y2="336.9" stroke="#222" stroke-width="0.8" />
<line x1="189" y1="334.9" x2="189" y2="336.9" stroke="#222" stroke-width="0.8" />
<line x1="193" y1="334.9" x2="193" y2="336.9" stroke="#222" stroke-width="0.8" />
<line x1="199" y1="334.9" x2="199" y2="336.9" stroke="#222" stroke-width="0.8" />
<text x="126.9" y="272" font-size="6.2" text-anchor="end" fill="#111">10<tspan font-size="3.72" dy="-2.4">5</tspan></text>
<text x="126.9" y="288.9" font-size="6.2" text-anchor="end" fill="#111">10<tspan font-size="3.72" dy="-2.4">4</tspan></text>
<text x="126.9" y="309.1" font-size="6.2" text-anchor="end" fill="#111">10<tspan font-size="3.72" dy="-2.4">3</tspan></text>
<text x="123.9" y="320.3" font-size="6.2" text-anchor="end" fill="#111" >0</text>
<text x="126.9" y="332.2" font-size="6.2" text-anchor="end" fill="#111">−10<tspan font-size="3.72" dy="-2.4">3</tspan></text>
<text x="145.1" y="343.5" font-size="6.2" text-anchor="middle" fill="#111" >0</text>
<text x="166.5" y="343.5" font-size="6.2" text-anchor="middle" fill="#111">10<tspan font-size="3.72" dy="-2.4">3</tspan></text>
<text x="182.1" y="343.5" font-size="6.2" text-anchor="middle" fill="#111">10<tspan font-size="3.72" dy="-2.4">4</tspan></text>
<text x="196.8" y="343.5" font-size="6.2" text-anchor="middle" fill="#111">10<tspan font-size="3.72" dy="-2.4">5</tspan></text>
<clipPath id="cpD2"><rect x="224.8" y="263.2" width="72.09999999999997" height="71.69999999999999"/></clipPath>
<g clip-path="url(#cpD2)">
<g filter="url(#b2)" transform="rotate(0 250 298)"><ellipse cx="250" cy="298" rx="25.00" ry="34.00" fill="#8fb0ec" opacity="0.6"/></g>
<g filter="url(#b2)" transform="rotate(0 248 296)"><ellipse cx="248" cy="296" rx="20.00" ry="28.00" fill="#4a78e0" opacity="0.75"/></g>
<g filter="url(#b1)" transform="rotate(0 238 288)"><ellipse cx="238" cy="288" rx="9.00" ry="24.00" fill="#2f5fe0" opacity="0.85"/></g>
<g filter="url(#b1)" transform="rotate(0 256 287)"><ellipse cx="256" cy="287" rx="14.00" ry="13.00" fill="#2a4fd0" opacity="0.9"/></g>
<g filter="url(#b2)" transform="rotate(0 262 312)"><ellipse cx="262" cy="312" rx="9.00" ry="9.00" fill="#5a80e0" opacity="0.7"/></g>
<g filter="url(#b2)" transform="rotate(0 252 274)"><ellipse cx="252" cy="274" rx="15.00" ry="8.00" fill="#4a70e0" opacity="0.7"/></g>
</g>
<path d="M248.8,330.0h0.9v0.9h-0.9zM242.8,289.1h0.9v0.9h-0.9zM270.2,296.6h0.9v0.9h-0.9zM256.6,275.6h0.9v0.9h-0.9zM274.5,314.2h0.9v0.9h-0.9zM254.9,309.4h0.9v0.9h-0.9zM243.1,289.1h0.9v0.9h-0.9zM228.5,303.6h0.9v0.9h-0.9zM267.0,312.0h0.9v0.9h-0.9zM262.6,309.5h0.9v0.9h-0.9zM237.4,274.9h0.9v0.9h-0.9zM258.8,300.1h0.9v0.9h-0.9zM263.5,292.6h0.9v0.9h-0.9zM237.9,304.9h0.9v0.9h-0.9zM242.4,269.1h0.9v0.9h-0.9zM241.7,282.2h0.9v0.9h-0.9zM234.7,287.8h0.9v0.9h-0.9zM273.7,290.2h0.9v0.9h-0.9zM265.7,296.1h0.9v0.9h-0.9zM255.5,285.7h0.9v0.9h-0.9zM249.0,268.5h0.9v0.9h-0.9zM274.6,284.2h0.9v0.9h-0.9zM258.0,287.2h0.9v0.9h-0.9zM253.7,277.1h0.9v0.9h-0.9zM244.9,312.9h0.9v0.9h-0.9zM261.7,274.8h0.9v0.9h-0.9zM253.9,306.2h0.9v0.9h-0.9zM241.2,291.9h0.9v0.9h-0.9zM246.6,304.2h0.9v0.9h-0.9zM262.5,320.6h0.9v0.9h-0.9zM254.5,331.5h0.9v0.9h-0.9zM237.0,327.8h0.9v0.9h-0.9zM246.4,310.4h0.9v0.9h-0.9zM248.3,298.7h0.9v0.9h-0.9zM237.4,303.9h0.9v0.9h-0.9zM277.8,299.8h0.9v0.9h-0.9zM249.7,297.4h0.9v0.9h-0.9zM259.8,293.8h0.9v0.9h-0.9zM249.9,301.0h0.9v0.9h-0.9zM267.9,313.6h0.9v0.9h-0.9zM235.6,286.5h0.9v0.9h-0.9zM250.3,311.8h0.9v0.9h-0.9zM263.3,293.8h0.9v0.9h-0.9zM279.2,294.5h0.9v0.9h-0.9zM269.3,321.7h0.9v0.9h-0.9zM271.9,300.7h0.9v0.9h-0.9zM257.9,271.2h0.9v0.9h-0.9zM259.9,315.5h0.9v0.9h-0.9zM248.6,315.1h0.9v0.9h-0.9zM257.9,323.4h0.9v0.9h-0.9zM228.2,283.1h0.9v0.9h-0.9zM236.9,279.4h0.9v0.9h-0.9zM272.6,281.5h0.9v0.9h-0.9zM238.6,290.5h0.9v0.9h-0.9zM262.1,289.4h0.9v0.9h-0.9zM260.1,306.7h0.9v0.9h-0.9zM237.4,276.0h0.9v0.9h-0.9zM272.4,285.0h0.9v0.9h-0.9zM235.3,303.7h0.9v0.9h-0.9zM250.7,281.3h0.9v0.9h-0.9zM265.0,312.9h0.9v0.9h-0.9zM253.8,284.3h0.9v0.9h-0.9zM255.3,304.0h0.9v0.9h-0.9zM237.4,297.7h0.9v0.9h-0.9zM295.0,278.0h0.9v0.9h-0.9zM226.6,307.7h0.9v0.9h-0.9zM244.2,288.8h0.9v0.9h-0.9zM258.5,295.0h0.9v0.9h-0.9zM263.6,306.1h0.9v0.9h-0.9zM265.9,299.3h0.9v0.9h-0.9zM226.7,315.1h0.9v0.9h-0.9zM253.5,273.5h0.9v0.9h-0.9zM250.9,312.3h0.9v0.9h-0.9zM236.0,298.0h0.9v0.9h-0.9zM239.9,280.1h0.9v0.9h-0.9zM241.5,319.1h0.9v0.9h-0.9zM259.4,296.7h0.9v0.9h-0.9zM248.9,299.4h0.9v0.9h-0.9zM253.9,300.4h0.9v0.9h-0.9zM226.4,313.0h0.9v0.9h-0.9zM259.7,276.6h0.9v0.9h-0.9zM248.1,295.6h0.9v0.9h-0.9zM241.9,306.4h0.9v0.9h-0.9zM246.3,292.4h0.9v0.9h-0.9zM236.9,292.4h0.9v0.9h-0.9zM235.8,297.9h0.9v0.9h-0.9zM268.2,314.5h0.9v0.9h-0.9zM255.9,273.9h0.9v0.9h-0.9zM264.1,313.2h0.9v0.9h-0.9zM250.2,291.5h0.9v0.9h-0.9zM265.0,278.6h0.9v0.9h-0.9zM250.3,320.6h0.9v0.9h-0.9zM241.5,307.4h0.9v0.9h-0.9zM251.4,272.1h0.9v0.9h-0.9zM241.4,316.6h0.9v0.9h-0.9zM266.3,286.9h0.9v0.9h-0.9zM265.5,285.0h0.9v0.9h-0.9zM253.4,296.8h0.9v0.9h-0.9zM232.8,302.7h0.9v0.9h-0.9zM238.6,282.6h0.9v0.9h-0.9zM238.5,280.4h0.9v0.9h-0.9zM262.3,298.4h0.9v0.9h-0.9zM253.5,292.6h0.9v0.9h-0.9zM250.9,292.6h0.9v0.9h-0.9zM235.0,271.1h0.9v0.9h-0.9zM251.0,314.6h0.9v0.9h-0.9zM253.2,324.8h0.9v0.9h-0.9zM231.2,292.6h0.9v0.9h-0.9zM241.5,318.3h0.9v0.9h-0.9zM273.3,288.2h0.9v0.9h-0.9zM260.1,293.0h0.9v0.9h-0.9zM236.2,295.2h0.9v0.9h-0.9zM235.7,323.7h0.9v0.9h-0.9zM258.1,317.5h0.9v0.9h-0.9zM261.0,298.7h0.9v0.9h-0.9zM263.9,326.5h0.9v0.9h-0.9zM235.9,310.7h0.9v0.9h-0.9zM254.6,294.1h0.9v0.9h-0.9zM246.1,306.2h0.9v0.9h-0.9zM257.9,308.4h0.9v0.9h-0.9zM244.4,274.4h0.9v0.9h-0.9zM268.2,319.4h0.9v0.9h-0.9zM242.2,296.5h0.9v0.9h-0.9zM261.1,266.8h0.9v0.9h-0.9zM253.7,284.9h0.9v0.9h-0.9zM278.1,297.2h0.9v0.9h-0.9zM252.9,289.8h0.9v0.9h-0.9zM252.5,266.2h0.9v0.9h-0.9zM232.3,271.7h0.9v0.9h-0.9zM262.4,295.5h0.9v0.9h-0.9zM241.7,322.2h0.9v0.9h-0.9zM239.1,264.9h0.9v0.9h-0.9zM239.7,291.1h0.9v0.9h-0.9zM249.8,319.5h0.9v0.9h-0.9zM268.3,323.8h0.9v0.9h-0.9zM258.0,288.4h0.9v0.9h-0.9zM243.2,271.5h0.9v0.9h-0.9zM267.5,318.7h0.9v0.9h-0.9zM251.2,281.7h0.9v0.9h-0.9zM259.3,305.5h0.9v0.9h-0.9zM252.1,277.0h0.9v0.9h-0.9zM253.3,287.3h0.9v0.9h-0.9zM260.2,307.3h0.9v0.9h-0.9zM256.1,289.7h0.9v0.9h-0.9zM271.0,310.4h0.9v0.9h-0.9zM267.5,311.5h0.9v0.9h-0.9zM259.1,303.8h0.9v0.9h-0.9zM235.3,265.7h0.9v0.9h-0.9zM237.1,307.6h0.9v0.9h-0.9zM262.5,300.2h0.9v0.9h-0.9zM251.2,328.7h0.9v0.9h-0.9zM244.5,266.3h0.9v0.9h-0.9zM228.7,291.5h0.9v0.9h-0.9zM259.6,309.7h0.9v0.9h-0.9zM247.0,311.1h0.9v0.9h-0.9zM249.3,284.5h0.9v0.9h-0.9zM244.8,310.1h0.9v0.9h-0.9zM263.1,277.6h0.9v0.9h-0.9zM236.4,299.1h0.9v0.9h-0.9zM279.2,276.8h0.9v0.9h-0.9zM232.8,304.2h0.9v0.9h-0.9zM257.0,286.5h0.9v0.9h-0.9zM249.6,305.4h0.9v0.9h-0.9zM226.1,296.6h0.9v0.9h-0.9zM258.3,312.9h0.9v0.9h-0.9zM266.0,295.8h0.9v0.9h-0.9zM230.2,320.2h0.9v0.9h-0.9zM260.6,286.0h0.9v0.9h-0.9zM264.2,314.9h0.9v0.9h-0.9zM243.6,284.0h0.9v0.9h-0.9zM238.5,295.6h0.9v0.9h-0.9zM235.2,303.7h0.9v0.9h-0.9zM275.9,276.5h0.9v0.9h-0.9zM264.3,287.8h0.9v0.9h-0.9zM257.5,294.8h0.9v0.9h-0.9zM267.6,284.8h0.9v0.9h-0.9zM260.1,283.6h0.9v0.9h-0.9zM253.1,296.8h0.9v0.9h-0.9zM264.9,269.8h0.9v0.9h-0.9zM231.5,321.0h0.9v0.9h-0.9zM255.3,326.3h0.9v0.9h-0.9zM235.9,300.6h0.9v0.9h-0.9zM258.3,327.5h0.9v0.9h-0.9zM249.3,289.3h0.9v0.9h-0.9zM259.8,295.2h0.9v0.9h-0.9zM239.7,310.2h0.9v0.9h-0.9zM268.7,288.4h0.9v0.9h-0.9zM245.6,303.4h0.9v0.9h-0.9zM265.4,306.1h0.9v0.9h-0.9zM236.8,287.2h0.9v0.9h-0.9zM264.4,295.0h0.9v0.9h-0.9zM241.4,312.1h0.9v0.9h-0.9zM235.3,284.8h0.9v0.9h-0.9zM240.5,303.1h0.9v0.9h-0.9zM243.5,316.2h0.9v0.9h-0.9zM241.2,292.3h0.9v0.9h-0.9zM257.8,300.5h0.9v0.9h-0.9zM236.2,322.9h0.9v0.9h-0.9zM257.9,288.5h0.9v0.9h-0.9zM252.9,277.9h0.9v0.9h-0.9zM233.2,291.8h0.9v0.9h-0.9zM255.0,298.8h0.9v0.9h-0.9zM239.4,273.1h0.9v0.9h-0.9zM227.1,324.6h0.9v0.9h-0.9zM255.1,283.2h0.9v0.9h-0.9zM266.2,306.3h0.9v0.9h-0.9zM244.4,286.4h0.9v0.9h-0.9zM265.6,302.7h0.9v0.9h-0.9zM272.3,303.3h0.9v0.9h-0.9zM242.0,286.7h0.9v0.9h-0.9zM240.4,301.4h0.9v0.9h-0.9zM253.5,307.5h0.9v0.9h-0.9zM256.2,278.9h0.9v0.9h-0.9zM247.2,280.8h0.9v0.9h-0.9zM256.6,274.3h0.9v0.9h-0.9zM242.1,282.2h0.9v0.9h-0.9zM241.6,292.6h0.9v0.9h-0.9zM270.6,292.6h0.9v0.9h-0.9zM230.4,291.8h0.9v0.9h-0.9zM260.2,306.6h0.9v0.9h-0.9zM253.3,331.4h0.9v0.9h-0.9zM265.1,298.6h0.9v0.9h-0.9zM266.6,273.9h0.9v0.9h-0.9zM247.7,282.0h0.9v0.9h-0.9zM252.4,324.9h0.9v0.9h-0.9zM243.2,324.5h0.9v0.9h-0.9zM236.1,321.6h0.9v0.9h-0.9zM226.9,282.3h0.9v0.9h-0.9zM263.6,295.4h0.9v0.9h-0.9zM252.0,296.8h0.9v0.9h-0.9zM252.5,293.9h0.9v0.9h-0.9zM236.7,292.0h0.9v0.9h-0.9zM251.5,281.5h0.9v0.9h-0.9zM256.4,327.4h0.9v0.9h-0.9zM227.7,287.6h0.9v0.9h-0.9zM246.2,297.3h0.9v0.9h-0.9zM251.3,284.5h0.9v0.9h-0.9zM249.5,297.1h0.9v0.9h-0.9zM248.8,323.6h0.9v0.9h-0.9zM251.8,271.5h0.9v0.9h-0.9zM228.7,307.2h0.9v0.9h-0.9zM245.4,286.3h0.9v0.9h-0.9zM231.6,291.7h0.9v0.9h-0.9zM248.8,285.2h0.9v0.9h-0.9zM245.2,312.3h0.9v0.9h-0.9zM260.7,306.4h0.9v0.9h-0.9zM247.6,273.6h0.9v0.9h-0.9zM260.6,322.8h0.9v0.9h-0.9zM267.3,317.1h0.9v0.9h-0.9zM253.8,303.5h0.9v0.9h-0.9zM249.8,318.7h0.9v0.9h-0.9zM260.6,291.5h0.9v0.9h-0.9zM250.0,269.2h0.9v0.9h-0.9zM240.0,291.8h0.9v0.9h-0.9zM283.3,283.0h0.9v0.9h-0.9zM262.5,298.3h0.9v0.9h-0.9zM246.0,307.8h0.9v0.9h-0.9zM276.3,302.1h0.9v0.9h-0.9zM249.2,299.8h0.9v0.9h-0.9zM259.0,288.5h0.9v0.9h-0.9zM251.6,305.7h0.9v0.9h-0.9zM245.3,303.7h0.9v0.9h-0.9zM254.5,309.3h0.9v0.9h-0.9zM236.6,287.8h0.9v0.9h-0.9zM244.2,317.7h0.9v0.9h-0.9zM253.4,268.4h0.9v0.9h-0.9zM232.6,330.5h0.9v0.9h-0.9zM254.6,274.7h0.9v0.9h-0.9zM237.6,299.5h0.9v0.9h-0.9zM269.4,325.0h0.9v0.9h-0.9zM245.0,291.8h0.9v0.9h-0.9zM276.1,280.0h0.9v0.9h-0.9zM271.3,302.9h0.9v0.9h-0.9zM251.3,319.2h0.9v0.9h-0.9zM256.6,282.6h0.9v0.9h-0.9zM229.3,297.3h0.9v0.9h-0.9zM257.0,320.6h0.9v0.9h-0.9zM258.4,323.2h0.9v0.9h-0.9zM260.8,300.7h0.9v0.9h-0.9zM255.9,303.9h0.9v0.9h-0.9zM241.5,295.0h0.9v0.9h-0.9zM251.7,289.2h0.9v0.9h-0.9zM230.1,272.0h0.9v0.9h-0.9zM256.9,306.0h0.9v0.9h-0.9zM251.5,276.8h0.9v0.9h-0.9zM261.6,290.2h0.9v0.9h-0.9zM257.2,289.4h0.9v0.9h-0.9zM270.1,320.5h0.9v0.9h-0.9zM253.5,267.4h0.9v0.9h-0.9zM244.8,292.1h0.9v0.9h-0.9zM256.3,294.8h0.9v0.9h-0.9zM254.7,268.8h0.9v0.9h-0.9zM241.3,321.9h0.9v0.9h-0.9zM230.2,313.0h0.9v0.9h-0.9zM281.4,308.3h0.9v0.9h-0.9zM231.1,318.5h0.9v0.9h-0.9zM244.4,318.4h0.9v0.9h-0.9zM266.0,300.3h0.9v0.9h-0.9zM274.4,314.0h0.9v0.9h-0.9zM243.5,280.0h0.9v0.9h-0.9zM283.5,290.0h0.9v0.9h-0.9zM255.6,295.0h0.9v0.9h-0.9zM243.6,269.2h0.9v0.9h-0.9zM248.0,295.0h0.9v0.9h-0.9zM263.4,288.1h0.9v0.9h-0.9zM228.7,278.4h0.9v0.9h-0.9zM249.5,301.3h0.9v0.9h-0.9zM259.9,290.4h0.9v0.9h-0.9zM257.3,299.5h0.9v0.9h-0.9zM273.0,296.0h0.9v0.9h-0.9zM252.0,306.8h0.9v0.9h-0.9zM266.6,281.0h0.9v0.9h-0.9zM243.6,292.2h0.9v0.9h-0.9zM264.6,297.4h0.9v0.9h-0.9zM295.8,319.0h0.9v0.9h-0.9zM277.5,324.2h0.9v0.9h-0.9zM262.3,272.5h0.9v0.9h-0.9zM270.8,304.3h0.9v0.9h-0.9zM233.7,297.9h0.9v0.9h-0.9zM260.3,314.1h0.9v0.9h-0.9zM252.4,287.9h0.9v0.9h-0.9zM260.4,283.8h0.9v0.9h-0.9zM249.0,310.2h0.9v0.9h-0.9zM230.4,303.5h0.9v0.9h-0.9zM233.3,295.4h0.9v0.9h-0.9zM259.7,296.1h0.9v0.9h-0.9zM262.4,298.7h0.9v0.9h-0.9zM247.2,305.5h0.9v0.9h-0.9zM246.8,299.4h0.9v0.9h-0.9zM264.2,287.1h0.9v0.9h-0.9zM265.7,277.8h0.9v0.9h-0.9zM247.0,266.9h0.9v0.9h-0.9zM242.8,324.6h0.9v0.9h-0.9zM254.9,319.0h0.9v0.9h-0.9zM230.0,279.5h0.9v0.9h-0.9zM256.4,311.4h0.9v0.9h-0.9zM261.4,268.0h0.9v0.9h-0.9zM257.0,295.8h0.9v0.9h-0.9zM251.6,305.3h0.9v0.9h-0.9zM246.2,267.6h0.9v0.9h-0.9zM235.5,271.9h0.9v0.9h-0.9zM232.1,294.7h0.9v0.9h-0.9zM267.8,284.6h0.9v0.9h-0.9zM239.6,277.1h0.9v0.9h-0.9zM226.5,298.2h0.9v0.9h-0.9zM243.4,292.8h0.9v0.9h-0.9zM236.9,305.5h0.9v0.9h-0.9zM233.6,306.5h0.9v0.9h-0.9zM241.0,310.7h0.9v0.9h-0.9zM237.9,304.7h0.9v0.9h-0.9zM256.0,295.6h0.9v0.9h-0.9zM272.3,300.1h0.9v0.9h-0.9zM237.9,309.0h0.9v0.9h-0.9zM238.8,287.6h0.9v0.9h-0.9zM250.2,300.2h0.9v0.9h-0.9zM273.2,266.7h0.9v0.9h-0.9zM246.5,316.6h0.9v0.9h-0.9zM247.8,302.6h0.9v0.9h-0.9zM270.8,275.6h0.9v0.9h-0.9zM250.6,310.8h0.9v0.9h-0.9zM242.0,266.6h0.9v0.9h-0.9zM236.4,300.4h0.9v0.9h-0.9zM252.6,329.0h0.9v0.9h-0.9zM268.1,270.1h0.9v0.9h-0.9zM264.1,312.9h0.9v0.9h-0.9zM272.1,294.4h0.9v0.9h-0.9zM242.4,299.6h0.9v0.9h-0.9zM271.1,307.8h0.9v0.9h-0.9zM273.1,310.7h0.9v0.9h-0.9zM242.0,279.4h0.9v0.9h-0.9zM275.3,270.7h0.9v0.9h-0.9zM245.2,291.5h0.9v0.9h-0.9zM237.6,287.1h0.9v0.9h-0.9zM249.1,287.9h0.9v0.9h-0.9zM251.7,313.3h0.9v0.9h-0.9zM238.9,289.9h0.9v0.9h-0.9zM226.2,309.2h0.9v0.9h-0.9zM259.3,323.1h0.9v0.9h-0.9zM261.9,292.2h0.9v0.9h-0.9zM244.7,291.6h0.9v0.9h-0.9zM233.5,310.4h0.9v0.9h-0.9zM241.7,284.4h0.9v0.9h-0.9zM257.0,299.0h0.9v0.9h-0.9zM242.0,292.9h0.9v0.9h-0.9zM243.3,320.4h0.9v0.9h-0.9zM263.7,284.3h0.9v0.9h-0.9zM249.5,320.9h0.9v0.9h-0.9zM246.1,328.0h0.9v0.9h-0.9zM256.1,308.7h0.9v0.9h-0.9zM254.6,307.1h0.9v0.9h-0.9zM256.6,306.2h0.9v0.9h-0.9zM243.1,312.7h0.9v0.9h-0.9zM250.9,278.7h0.9v0.9h-0.9zM236.1,299.8h0.9v0.9h-0.9zM229.1,292.7h0.9v0.9h-0.9zM241.8,306.7h0.9v0.9h-0.9zM269.2,325.1h0.9v0.9h-0.9zM236.2,318.5h0.9v0.9h-0.9zM233.4,302.4h0.9v0.9h-0.9zM252.3,307.8h0.9v0.9h-0.9zM239.1,320.3h0.9v0.9h-0.9zM249.1,296.7h0.9v0.9h-0.9zM246.4,278.4h0.9v0.9h-0.9zM259.9,302.9h0.9v0.9h-0.9zM256.2,329.5h0.9v0.9h-0.9zM238.2,292.0h0.9v0.9h-0.9zM250.1,311.9h0.9v0.9h-0.9zM247.6,313.3h0.9v0.9h-0.9zM256.2,266.3h0.9v0.9h-0.9zM246.1,289.7h0.9v0.9h-0.9zM258.1,300.0h0.9v0.9h-0.9zM249.1,319.0h0.9v0.9h-0.9zM258.1,275.5h0.9v0.9h-0.9zM240.6,302.7h0.9v0.9h-0.9zM273.3,293.5h0.9v0.9h-0.9zM247.7,301.6h0.9v0.9h-0.9zM260.7,295.4h0.9v0.9h-0.9zM254.0,289.6h0.9v0.9h-0.9zM242.5,283.1h0.9v0.9h-0.9zM259.0,287.3h0.9v0.9h-0.9zM257.5,304.1h0.9v0.9h-0.9zM236.8,275.7h0.9v0.9h-0.9zM247.8,311.1h0.9v0.9h-0.9zM284.6,324.0h0.9v0.9h-0.9zM268.6,303.7h0.9v0.9h-0.9zM244.7,306.4h0.9v0.9h-0.9zM250.1,307.8h0.9v0.9h-0.9zM235.9,277.9h0.9v0.9h-0.9zM241.2,296.2h0.9v0.9h-0.9zM254.8,290.8h0.9v0.9h-0.9zM254.8,308.9h0.9v0.9h-0.9zM234.1,295.2h0.9v0.9h-0.9zM228.7,287.4h0.9v0.9h-0.9zM262.4,284.5h0.9v0.9h-0.9zM275.5,305.8h0.9v0.9h-0.9zM262.2,298.8h0.9v0.9h-0.9zM261.8,316.1h0.9v0.9h-0.9zM251.5,287.7h0.9v0.9h-0.9zM242.5,330.8h0.9v0.9h-0.9zM247.5,289.0h0.9v0.9h-0.9zM240.3,267.5h0.9v0.9h-0.9zM243.2,302.7h0.9v0.9h-0.9zM243.4,283.7h0.9v0.9h-0.9zM255.6,305.0h0.9v0.9h-0.9zM244.0,302.4h0.9v0.9h-0.9zM236.7,312.1h0.9v0.9h-0.9zM236.5,291.1h0.9v0.9h-0.9zM251.9,289.7h0.9v0.9h-0.9zM234.3,333.7h0.9v0.9h-0.9zM270.7,266.5h0.9v0.9h-0.9zM251.7,274.8h0.9v0.9h-0.9zM254.3,274.2h0.9v0.9h-0.9zM257.9,306.3h0.9v0.9h-0.9zM273.4,318.1h0.9v0.9h-0.9zM243.7,313.6h0.9v0.9h-0.9zM243.7,295.0h0.9v0.9h-0.9zM243.2,266.2h0.9v0.9h-0.9zM246.8,306.2h0.9v0.9h-0.9zM251.6,269.4h0.9v0.9h-0.9zM241.1,308.9h0.9v0.9h-0.9zM265.0,325.0h0.9v0.9h-0.9zM243.4,310.4h0.9v0.9h-0.9zM226.9,294.5h0.9v0.9h-0.9zM259.7,285.7h0.9v0.9h-0.9zM245.0,279.8h0.9v0.9h-0.9zM265.2,273.7h0.9v0.9h-0.9zM237.5,291.2h0.9v0.9h-0.9zM253.8,282.4h0.9v0.9h-0.9zM257.9,303.0h0.9v0.9h-0.9zM253.9,295.9h0.9v0.9h-0.9zM256.3,276.5h0.9v0.9h-0.9zM233.6,289.5h0.9v0.9h-0.9zM234.9,309.3h0.9v0.9h-0.9zM276.6,318.7h0.9v0.9h-0.9zM256.1,302.9h0.9v0.9h-0.9zM240.6,274.2h0.9v0.9h-0.9zM257.5,271.1h0.9v0.9h-0.9zM254.1,294.5h0.9v0.9h-0.9zM260.3,297.9h0.9v0.9h-0.9zM251.5,286.8h0.9v0.9h-0.9zM226.4,291.0h0.9v0.9h-0.9zM259.5,315.3h0.9v0.9h-0.9zM268.9,279.6h0.9v0.9h-0.9zM237.2,309.3h0.9v0.9h-0.9zM254.3,270.4h0.9v0.9h-0.9zM242.4,324.5h0.9v0.9h-0.9zM231.0,325.1h0.9v0.9h-0.9zM243.9,278.9h0.9v0.9h-0.9zM226.6,284.5h0.9v0.9h-0.9zM279.8,298.7h0.9v0.9h-0.9zM246.4,276.7h0.9v0.9h-0.9zM254.7,288.7h0.9v0.9h-0.9zM238.4,321.3h0.9v0.9h-0.9zM256.0,281.4h0.9v0.9h-0.9zM270.2,296.0h0.9v0.9h-0.9zM256.9,299.6h0.9v0.9h-0.9zM266.1,307.8h0.9v0.9h-0.9zM245.2,309.6h0.9v0.9h-0.9zM244.7,299.3h0.9v0.9h-0.9zM272.5,278.4h0.9v0.9h-0.9zM235.8,290.0h0.9v0.9h-0.9zM243.2,319.8h0.9v0.9h-0.9zM271.7,289.1h0.9v0.9h-0.9zM252.5,290.7h0.9v0.9h-0.9zM259.2,308.6h0.9v0.9h-0.9zM260.3,310.4h0.9v0.9h-0.9zM276.5,294.0h0.9v0.9h-0.9zM259.6,293.7h0.9v0.9h-0.9zM250.5,300.9h0.9v0.9h-0.9zM249.3,303.1h0.9v0.9h-0.9zM238.3,294.3h0.9v0.9h-0.9zM241.7,276.5h0.9v0.9h-0.9zM240.3,288.3h0.9v0.9h-0.9zM248.0,269.6h0.9v0.9h-0.9zM246.5,277.2h0.9v0.9h-0.9zM238.8,300.3h0.9v0.9h-0.9zM265.2,302.0h0.9v0.9h-0.9zM243.3,289.3h0.9v0.9h-0.9zM268.3,268.5h0.9v0.9h-0.9zM265.6,270.6h0.9v0.9h-0.9zM241.3,297.8h0.9v0.9h-0.9zM247.0,326.2h0.9v0.9h-0.9zM256.8,296.2h0.9v0.9h-0.9zM263.1,297.7h0.9v0.9h-0.9zM239.0,316.7h0.9v0.9h-0.9zM270.5,319.5h0.9v0.9h-0.9zM233.9,330.5h0.9v0.9h-0.9zM244.3,310.5h0.9v0.9h-0.9zM227.9,279.1h0.9v0.9h-0.9zM266.2,305.7h0.9v0.9h-0.9zM256.0,293.7h0.9v0.9h-0.9zM249.9,301.1h0.9v0.9h-0.9zM260.3,292.3h0.9v0.9h-0.9zM237.7,290.7h0.9v0.9h-0.9zM277.1,284.9h0.9v0.9h-0.9zM248.9,330.4h0.9v0.9h-0.9zM264.4,299.2h0.9v0.9h-0.9zM260.1,292.3h0.9v0.9h-0.9zM237.6,314.6h0.9v0.9h-0.9zM251.8,325.2h0.9v0.9h-0.9zM246.4,290.4h0.9v0.9h-0.9zM254.7,293.7h0.9v0.9h-0.9zM245.7,281.3h0.9v0.9h-0.9zM253.5,302.7h0.9v0.9h-0.9zM275.1,296.5h0.9v0.9h-0.9zM225.9,305.2h0.9v0.9h-0.9zM281.4,289.2h0.9v0.9h-0.9zM239.0,294.1h0.9v0.9h-0.9zM247.4,270.4h0.9v0.9h-0.9zM257.9,281.6h0.9v0.9h-0.9zM258.7,330.8h0.9v0.9h-0.9zM267.2,300.4h0.9v0.9h-0.9zM243.0,292.4h0.9v0.9h-0.9zM263.3,287.9h0.9v0.9h-0.9zM255.7,314.0h0.9v0.9h-0.9zM237.6,286.6h0.9v0.9h-0.9zM256.2,297.1h0.9v0.9h-0.9zM248.3,287.7h0.9v0.9h-0.9zM249.1,329.7h0.9v0.9h-0.9zM268.7,268.6h0.9v0.9h-0.9zM250.7,298.6h0.9v0.9h-0.9zM250.5,272.7h0.9v0.9h-0.9zM248.2,299.6h0.9v0.9h-0.9zM240.6,302.5h0.9v0.9h-0.9zM251.4,303.9h0.9v0.9h-0.9zM247.7,288.9h0.9v0.9h-0.9zM252.5,316.1h0.9v0.9h-0.9zM262.3,295.6h0.9v0.9h-0.9zM243.6,315.7h0.9v0.9h-0.9zM257.4,312.6h0.9v0.9h-0.9zM246.2,281.8h0.9v0.9h-0.9zM252.6,286.0h0.9v0.9h-0.9zM265.8,312.1h0.9v0.9h-0.9zM268.3,315.3h0.9v0.9h-0.9zM243.5,281.8h0.9v0.9h-0.9zM263.3,314.9h0.9v0.9h-0.9zM250.8,276.7h0.9v0.9h-0.9zM229.0,301.7h0.9v0.9h-0.9zM238.6,285.0h0.9v0.9h-0.9zM256.1,315.5h0.9v0.9h-0.9zM267.9,296.3h0.9v0.9h-0.9zM245.3,308.3h0.9v0.9h-0.9zM234.4,275.5h0.9v0.9h-0.9zM250.3,324.6h0.9v0.9h-0.9zM264.0,296.9h0.9v0.9h-0.9zM263.9,289.8h0.9v0.9h-0.9zM233.8,267.5h0.9v0.9h-0.9zM253.7,312.9h0.9v0.9h-0.9zM255.1,296.3h0.9v0.9h-0.9zM244.5,316.2h0.9v0.9h-0.9zM249.4,271.6h0.9v0.9h-0.9zM268.8,285.6h0.9v0.9h-0.9zM255.4,297.1h0.9v0.9h-0.9zM264.5,301.4h0.9v0.9h-0.9zM266.9,300.7h0.9v0.9h-0.9zM243.7,288.0h0.9v0.9h-0.9zM258.9,282.4h0.9v0.9h-0.9zM262.8,292.8h0.9v0.9h-0.9zM237.2,281.6h0.9v0.9h-0.9zM248.0,328.2h0.9v0.9h-0.9zM260.6,297.3h0.9v0.9h-0.9zM237.6,330.6h0.9v0.9h-0.9zM246.2,297.0h0.9v0.9h-0.9zM244.2,320.5h0.9v0.9h-0.9zM252.4,288.9h0.9v0.9h-0.9zM252.5,279.4h0.9v0.9h-0.9zM235.5,294.2h0.9v0.9h-0.9zM277.3,277.4h0.9v0.9h-0.9zM248.1,269.2h0.9v0.9h-0.9zM252.4,300.7h0.9v0.9h-0.9zM260.2,273.5h0.9v0.9h-0.9zM241.7,285.6h0.9v0.9h-0.9zM247.3,296.3h0.9v0.9h-0.9zM243.0,311.1h0.9v0.9h-0.9zM285.3,317.5h0.9v0.9h-0.9zM271.1,278.1h0.9v0.9h-0.9zM264.5,297.5h0.9v0.9h-0.9zM267.2,315.7h0.9v0.9h-0.9zM259.0,267.4h0.9v0.9h-0.9zM251.8,288.2h0.9v0.9h-0.9zM256.2,297.7h0.9v0.9h-0.9zM264.4,268.7h0.9v0.9h-0.9zM239.8,295.7h0.9v0.9h-0.9zM254.4,289.9h0.9v0.9h-0.9zM249.6,298.0h0.9v0.9h-0.9zM264.4,295.0h0.9v0.9h-0.9zM253.3,264.9h0.9v0.9h-0.9zM255.6,295.3h0.9v0.9h-0.9zM250.0,284.1h0.9v0.9h-0.9zM244.2,311.7h0.9v0.9h-0.9zM254.9,296.5h0.9v0.9h-0.9zM243.3,300.7h0.9v0.9h-0.9zM266.4,296.7h0.9v0.9h-0.9zM244.9,276.2h0.9v0.9h-0.9zM251.4,280.8h0.9v0.9h-0.9zM230.2,312.4h0.9v0.9h-0.9zM240.1,329.6h0.9v0.9h-0.9zM248.5,273.6h0.9v0.9h-0.9zM234.8,309.7h0.9v0.9h-0.9zM255.6,300.8h0.9v0.9h-0.9z" fill="#3060d8" opacity="0.45"/>
<path d="M246.9,309.5h0.9v0.9h-0.9zM274.2,309.6h0.9v0.9h-0.9zM247.4,272.5h0.9v0.9h-0.9zM257.0,330.8h0.9v0.9h-0.9zM260.2,275.3h0.9v0.9h-0.9zM252.9,325.5h0.9v0.9h-0.9zM240.0,309.7h0.9v0.9h-0.9zM269.0,332.2h0.9v0.9h-0.9zM255.9,313.8h0.9v0.9h-0.9zM244.4,299.6h0.9v0.9h-0.9zM243.6,323.6h0.9v0.9h-0.9zM229.8,286.7h0.9v0.9h-0.9zM225.9,282.1h0.9v0.9h-0.9zM249.6,300.5h0.9v0.9h-0.9zM278.2,295.7h0.9v0.9h-0.9zM255.5,307.0h0.9v0.9h-0.9zM254.1,328.9h0.9v0.9h-0.9zM252.2,302.9h0.9v0.9h-0.9zM248.2,300.1h0.9v0.9h-0.9zM249.1,319.6h0.9v0.9h-0.9zM250.3,301.4h0.9v0.9h-0.9zM249.3,314.9h0.9v0.9h-0.9zM242.6,318.5h0.9v0.9h-0.9zM241.0,313.6h0.9v0.9h-0.9zM280.3,304.6h0.9v0.9h-0.9zM248.6,276.8h0.9v0.9h-0.9zM261.7,300.3h0.9v0.9h-0.9zM264.3,287.1h0.9v0.9h-0.9zM256.3,293.6h0.9v0.9h-0.9zM229.5,299.8h0.9v0.9h-0.9zM260.4,311.8h0.9v0.9h-0.9zM232.4,279.8h0.9v0.9h-0.9zM234.6,279.9h0.9v0.9h-0.9zM245.6,305.2h0.9v0.9h-0.9zM280.3,303.9h0.9v0.9h-0.9zM272.9,267.4h0.9v0.9h-0.9zM274.3,315.7h0.9v0.9h-0.9zM257.0,316.3h0.9v0.9h-0.9zM262.7,265.7h0.9v0.9h-0.9zM248.7,326.1h0.9v0.9h-0.9zM244.6,287.1h0.9v0.9h-0.9zM244.6,306.2h0.9v0.9h-0.9zM253.0,287.8h0.9v0.9h-0.9zM258.5,312.2h0.9v0.9h-0.9zM235.5,278.0h0.9v0.9h-0.9zM250.2,286.3h0.9v0.9h-0.9zM240.5,297.4h0.9v0.9h-0.9zM250.5,311.3h0.9v0.9h-0.9zM263.2,308.6h0.9v0.9h-0.9zM267.7,280.9h0.9v0.9h-0.9zM259.6,307.4h0.9v0.9h-0.9zM233.5,286.6h0.9v0.9h-0.9zM257.0,301.5h0.9v0.9h-0.9zM230.1,289.1h0.9v0.9h-0.9zM274.1,316.7h0.9v0.9h-0.9zM251.3,326.6h0.9v0.9h-0.9zM235.7,296.6h0.9v0.9h-0.9zM265.2,293.4h0.9v0.9h-0.9zM232.3,311.6h0.9v0.9h-0.9zM252.4,275.3h0.9v0.9h-0.9zM245.3,272.1h0.9v0.9h-0.9zM291.1,286.6h0.9v0.9h-0.9zM250.7,286.1h0.9v0.9h-0.9zM234.4,291.0h0.9v0.9h-0.9zM254.5,330.9h0.9v0.9h-0.9zM233.2,301.4h0.9v0.9h-0.9zM243.1,269.1h0.9v0.9h-0.9zM253.9,285.1h0.9v0.9h-0.9zM240.9,279.6h0.9v0.9h-0.9zM266.2,292.0h0.9v0.9h-0.9zM247.7,303.6h0.9v0.9h-0.9zM230.6,304.6h0.9v0.9h-0.9zM247.3,308.8h0.9v0.9h-0.9zM243.9,300.8h0.9v0.9h-0.9zM258.2,319.1h0.9v0.9h-0.9zM239.1,319.2h0.9v0.9h-0.9zM234.4,296.3h0.9v0.9h-0.9zM252.1,302.9h0.9v0.9h-0.9zM247.1,318.3h0.9v0.9h-0.9zM238.9,329.9h0.9v0.9h-0.9zM258.5,300.3h0.9v0.9h-0.9zM254.2,318.5h0.9v0.9h-0.9zM237.3,311.7h0.9v0.9h-0.9zM266.8,295.4h0.9v0.9h-0.9zM236.5,279.1h0.9v0.9h-0.9zM256.8,284.1h0.9v0.9h-0.9zM289.2,311.3h0.9v0.9h-0.9zM229.4,294.3h0.9v0.9h-0.9zM274.2,313.4h0.9v0.9h-0.9zM233.9,320.5h0.9v0.9h-0.9zM241.3,311.8h0.9v0.9h-0.9zM258.9,291.2h0.9v0.9h-0.9zM247.6,322.9h0.9v0.9h-0.9zM257.9,298.8h0.9v0.9h-0.9zM264.7,309.4h0.9v0.9h-0.9zM255.2,269.1h0.9v0.9h-0.9zM252.1,290.4h0.9v0.9h-0.9zM261.6,288.0h0.9v0.9h-0.9zM257.1,279.2h0.9v0.9h-0.9zM264.2,285.6h0.9v0.9h-0.9zM249.6,311.4h0.9v0.9h-0.9zM244.9,300.1h0.9v0.9h-0.9zM260.7,318.6h0.9v0.9h-0.9zM242.5,301.9h0.9v0.9h-0.9zM246.8,276.5h0.9v0.9h-0.9zM270.6,292.3h0.9v0.9h-0.9zM280.8,312.6h0.9v0.9h-0.9zM256.1,312.7h0.9v0.9h-0.9zM262.5,318.2h0.9v0.9h-0.9zM234.6,289.0h0.9v0.9h-0.9zM241.3,302.1h0.9v0.9h-0.9zM246.0,275.7h0.9v0.9h-0.9zM283.6,283.1h0.9v0.9h-0.9zM256.0,299.3h0.9v0.9h-0.9zM236.6,314.1h0.9v0.9h-0.9zM248.9,333.0h0.9v0.9h-0.9zM257.2,293.9h0.9v0.9h-0.9zM263.4,285.9h0.9v0.9h-0.9zM264.0,313.5h0.9v0.9h-0.9zM255.1,314.9h0.9v0.9h-0.9zM252.4,299.7h0.9v0.9h-0.9zM244.5,294.3h0.9v0.9h-0.9zM250.1,279.0h0.9v0.9h-0.9zM260.1,293.6h0.9v0.9h-0.9zM258.3,290.0h0.9v0.9h-0.9zM256.5,302.5h0.9v0.9h-0.9zM264.1,309.1h0.9v0.9h-0.9zM264.7,296.7h0.9v0.9h-0.9zM249.1,294.8h0.9v0.9h-0.9zM230.2,297.5h0.9v0.9h-0.9zM267.2,315.2h0.9v0.9h-0.9zM236.6,305.9h0.9v0.9h-0.9zM261.9,273.2h0.9v0.9h-0.9zM255.5,306.5h0.9v0.9h-0.9zM261.8,305.1h0.9v0.9h-0.9zM281.4,292.2h0.9v0.9h-0.9zM270.1,325.0h0.9v0.9h-0.9zM251.4,277.4h0.9v0.9h-0.9zM271.6,299.3h0.9v0.9h-0.9zM258.2,309.4h0.9v0.9h-0.9zM265.1,320.0h0.9v0.9h-0.9zM227.5,272.2h0.9v0.9h-0.9zM252.2,300.2h0.9v0.9h-0.9zM262.3,297.3h0.9v0.9h-0.9zM271.7,322.9h0.9v0.9h-0.9zM266.4,284.5h0.9v0.9h-0.9zM248.6,298.6h0.9v0.9h-0.9zM232.7,282.9h0.9v0.9h-0.9zM252.5,276.1h0.9v0.9h-0.9zM258.6,309.3h0.9v0.9h-0.9zM246.3,293.3h0.9v0.9h-0.9zM259.5,309.5h0.9v0.9h-0.9zM255.8,275.9h0.9v0.9h-0.9zM239.7,292.8h0.9v0.9h-0.9zM238.4,315.7h0.9v0.9h-0.9zM243.5,290.3h0.9v0.9h-0.9zM237.7,291.3h0.9v0.9h-0.9zM268.9,303.0h0.9v0.9h-0.9zM241.5,324.9h0.9v0.9h-0.9zM257.7,279.7h0.9v0.9h-0.9zM240.9,288.0h0.9v0.9h-0.9zM249.3,323.9h0.9v0.9h-0.9zM238.9,297.1h0.9v0.9h-0.9zM251.8,276.6h0.9v0.9h-0.9zM242.5,312.1h0.9v0.9h-0.9zM261.2,294.3h0.9v0.9h-0.9zM270.4,312.2h0.9v0.9h-0.9zM281.1,306.1h0.9v0.9h-0.9zM243.7,283.6h0.9v0.9h-0.9zM227.4,310.9h0.9v0.9h-0.9zM258.2,316.1h0.9v0.9h-0.9zM255.5,270.6h0.9v0.9h-0.9zM243.6,295.2h0.9v0.9h-0.9zM252.5,315.1h0.9v0.9h-0.9zM272.4,305.6h0.9v0.9h-0.9zM231.1,304.7h0.9v0.9h-0.9zM246.5,321.9h0.9v0.9h-0.9zM267.1,291.1h0.9v0.9h-0.9zM264.9,300.3h0.9v0.9h-0.9zM257.2,326.5h0.9v0.9h-0.9zM231.8,298.7h0.9v0.9h-0.9zM274.3,285.0h0.9v0.9h-0.9zM253.4,302.6h0.9v0.9h-0.9zM243.4,274.3h0.9v0.9h-0.9zM239.2,280.7h0.9v0.9h-0.9zM267.1,304.9h0.9v0.9h-0.9zM261.1,276.7h0.9v0.9h-0.9zM257.9,302.8h0.9v0.9h-0.9zM266.6,285.9h0.9v0.9h-0.9zM262.8,326.9h0.9v0.9h-0.9zM278.5,281.8h0.9v0.9h-0.9zM232.3,271.3h0.9v0.9h-0.9zM265.2,311.7h0.9v0.9h-0.9zM255.4,283.0h0.9v0.9h-0.9zM269.8,331.5h0.9v0.9h-0.9zM249.4,297.7h0.9v0.9h-0.9zM268.8,309.9h0.9v0.9h-0.9zM271.3,292.1h0.9v0.9h-0.9zM255.4,293.4h0.9v0.9h-0.9zM241.0,294.2h0.9v0.9h-0.9zM245.5,309.9h0.9v0.9h-0.9zM245.2,301.4h0.9v0.9h-0.9zM237.2,276.0h0.9v0.9h-0.9zM272.6,280.7h0.9v0.9h-0.9zM278.7,318.4h0.9v0.9h-0.9zM243.4,300.4h0.9v0.9h-0.9zM247.2,288.2h0.9v0.9h-0.9zM269.8,297.5h0.9v0.9h-0.9zM265.2,286.6h0.9v0.9h-0.9zM239.1,326.1h0.9v0.9h-0.9zM245.6,278.5h0.9v0.9h-0.9zM247.3,320.6h0.9v0.9h-0.9zM247.5,285.9h0.9v0.9h-0.9zM260.1,319.3h0.9v0.9h-0.9zM246.8,293.8h0.9v0.9h-0.9zM247.7,308.0h0.9v0.9h-0.9zM250.9,293.8h0.9v0.9h-0.9zM243.6,273.3h0.9v0.9h-0.9zM226.5,303.3h0.9v0.9h-0.9zM239.9,298.3h0.9v0.9h-0.9zM247.2,290.1h0.9v0.9h-0.9zM232.6,290.1h0.9v0.9h-0.9zM245.4,277.4h0.9v0.9h-0.9zM234.9,316.9h0.9v0.9h-0.9zM264.7,302.6h0.9v0.9h-0.9zM269.5,284.1h0.9v0.9h-0.9zM267.1,333.0h0.9v0.9h-0.9zM237.3,277.8h0.9v0.9h-0.9zM249.3,284.2h0.9v0.9h-0.9zM260.1,278.4h0.9v0.9h-0.9zM249.5,320.6h0.9v0.9h-0.9zM245.9,306.1h0.9v0.9h-0.9zM267.3,278.6h0.9v0.9h-0.9zM230.0,301.6h0.9v0.9h-0.9zM254.4,294.8h0.9v0.9h-0.9zM234.7,323.7h0.9v0.9h-0.9zM231.7,294.9h0.9v0.9h-0.9zM249.4,314.2h0.9v0.9h-0.9zM243.0,284.0h0.9v0.9h-0.9zM281.9,283.5h0.9v0.9h-0.9zM262.7,297.0h0.9v0.9h-0.9zM242.5,299.1h0.9v0.9h-0.9zM246.0,306.1h0.9v0.9h-0.9zM251.2,281.0h0.9v0.9h-0.9zM279.2,312.5h0.9v0.9h-0.9zM253.7,294.1h0.9v0.9h-0.9zM272.0,291.3h0.9v0.9h-0.9zM237.1,313.5h0.9v0.9h-0.9zM234.8,284.6h0.9v0.9h-0.9zM272.9,268.6h0.9v0.9h-0.9zM249.0,302.3h0.9v0.9h-0.9zM254.1,271.6h0.9v0.9h-0.9zM246.5,293.5h0.9v0.9h-0.9zM280.4,319.6h0.9v0.9h-0.9zM238.1,317.1h0.9v0.9h-0.9zM260.4,297.8h0.9v0.9h-0.9zM246.2,294.6h0.9v0.9h-0.9zM264.8,328.2h0.9v0.9h-0.9zM279.3,292.7h0.9v0.9h-0.9zM245.8,275.4h0.9v0.9h-0.9zM263.1,267.6h0.9v0.9h-0.9zM233.6,278.4h0.9v0.9h-0.9zM256.3,316.4h0.9v0.9h-0.9zM252.6,283.7h0.9v0.9h-0.9zM255.6,299.7h0.9v0.9h-0.9zM263.2,306.7h0.9v0.9h-0.9zM284.6,322.8h0.9v0.9h-0.9zM240.0,315.4h0.9v0.9h-0.9zM262.1,280.5h0.9v0.9h-0.9zM238.2,284.3h0.9v0.9h-0.9zM246.7,324.1h0.9v0.9h-0.9zM241.3,301.5h0.9v0.9h-0.9zM261.5,318.9h0.9v0.9h-0.9zM255.1,279.7h0.9v0.9h-0.9zM284.9,317.0h0.9v0.9h-0.9zM271.6,331.6h0.9v0.9h-0.9zM272.2,308.1h0.9v0.9h-0.9zM257.6,312.3h0.9v0.9h-0.9zM226.3,315.9h0.9v0.9h-0.9zM234.7,308.2h0.9v0.9h-0.9zM234.1,314.0h0.9v0.9h-0.9zM253.1,309.9h0.9v0.9h-0.9zM235.8,294.4h0.9v0.9h-0.9zM249.2,294.4h0.9v0.9h-0.9zM243.2,282.9h0.9v0.9h-0.9zM262.1,292.5h0.9v0.9h-0.9zM237.2,307.1h0.9v0.9h-0.9zM237.3,296.6h0.9v0.9h-0.9zM242.0,282.0h0.9v0.9h-0.9zM246.5,284.0h0.9v0.9h-0.9zM230.3,306.9h0.9v0.9h-0.9zM245.4,271.5h0.9v0.9h-0.9zM243.9,303.7h0.9v0.9h-0.9zM256.9,307.3h0.9v0.9h-0.9zM254.1,311.6h0.9v0.9h-0.9zM242.3,284.5h0.9v0.9h-0.9zM259.8,292.0h0.9v0.9h-0.9zM250.3,312.7h0.9v0.9h-0.9zM264.9,323.9h0.9v0.9h-0.9zM239.3,292.8h0.9v0.9h-0.9zM258.9,272.1h0.9v0.9h-0.9zM230.3,311.9h0.9v0.9h-0.9zM240.4,282.0h0.9v0.9h-0.9zM262.8,310.4h0.9v0.9h-0.9zM264.6,293.6h0.9v0.9h-0.9z" fill="#ffffff" opacity="0.35"/>
<g filter="url(#b1)" transform="rotate(0 239 288)"><ellipse cx="239" cy="288" rx="3.60" ry="19.00" fill="#30c0d0" opacity="0.8"/><ellipse cx="239" cy="288" rx="1.80" ry="9.50" fill="#50d090" opacity="0.85"/></g>
<g filter="url(#b05)" transform="rotate(0 239 314)"><ellipse cx="239" cy="314" rx="7.00" ry="7.00" fill="#3f7fd6" opacity="0.9"/><ellipse cx="239" cy="314" rx="5.60" ry="5.60" fill="#3fb4d8" opacity="0.9"/><ellipse cx="239" cy="314" rx="4.34" ry="4.34" fill="#4cc060" opacity="1"/><ellipse cx="239" cy="314" rx="3.15" ry="3.15" fill="#f0e020" opacity="1"/><ellipse cx="239" cy="314" rx="2.24" ry="2.24" fill="#f08020" opacity="1"/><ellipse cx="239" cy="314" rx="1.54" ry="1.54" fill="#e02020" opacity="1"/></g>
<g filter="url(#b05)" transform="rotate(0 257 286.5)"><ellipse cx="257" cy="286.5" rx="12.00" ry="10.00" fill="#2f8fd8" opacity="0.9"/><ellipse cx="257" cy="286.5" rx="10.56" ry="8.80" fill="#30b8c0" opacity="1"/><ellipse cx="257" cy="286.5" rx="8.88" ry="7.40" fill="#40c070" opacity="1"/><ellipse cx="257" cy="286.5" rx="6.24" ry="5.20" fill="#90d840" opacity="1"/><ellipse cx="257" cy="286.5" rx="4.08" ry="3.40" fill="#f0e020" opacity="1"/><ellipse cx="257" cy="286.5" rx="1.44" ry="1.20" fill="#f0a020" opacity="1"/></g>
<path d="M228.4,266.5 Q228.4,264.8 230.4,264.8 L242.6,264.8 Q244.6,264.8 244.6,266.8 L244.6,296 Q244.6,298 242.6,298 L230.4,298.2 Q228.4,298.2 228.4,296 Z" fill="none" stroke="#555" stroke-width="0.8"/>
<polygon points="248,277.5 262,276.5 266.5,279 266.5,293 263,295.4 249,295.4 246,291" fill="none" stroke="#444" stroke-width="0.8"/>
<polygon points="268.7,276.1 279.2,273.2 286.4,276.1 288.8,284.2 284.8,294.6 275.2,296.2 268.7,291.4" fill="none" stroke="#7a7a7a" stroke-width="0.8"/>
<polygon points="259.9,301.9 270.3,300 276,303.5 279.2,309.9 278.4,323.6 268.7,326 258.2,322 257.4,308.3" fill="none" stroke="#7a7a7a" stroke-width="0.8"/>
<text x="229.2" y="271" font-size="6" text-anchor="start" fill="#111" textLength="10.5" lengthAdjust="spacingAndGlyphs" >24.3</text>
<text x="253.9" y="273.4" font-size="6" text-anchor="start" fill="#111" textLength="11.6" lengthAdjust="spacingAndGlyphs" >33.4</text>
<text x="282.9" y="271" font-size="6" text-anchor="start" fill="#111" textLength="11.6" lengthAdjust="spacingAndGlyphs" >1.83</text>
<text x="280.8" y="319.8" font-size="6" text-anchor="start" fill="#111" textLength="12.1" lengthAdjust="spacingAndGlyphs" >4.60</text>
<rect x="224.8" y="263.2" width="72.09999999999997" height="71.69999999999999" fill="none" stroke="#111" stroke-width="1.2"/>
<line x1="222.8" y1="267" x2="224.8" y2="267" stroke="#222" stroke-width="0.8" />
<line x1="222.8" y1="272" x2="224.8" y2="272" stroke="#222" stroke-width="0.8" />
<line x1="222.8" y1="275" x2="224.8" y2="275" stroke="#222" stroke-width="0.8" />
<line x1="222.8" y1="278" x2="224.8" y2="278" stroke="#222" stroke-width="0.8" />
<line x1="222.8" y1="281" x2="224.8" y2="281" stroke="#222" stroke-width="0.8" />
<line x1="222.8" y1="285" x2="224.8" y2="285" stroke="#222" stroke-width="0.8" />
<line x1="222.8" y1="290" x2="224.8" y2="290" stroke="#222" stroke-width="0.8" />
<line x1="222.8" y1="293" x2="224.8" y2="293" stroke="#222" stroke-width="0.8" />
<line x1="222.8" y1="296" x2="224.8" y2="296" stroke="#222" stroke-width="0.8" />
<line x1="222.8" y1="299" x2="224.8" y2="299" stroke="#222" stroke-width="0.8" />
<line x1="222.8" y1="303" x2="224.8" y2="303" stroke="#222" stroke-width="0.8" />
<line x1="222.8" y1="308" x2="224.8" y2="308" stroke="#222" stroke-width="0.8" />
<line x1="222.8" y1="312" x2="224.8" y2="312" stroke="#222" stroke-width="0.8" />
<line x1="222.8" y1="316" x2="224.8" y2="316" stroke="#222" stroke-width="0.8" />
<line x1="222.8" y1="320" x2="224.8" y2="320" stroke="#222" stroke-width="0.8" />
<line x1="222.8" y1="324" x2="224.8" y2="324" stroke="#222" stroke-width="0.8" />
<line x1="222.8" y1="328" x2="224.8" y2="328" stroke="#222" stroke-width="0.8" />
<line x1="222.8" y1="331" x2="224.8" y2="331" stroke="#222" stroke-width="0.8" />
<line x1="228" y1="334.9" x2="228" y2="336.9" stroke="#222" stroke-width="0.8" />
<line x1="232" y1="334.9" x2="232" y2="336.9" stroke="#222" stroke-width="0.8" />
<line x1="236" y1="334.9" x2="236" y2="336.9" stroke="#222" stroke-width="0.8" />
<line x1="244" y1="334.9" x2="244" y2="336.9" stroke="#222" stroke-width="0.8" />
<line x1="248" y1="334.9" x2="248" y2="336.9" stroke="#222" stroke-width="0.8" />
<line x1="252" y1="334.9" x2="252" y2="336.9" stroke="#222" stroke-width="0.8" />
<line x1="256" y1="334.9" x2="256" y2="336.9" stroke="#222" stroke-width="0.8" />
<line x1="263" y1="334.9" x2="263" y2="336.9" stroke="#222" stroke-width="0.8" />
<line x1="267" y1="334.9" x2="267" y2="336.9" stroke="#222" stroke-width="0.8" />
<line x1="271" y1="334.9" x2="271" y2="336.9" stroke="#222" stroke-width="0.8" />
<line x1="275" y1="334.9" x2="275" y2="336.9" stroke="#222" stroke-width="0.8" />
<line x1="281" y1="334.9" x2="281" y2="336.9" stroke="#222" stroke-width="0.8" />
<line x1="285" y1="334.9" x2="285" y2="336.9" stroke="#222" stroke-width="0.8" />
<line x1="289" y1="334.9" x2="289" y2="336.9" stroke="#222" stroke-width="0.8" />
<line x1="293" y1="334.9" x2="293" y2="336.9" stroke="#222" stroke-width="0.8" />
<text x="219.8" y="272" font-size="6.2" text-anchor="end" fill="#111">10<tspan font-size="3.72" dy="-2.4">5</tspan></text>
<text x="219.8" y="288.9" font-size="6.2" text-anchor="end" fill="#111">10<tspan font-size="3.72" dy="-2.4">4</tspan></text>
<text x="219.8" y="309.1" font-size="6.2" text-anchor="end" fill="#111">10<tspan font-size="3.72" dy="-2.4">3</tspan></text>
<text x="216.8" y="320.3" font-size="6.2" text-anchor="end" fill="#111" >0</text>
<text x="219.8" y="332.2" font-size="6.2" text-anchor="end" fill="#111">−10<tspan font-size="3.72" dy="-2.4">3</tspan></text>
<text x="238.4" y="343.5" font-size="6.2" text-anchor="middle" fill="#111" >0</text>
<text x="259.5" y="343.5" font-size="6.2" text-anchor="middle" fill="#111">10<tspan font-size="3.72" dy="-2.4">3</tspan></text>
<text x="274.6" y="343.5" font-size="6.2" text-anchor="middle" fill="#111">10<tspan font-size="3.72" dy="-2.4">4</tspan></text>
<text x="290.5" y="343.5" font-size="6.2" text-anchor="middle" fill="#111">10<tspan font-size="3.72" dy="-2.4">5</tspan></text>
<text x="357.2" y="255.6" font-size="8.3" fill="#111" textLength="50.5" lengthAdjust="spacingAndGlyphs">Ly6G<tspan font-size="4.8" dy="-3">+</tspan><tspan dy="3">Ly6C</tspan><tspan font-size="4.8" dy="-3">+</tspan></text>
<line x1="350.3" y1="267.0" x2="350.3" y2="335" stroke="#222" stroke-width="1" />
<line x1="347.3" y1="270.4" x2="350.3" y2="270.4" stroke="#222" stroke-width="0.9" />
<text x="344.3" y="272.79999999999995" font-size="7.4" text-anchor="end" fill="#111" >50</text>
<line x1="347.3" y1="283.3" x2="350.3" y2="283.3" stroke="#222" stroke-width="0.9" />
<text x="344.3" y="285.7" font-size="7.4" text-anchor="end" fill="#111" >40</text>
<line x1="347.3" y1="296.2" x2="350.3" y2="296.2" stroke="#222" stroke-width="0.9" />
<text x="344.3" y="298.59999999999997" font-size="7.4" text-anchor="end" fill="#111" >30</text>
<line x1="347.3" y1="309.1" x2="350.3" y2="309.1" stroke="#222" stroke-width="0.9" />
<text x="344.3" y="311.5" font-size="7.4" text-anchor="end" fill="#111" >20</text>
<line x1="347.3" y1="322.1" x2="350.3" y2="322.1" stroke="#222" stroke-width="0.9" />
<text x="344.3" y="324.5" font-size="7.4" text-anchor="end" fill="#111" >10</text>
<line x1="347.3" y1="335" x2="350.3" y2="335" stroke="#222" stroke-width="0.9" />
<text x="344.3" y="337.4" font-size="7.4" text-anchor="end" fill="#111" >0</text>
<line x1="349.8" y1="335" x2="415" y2="335" stroke="#222" stroke-width="1" />
<line x1="364.8" y1="335" x2="364.8" y2="337.5" stroke="#222" stroke-width="0.9" />
<line x1="401.5" y1="335" x2="401.5" y2="337.5" stroke="#222" stroke-width="0.9" />
<text x="330" y="300" font-size="7.8" text-anchor="middle" fill="#111" font-weight="bold" textLength="24.3" lengthAdjust="spacingAndGlyphs" transform="rotate(-90 330 300)" style="stroke-width:0.45px">% in BM</text>
<line x1="364.7" y1="267.4" x2="401.5" y2="267.4" stroke="#222" stroke-width="0.9" />
<line x1="364.7" y1="267.4" x2="364.7" y2="322.6" stroke="#222" stroke-width="0.9" />
<line x1="401.5" y1="267.4" x2="401.5" y2="274.1" stroke="#222" stroke-width="0.9" />
<text x="383.3" y="266.3" font-size="7" text-anchor="middle" fill="#111" >****</text>
<circle cx="364.8" cy="328" r="1.6" fill="#c80c42"/>
<circle cx="360.5" cy="330.5" r="1.6" fill="#c80c42"/>
<circle cx="363" cy="331.5" r="1.6" fill="#c80c42"/>
<circle cx="366" cy="330.5" r="1.6" fill="#c80c42"/>
<circle cx="369" cy="331.5" r="1.6" fill="#c80c42"/>
<circle cx="371.5" cy="331" r="1.6" fill="#c80c42"/>
<circle cx="358.5" cy="332.5" r="1.6" fill="#c80c42"/>
<circle cx="361.5" cy="333.5" r="1.6" fill="#c80c42"/>
<circle cx="365" cy="333.5" r="1.6" fill="#c80c42"/>
<circle cx="368" cy="333.5" r="1.6" fill="#c80c42"/>
<circle cx="364.8" cy="332" r="1.6" fill="#c80c42"/>
<circle cx="401.5" cy="277.6" r="1.6" fill="#155a7c"/>
<circle cx="398.8" cy="287.5" r="1.6" fill="#155a7c"/>
<circle cx="404.6" cy="288" r="1.6" fill="#155a7c"/>
<circle cx="401.5" cy="292" r="1.6" fill="#155a7c"/>
<circle cx="401.5" cy="301.6" r="1.6" fill="#155a7c"/>
<circle cx="401.5" cy="307.8" r="1.6" fill="#155a7c"/>
<circle cx="401.5" cy="324.3" r="1.6" fill="#155a7c"/>
<circle cx="401.5" cy="327.8" r="1.6" fill="#155a7c"/>
<line x1="378.6" y1="296.2" x2="410" y2="296.2" stroke="#222" stroke-width="1" />
<text x="356.5" y="349.8" font-size="7.6" text-anchor="start" fill="#111" textLength="16.4" lengthAdjust="spacingAndGlyphs" >BMF</text>
<text x="386.3" y="349.8" font-size="7.6" text-anchor="start" fill="#111" textLength="29.9" lengthAdjust="spacingAndGlyphs" >Ly6G Ab</text>
<text x="197.6" y="480" font-size="8" text-anchor="start" fill="#111" font-weight="bold" textLength="19.3" lengthAdjust="spacingAndGlyphs" style="stroke-width:0.45px">CD11b</text>
<line x1="112.7" y1="469.7" x2="112.7" y2="383.3" stroke="#111" stroke-width="1" marker-end="url(#ahk)"/>
<line x1="112.7" y1="469.7" x2="297.5" y2="469.7" stroke="#111" stroke-width="1" marker-end="url(#ahk)"/>
<text x="110.2" y="421.9" font-size="7.6" text-anchor="middle" fill="#111" font-weight="bold" textLength="16.5" lengthAdjust="spacingAndGlyphs" transform="rotate(-90 110.2 421.9)" style="stroke-width:0.45px">Count</text>
<path d="M130.48,453.19 C131.72,453.19 135.85,453.28 137.92,453.19 C139.98,453.11 141.50,453.11 142.87,452.70 C144.25,452.29 145.08,451.18 146.18,450.72 C147.28,450.25 148.38,450.11 149.48,449.89 C150.59,449.67 151.69,449.53 152.79,449.39 C153.89,449.26 155.13,449.39 156.09,449.06 C157.06,448.73 157.88,448.24 158.57,447.41 C159.26,446.58 159.68,445.34 160.23,444.10 C160.78,442.87 161.41,441.35 161.88,439.97 C162.35,438.60 162.57,436.25 163.04,435.84 C163.50,435.43 164.05,436.25 164.69,437.49 C165.32,438.73 166.20,442.04 166.84,443.28 C167.47,444.52 167.94,445.21 168.49,444.93 C169.04,444.66 169.59,443.97 170.14,441.63 C170.69,439.28 171.33,434.33 171.79,430.88 C172.26,427.44 172.54,423.72 172.95,420.97 C173.36,418.21 173.92,415.18 174.27,414.36 C174.63,413.53 174.82,416.42 175.10,416.01 C175.38,415.60 175.65,412.71 175.93,411.88 C176.20,411.05 176.48,410.09 176.75,411.05 C177.03,412.02 177.17,414.08 177.58,417.66 C177.99,421.24 178.74,427.85 179.23,432.54 C179.73,437.22 180.14,442.73 180.55,445.76 C180.97,448.79 181.32,449.48 181.71,450.72 C182.10,451.95 179.48,452.78 182.87,453.19 C186.25,453.61 198.84,453.19 202.04,453.19 L202.04,453.7 L130.48,453.7 Z" fill="#f6c9d3" stroke="none"/>
<path d="M130.48,453.19 C131.72,453.19 135.85,453.28 137.92,453.19 C139.98,453.11 141.50,453.11 142.87,452.70 C144.25,452.29 145.08,451.18 146.18,450.72 C147.28,450.25 148.38,450.11 149.48,449.89 C150.59,449.67 151.69,449.53 152.79,449.39 C153.89,449.26 155.13,449.39 156.09,449.06 C157.06,448.73 157.88,448.24 158.57,447.41 C159.26,446.58 159.68,445.34 160.23,444.10 C160.78,442.87 161.41,441.35 161.88,439.97 C162.35,438.60 162.57,436.25 163.04,435.84 C163.50,435.43 164.05,436.25 164.69,437.49 C165.32,438.73 166.20,442.04 166.84,443.28 C167.47,444.52 167.94,445.21 168.49,444.93 C169.04,444.66 169.59,443.97 170.14,441.63 C170.69,439.28 171.33,434.33 171.79,430.88 C172.26,427.44 172.54,423.72 172.95,420.97 C173.36,418.21 173.92,415.18 174.27,414.36 C174.63,413.53 174.82,416.42 175.10,416.01 C175.38,415.60 175.65,412.71 175.93,411.88 C176.20,411.05 176.48,410.09 176.75,411.05 C177.03,412.02 177.17,414.08 177.58,417.66 C177.99,421.24 178.74,427.85 179.23,432.54 C179.73,437.22 180.14,442.73 180.55,445.76 C180.97,448.79 181.32,449.48 181.71,450.72 C182.10,451.95 179.48,452.78 182.87,453.19 C186.25,453.61 198.84,453.19 202.04,453.19" fill="none" stroke="#d8275a" stroke-width="1.5" stroke-linejoin="round"/>
<line x1="162.7" y1="417.7" x2="187.2" y2="417.7" stroke="#333" stroke-width="1" />
<line x1="162.7" y1="416.2" x2="162.7" y2="419.2" stroke="#333" stroke-width="0.8" />
<line x1="187.2" y1="416.2" x2="187.2" y2="419.2" stroke="#333" stroke-width="0.8" />
<text x="149.7" y="400.7" font-size="7.6" text-anchor="start" fill="#111" textLength="16" lengthAdjust="spacingAndGlyphs" >77.1</text>
<rect x="130.5" y="382.6" width="71.5" height="71.09999999999997" fill="none" stroke="#111" stroke-width="1.2"/>
<line x1="128.5" y1="389" x2="130.5" y2="389" stroke="#222" stroke-width="0.8" />
<line x1="128.5" y1="393" x2="130.5" y2="393" stroke="#222" stroke-width="0.8" />
<line x1="128.5" y1="397" x2="130.5" y2="397" stroke="#222" stroke-width="0.8" />
<line x1="128.5" y1="401" x2="130.5" y2="401" stroke="#222" stroke-width="0.8" />
<line x1="128.5" y1="405" x2="130.5" y2="405" stroke="#222" stroke-width="0.8" />
<line x1="128.5" y1="409" x2="130.5" y2="409" stroke="#222" stroke-width="0.8" />
<line x1="128.5" y1="414" x2="130.5" y2="414" stroke="#222" stroke-width="0.8" />
<line x1="128.5" y1="418" x2="130.5" y2="418" stroke="#222" stroke-width="0.8" />
<line x1="128.5" y1="422" x2="130.5" y2="422" stroke="#222" stroke-width="0.8" />
<line x1="128.5" y1="426" x2="130.5" y2="426" stroke="#222" stroke-width="0.8" />
<line x1="128.5" y1="431" x2="130.5" y2="431" stroke="#222" stroke-width="0.8" />
<line x1="128.5" y1="435" x2="130.5" y2="435" stroke="#222" stroke-width="0.8" />
<line x1="128.5" y1="440" x2="130.5" y2="440" stroke="#222" stroke-width="0.8" />
<line x1="128.5" y1="444" x2="130.5" y2="444" stroke="#222" stroke-width="0.8" />
<line x1="128.5" y1="448" x2="130.5" y2="448" stroke="#222" stroke-width="0.8" />
<line x1="134" y1="453.7" x2="134" y2="455.7" stroke="#222" stroke-width="0.8" />
<line x1="138" y1="453.7" x2="138" y2="455.7" stroke="#222" stroke-width="0.8" />
<line x1="142" y1="453.7" x2="142" y2="455.7" stroke="#222" stroke-width="0.8" />
<line x1="149" y1="453.7" x2="149" y2="455.7" stroke="#222" stroke-width="0.8" />
<line x1="153" y1="453.7" x2="153" y2="455.7" stroke="#222" stroke-width="0.8" />
<line x1="157" y1="453.7" x2="157" y2="455.7" stroke="#222" stroke-width="0.8" />
<line x1="161" y1="453.7" x2="161" y2="455.7" stroke="#222" stroke-width="0.8" />
<line x1="168" y1="453.7" x2="168" y2="455.7" stroke="#222" stroke-width="0.8" />
<line x1="172" y1="453.7" x2="172" y2="455.7" stroke="#222" stroke-width="0.8" />
<line x1="176" y1="453.7" x2="176" y2="455.7" stroke="#222" stroke-width="0.8" />
<line x1="179" y1="453.7" x2="179" y2="455.7" stroke="#222" stroke-width="0.8" />
<line x1="185" y1="453.7" x2="185" y2="455.7" stroke="#222" stroke-width="0.8" />
<line x1="189" y1="453.7" x2="189" y2="455.7" stroke="#222" stroke-width="0.8" />
<line x1="193" y1="453.7" x2="193" y2="455.7" stroke="#222" stroke-width="0.8" />
<line x1="199" y1="453.7" x2="199" y2="455.7" stroke="#222" stroke-width="0.8" />
<text x="125.2" y="387.7" font-size="6.6" text-anchor="end" fill="#111" >20</text>
<text x="125.2" y="405" font-size="6.6" text-anchor="end" fill="#111" >15</text>
<text x="125.2" y="421.5" font-size="6.6" text-anchor="end" fill="#111" >10</text>
<text x="125.2" y="438.3" font-size="6.6" text-anchor="end" fill="#111" >5.0</text>
<text x="124.7" y="455.1" font-size="6.6" text-anchor="end" fill="#111" >0</text>
<text x="145.2" y="466" font-size="6.4" text-anchor="middle" fill="#111" >0</text>
<text x="169.3" y="466" font-size="6.4" text-anchor="middle" fill="#111">10<tspan font-size="3.84" dy="-2.4">3</tspan></text>
<text x="183.5" y="466" font-size="6.4" text-anchor="middle" fill="#111">10<tspan font-size="3.84" dy="-2.4">4</tspan></text>
<text x="196.6" y="466" font-size="6.4" text-anchor="middle" fill="#111">10<tspan font-size="3.84" dy="-2.4">5</tspan></text>
<path d="M225.50,453.40 C229.58,453.40 243.92,453.43 250.00,453.40 C256.08,453.37 259.33,453.35 262.00,453.20 C264.67,453.05 265.00,453.70 266.00,452.50 C267.00,451.30 267.42,449.42 268.00,446.00 C268.58,442.58 269.03,438.00 269.50,432.00 C269.97,426.00 270.42,416.50 270.80,410.00 C271.18,403.50 271.50,397.00 271.80,393.00 C272.10,389.00 272.33,386.17 272.60,386.00 C272.87,385.83 273.08,388.00 273.40,392.00 C273.72,396.00 274.10,403.33 274.50,410.00 C274.90,416.67 275.38,426.00 275.80,432.00 C276.22,438.00 276.60,442.57 277.00,446.00 C277.40,449.43 277.53,451.37 278.20,452.60 C278.87,453.83 278.03,453.27 281.00,453.40 C283.97,453.53 293.50,453.40 296.00,453.40 L296.00,453.9 L225.50,453.9 Z" fill="#f6c9d3" stroke="none"/>
<path d="M225.50,453.40 C229.58,453.40 243.92,453.43 250.00,453.40 C256.08,453.37 259.33,453.35 262.00,453.20 C264.67,453.05 265.00,453.70 266.00,452.50 C267.00,451.30 267.42,449.42 268.00,446.00 C268.58,442.58 269.03,438.00 269.50,432.00 C269.97,426.00 270.42,416.50 270.80,410.00 C271.18,403.50 271.50,397.00 271.80,393.00 C272.10,389.00 272.33,386.17 272.60,386.00 C272.87,385.83 273.08,388.00 273.40,392.00 C273.72,396.00 274.10,403.33 274.50,410.00 C274.90,416.67 275.38,426.00 275.80,432.00 C276.22,438.00 276.60,442.57 277.00,446.00 C277.40,449.43 277.53,451.37 278.20,452.60 C278.87,453.83 278.03,453.27 281.00,453.40 C283.97,453.53 293.50,453.40 296.00,453.40" fill="none" stroke="#d8275a" stroke-width="1.5" stroke-linejoin="round"/>
<line x1="258" y1="417.7" x2="282" y2="417.7" stroke="#333" stroke-width="1" />
<line x1="258" y1="416.2" x2="258" y2="419.2" stroke="#333" stroke-width="0.8" />
<line x1="282" y1="416.2" x2="282" y2="419.2" stroke="#333" stroke-width="0.8" />
<text x="243.3" y="400.7" font-size="7.6" text-anchor="start" fill="#111" textLength="16" lengthAdjust="spacingAndGlyphs" >98.4</text>
<rect x="225.4" y="382.4" width="70.99999999999997" height="71.5" fill="none" stroke="#111" stroke-width="1.2"/>
<line x1="223.4" y1="389" x2="225.4" y2="389" stroke="#222" stroke-width="0.8" />
<line x1="223.4" y1="397" x2="225.4" y2="397" stroke="#222" stroke-width="0.8" />
<line x1="223.4" y1="401" x2="225.4" y2="401" stroke="#222" stroke-width="0.8" />
<line x1="223.4" y1="405" x2="225.4" y2="405" stroke="#222" stroke-width="0.8" />
<line x1="223.4" y1="412" x2="225.4" y2="412" stroke="#222" stroke-width="0.8" />
<line x1="223.4" y1="416" x2="225.4" y2="416" stroke="#222" stroke-width="0.8" />
<line x1="223.4" y1="420" x2="225.4" y2="420" stroke="#222" stroke-width="0.8" />
<line x1="223.4" y1="427" x2="225.4" y2="427" stroke="#222" stroke-width="0.8" />
<line x1="223.4" y1="431" x2="225.4" y2="431" stroke="#222" stroke-width="0.8" />
<line x1="223.4" y1="435" x2="225.4" y2="435" stroke="#222" stroke-width="0.8" />
<line x1="223.4" y1="442" x2="225.4" y2="442" stroke="#222" stroke-width="0.8" />
<line x1="223.4" y1="446" x2="225.4" y2="446" stroke="#222" stroke-width="0.8" />
<line x1="223.4" y1="450" x2="225.4" y2="450" stroke="#222" stroke-width="0.8" />
<line x1="228" y1="453.9" x2="228" y2="455.9" stroke="#222" stroke-width="0.8" />
<line x1="232" y1="453.9" x2="232" y2="455.9" stroke="#222" stroke-width="0.8" />
<line x1="236" y1="453.9" x2="236" y2="455.9" stroke="#222" stroke-width="0.8" />
<line x1="244" y1="453.9" x2="244" y2="455.9" stroke="#222" stroke-width="0.8" />
<line x1="248" y1="453.9" x2="248" y2="455.9" stroke="#222" stroke-width="0.8" />
<line x1="252" y1="453.9" x2="252" y2="455.9" stroke="#222" stroke-width="0.8" />
<line x1="256" y1="453.9" x2="256" y2="455.9" stroke="#222" stroke-width="0.8" />
<line x1="263" y1="453.9" x2="263" y2="455.9" stroke="#222" stroke-width="0.8" />
<line x1="267" y1="453.9" x2="267" y2="455.9" stroke="#222" stroke-width="0.8" />
<line x1="271" y1="453.9" x2="271" y2="455.9" stroke="#222" stroke-width="0.8" />
<line x1="275" y1="453.9" x2="275" y2="455.9" stroke="#222" stroke-width="0.8" />
<line x1="281" y1="453.9" x2="281" y2="455.9" stroke="#222" stroke-width="0.8" />
<line x1="285" y1="453.9" x2="285" y2="455.9" stroke="#222" stroke-width="0.8" />
<line x1="289" y1="453.9" x2="289" y2="455.9" stroke="#222" stroke-width="0.8" />
<line x1="293" y1="453.9" x2="293" y2="455.9" stroke="#222" stroke-width="0.8" />
<text x="217.3" y="395.7" font-size="6.3" text-anchor="end" fill="#111" >1.2K</text>
<text x="217.3" y="410.3" font-size="6.3" text-anchor="end" fill="#111" >900</text>
<text x="217.3" y="425.5" font-size="6.3" text-anchor="end" fill="#111" >600</text>
<text x="217.3" y="440.5" font-size="6.3" text-anchor="end" fill="#111" >300</text>
<text x="216.8" y="455.7" font-size="6.3" text-anchor="end" fill="#111" >0</text>
<text x="238.5" y="466" font-size="6.4" text-anchor="middle" fill="#111" >0</text>
<text x="262.5" y="466" font-size="6.4" text-anchor="middle" fill="#111">10<tspan font-size="3.84" dy="-2.4">3</tspan></text>
<text x="277.5" y="466" font-size="6.4" text-anchor="middle" fill="#111">10<tspan font-size="3.84" dy="-2.4">4</tspan></text>
<text x="290.8" y="466" font-size="6.4" text-anchor="middle" fill="#111">10<tspan font-size="3.84" dy="-2.4">5</tspan></text>
<line x1="176.3" y1="285" x2="91.5" y2="284.5" stroke="#d8275a" stroke-width="1.2" marker-end="url(#ahr)"/>
<line x1="159.9" y1="289" x2="159.7" y2="392.5" stroke="#d8275a" stroke-width="1.2" marker-end="url(#ahr)"/>
<line x1="258.2" y1="285" x2="316.8" y2="284.6" stroke="#d8275a" stroke-width="1.2" marker-end="url(#ahr)"/>
<line x1="255.5" y1="287" x2="255.3" y2="391.5" stroke="#d8275a" stroke-width="1.2" marker-end="url(#ahr)"/>
<text x="322.6" y="372.8" font-size="9.5" text-anchor="start" fill="#111" font-weight="bold" textLength="7.3" lengthAdjust="spacingAndGlyphs" >E</text>
<text x="368.6" y="371.8" font-size="8.5" fill="#111" textLength="21.8" lengthAdjust="spacingAndGlyphs">CD8<tspan font-size="5" dy="-3">+</tspan></text>
<text x="464.6" y="371.8" font-size="8.5" fill="#111" textLength="23.1" lengthAdjust="spacingAndGlyphs">CD4<tspan font-size="5" dy="-3">+</tspan></text>
<line x1="337.4" y1="470.8" x2="519" y2="470.8" stroke="#111" stroke-width="1" marker-end="url(#ahk)"/>
<text x="420.8" y="481.6" font-size="8.5" text-anchor="start" fill="#111" font-weight="bold" textLength="16.3" lengthAdjust="spacingAndGlyphs" style="stroke-width:0.45px">CFSE</text>
<path d="M338.08,416.54 C340.62,416.54 350.54,416.97 353.31,416.54 C356.08,416.10 354.17,416.54 354.69,413.94 C355.21,411.34 355.93,405.43 356.42,400.96 C356.91,396.49 357.23,389.94 357.63,387.11 C358.04,384.29 358.41,383.86 358.85,384.00 C359.28,384.14 359.77,387.46 360.23,387.98 C360.69,388.50 361.18,386.83 361.61,387.11 C362.05,387.40 362.48,388.27 362.83,389.71 C363.17,391.15 363.32,393.32 363.69,395.77 C364.07,398.22 364.64,403.27 365.08,404.42 C365.51,405.58 365.88,402.55 366.29,402.69 C366.69,402.84 367.12,405.14 367.50,405.29 C367.87,405.43 368.16,402.98 368.54,403.56 C368.91,404.13 369.26,407.74 369.75,408.75 C370.24,409.76 370.90,409.18 371.48,409.61 C372.06,410.05 372.63,411.20 373.21,411.34 C373.79,411.49 374.36,410.19 374.94,410.48 C375.52,410.77 375.95,412.79 376.67,413.08 C377.39,413.36 378.40,411.98 379.27,412.21 C380.13,412.44 381.00,414.09 381.86,414.46 C382.73,414.84 383.45,414.26 384.46,414.46 C385.47,414.66 386.77,415.38 387.92,415.67 C389.07,415.96 385.61,416.05 391.38,416.19 C397.15,416.33 417.34,416.48 422.54,416.54 L422.54,416.5 L338.08,416.5 Z" fill="#f7cdd6" stroke="none"/>
<path d="M338.08,416.54 C340.62,416.54 350.54,416.97 353.31,416.54 C356.08,416.10 354.17,416.54 354.69,413.94 C355.21,411.34 355.93,405.43 356.42,400.96 C356.91,396.49 357.23,389.94 357.63,387.11 C358.04,384.29 358.41,383.86 358.85,384.00 C359.28,384.14 359.77,387.46 360.23,387.98 C360.69,388.50 361.18,386.83 361.61,387.11 C362.05,387.40 362.48,388.27 362.83,389.71 C363.17,391.15 363.32,393.32 363.69,395.77 C364.07,398.22 364.64,403.27 365.08,404.42 C365.51,405.58 365.88,402.55 366.29,402.69 C366.69,402.84 367.12,405.14 367.50,405.29 C367.87,405.43 368.16,402.98 368.54,403.56 C368.91,404.13 369.26,407.74 369.75,408.75 C370.24,409.76 370.90,409.18 371.48,409.61 C372.06,410.05 372.63,411.20 373.21,411.34 C373.79,411.49 374.36,410.19 374.94,410.48 C375.52,410.77 375.95,412.79 376.67,413.08 C377.39,413.36 378.40,411.98 379.27,412.21 C380.13,412.44 381.00,414.09 381.86,414.46 C382.73,414.84 383.45,414.26 384.46,414.46 C385.47,414.66 386.77,415.38 387.92,415.67 C389.07,415.96 385.61,416.05 391.38,416.19 C397.15,416.33 417.34,416.48 422.54,416.54" fill="none" stroke="#d8275a" stroke-width="1.4" stroke-linejoin="round"/>
<path d="M338.08,435.57 C340.62,435.57 350.19,436.01 353.31,435.57 C356.42,435.14 355.61,433.90 356.77,432.98 C357.92,432.06 359.31,430.70 360.23,430.04 C361.15,429.37 361.59,428.88 362.31,429.00 C363.03,429.11 363.75,430.56 364.56,430.73 C365.36,430.90 366.29,429.95 367.15,430.04 C368.02,430.12 368.74,430.76 369.75,431.25 C370.76,431.74 371.62,432.40 373.21,432.98 C374.80,433.56 377.10,434.42 379.27,434.71 C381.43,435.00 384.46,435.00 386.19,434.71 C387.92,434.42 388.79,433.99 389.65,432.98 C390.52,431.97 390.81,431.39 391.38,428.65 C391.96,425.91 392.59,420.43 393.11,416.54 C393.63,412.64 394.07,405.58 394.50,405.29 C394.93,405.00 395.31,410.91 395.71,414.81 C396.11,418.70 396.49,425.33 396.92,428.65 C397.35,431.97 397.50,433.56 398.31,434.71 C399.11,435.86 397.73,435.43 401.77,435.57 C405.81,435.72 419.07,435.57 422.54,435.57 L422.54,435.6 L338.08,435.6 Z" fill="#cdeed8" stroke="none"/>
<path d="M338.08,435.57 C340.62,435.57 350.19,436.01 353.31,435.57 C356.42,435.14 355.61,433.90 356.77,432.98 C357.92,432.06 359.31,430.70 360.23,430.04 C361.15,429.37 361.59,428.88 362.31,429.00 C363.03,429.11 363.75,430.56 364.56,430.73 C365.36,430.90 366.29,429.95 367.15,430.04 C368.02,430.12 368.74,430.76 369.75,431.25 C370.76,431.74 371.62,432.40 373.21,432.98 C374.80,433.56 377.10,434.42 379.27,434.71 C381.43,435.00 384.46,435.00 386.19,434.71 C387.92,434.42 388.79,433.99 389.65,432.98 C390.52,431.97 390.81,431.39 391.38,428.65 C391.96,425.91 392.59,420.43 393.11,416.54 C393.63,412.64 394.07,405.58 394.50,405.29 C394.93,405.00 395.31,410.91 395.71,414.81 C396.11,418.70 396.49,425.33 396.92,428.65 C397.35,431.97 397.50,433.56 398.31,434.71 C399.11,435.86 397.73,435.43 401.77,435.57 C405.81,435.72 419.07,435.57 422.54,435.57" fill="none" stroke="#22b060" stroke-width="1.4" stroke-linejoin="round"/>
<path d="M338.08,453.75 C340.62,453.75 350.34,454.18 353.31,453.75 C356.28,453.31 355.04,452.02 355.90,451.15 C356.77,450.29 357.63,448.70 358.50,448.55 C359.36,448.41 360.09,449.85 361.10,450.29 C362.10,450.72 363.11,450.72 364.56,451.15 C366.00,451.58 368.31,452.45 369.75,452.88 C371.19,453.31 372.06,454.04 373.21,453.75 C374.36,453.46 375.66,451.67 376.67,451.15 C377.68,450.63 378.49,450.49 379.27,450.63 C380.05,450.78 380.48,451.93 381.34,452.02 C382.21,452.10 383.36,451.87 384.46,451.15 C385.56,450.43 386.91,448.84 387.92,447.69 C388.93,446.54 389.80,445.09 390.52,444.23 C391.24,443.36 391.76,443.94 392.25,442.50 C392.74,441.06 393.03,437.88 393.46,435.57 C393.89,433.27 394.38,429.23 394.84,428.65 C395.31,428.07 395.80,430.09 396.23,432.11 C396.66,434.13 397.04,437.59 397.44,440.77 C397.84,443.94 398.22,448.99 398.65,451.15 C399.08,453.31 396.06,453.31 400.04,453.75 C404.02,454.18 418.79,453.75 422.54,453.75 L422.54,453.6 L338.08,453.6 Z" fill="#c6dff0" stroke="none"/>
<path d="M338.08,453.75 C340.62,453.75 350.34,454.18 353.31,453.75 C356.28,453.31 355.04,452.02 355.90,451.15 C356.77,450.29 357.63,448.70 358.50,448.55 C359.36,448.41 360.09,449.85 361.10,450.29 C362.10,450.72 363.11,450.72 364.56,451.15 C366.00,451.58 368.31,452.45 369.75,452.88 C371.19,453.31 372.06,454.04 373.21,453.75 C374.36,453.46 375.66,451.67 376.67,451.15 C377.68,450.63 378.49,450.49 379.27,450.63 C380.05,450.78 380.48,451.93 381.34,452.02 C382.21,452.10 383.36,451.87 384.46,451.15 C385.56,450.43 386.91,448.84 387.92,447.69 C388.93,446.54 389.80,445.09 390.52,444.23 C391.24,443.36 391.76,443.94 392.25,442.50 C392.74,441.06 393.03,437.88 393.46,435.57 C393.89,433.27 394.38,429.23 394.84,428.65 C395.31,428.07 395.80,430.09 396.23,432.11 C396.66,434.13 397.04,437.59 397.44,440.77 C397.84,443.94 398.22,448.99 398.65,451.15 C399.08,453.31 396.06,453.31 400.04,453.75 C404.02,454.18 418.79,453.75 422.54,453.75" fill="none" stroke="#1f5f8c" stroke-width="1.4" stroke-linejoin="round"/>
<text x="375.4" y="388.5" font-size="7.4" text-anchor="start" fill="#111" textLength="37.5" lengthAdjust="spacingAndGlyphs" >T cell alone</text>
<text x="342.7" y="425.9" font-size="7.8" fill="#111" textLength="30.8" lengthAdjust="spacingAndGlyphs">+Ly6G<tspan font-size="4.6" dy="-3">++</tspan></text>
<text x="342.7" y="445.6" font-size="7.8" fill="#111" textLength="25" lengthAdjust="spacingAndGlyphs">+Ly6G<tspan font-size="4.6" dy="-3">+</tspan></text>
<rect x="338.1" y="377.8" width="84.5" height="76.0" fill="none" stroke="#111" stroke-width="1.2"/>
<line x1="342" y1="453.8" x2="342" y2="455.8" stroke="#222" stroke-width="0.8" />
<line x1="346" y1="453.8" x2="346" y2="455.8" stroke="#222" stroke-width="0.8" />
<line x1="350" y1="453.8" x2="350" y2="455.8" stroke="#222" stroke-width="0.8" />
<line x1="362" y1="453.8" x2="362" y2="455.8" stroke="#222" stroke-width="0.8" />
<line x1="366" y1="453.8" x2="366" y2="455.8" stroke="#222" stroke-width="0.8" />
<line x1="370" y1="453.8" x2="370" y2="455.8" stroke="#222" stroke-width="0.8" />
<line x1="374" y1="453.8" x2="374" y2="455.8" stroke="#222" stroke-width="0.8" />
<line x1="384" y1="453.8" x2="384" y2="455.8" stroke="#222" stroke-width="0.8" />
<line x1="388" y1="453.8" x2="388" y2="455.8" stroke="#222" stroke-width="0.8" />
<line x1="392" y1="453.8" x2="392" y2="455.8" stroke="#222" stroke-width="0.8" />
<line x1="396" y1="453.8" x2="396" y2="455.8" stroke="#222" stroke-width="0.8" />
<line x1="405" y1="453.8" x2="405" y2="455.8" stroke="#222" stroke-width="0.8" />
<line x1="409" y1="453.8" x2="409" y2="455.8" stroke="#222" stroke-width="0.8" />
<line x1="413" y1="453.8" x2="413" y2="455.8" stroke="#222" stroke-width="0.8" />
<line x1="419" y1="453.8" x2="419" y2="455.8" stroke="#222" stroke-width="0.8" />
<text x="355.6" y="466" font-size="6.6" text-anchor="middle" fill="#111" >0</text>
<text x="381.3" y="466" font-size="6.6" text-anchor="middle" fill="#111">10<tspan font-size="3.96" dy="-2.4">3</tspan></text>
<text x="399.6" y="466" font-size="6.6" text-anchor="middle" fill="#111">10<tspan font-size="3.96" dy="-2.4">4</tspan></text>
<text x="417.4" y="466" font-size="6.6" text-anchor="middle" fill="#111">10<tspan font-size="3.96" dy="-2.4">5</tspan></text>
<path d="M434.33,416.19 C437.07,416.19 447.16,416.57 450.77,416.19 C454.37,415.82 454.23,414.89 455.96,413.94 C457.69,412.99 459.71,411.34 461.15,410.48 C462.59,409.61 463.60,409.47 464.61,408.75 C465.62,408.03 466.34,407.16 467.21,406.15 C468.08,405.14 468.94,403.56 469.81,402.69 C470.67,401.83 471.54,401.68 472.40,400.96 C473.27,400.24 474.28,398.36 475.00,398.36 C475.72,398.36 476.15,400.67 476.73,400.96 C477.31,401.25 477.88,399.75 478.46,400.10 C479.04,400.44 479.61,402.32 480.19,403.04 C480.77,403.76 481.29,404.77 481.92,404.42 C482.56,404.08 483.42,401.60 484.00,400.96 C484.57,400.33 484.92,399.60 485.38,400.61 C485.84,401.62 486.19,405.52 486.77,407.02 C487.34,408.52 488.21,409.90 488.84,409.61 C489.48,409.33 489.85,405.86 490.57,405.29 C491.30,404.71 492.31,405.72 493.17,406.15 C494.04,406.59 494.90,407.31 495.77,407.88 C496.63,408.46 497.50,408.75 498.36,409.61 C499.23,410.48 499.95,412.01 500.96,413.08 C501.97,414.14 501.82,415.50 504.42,416.02 C507.02,416.54 514.52,416.16 516.54,416.19 L516.54,416.2 L434.33,416.2 Z" fill="#f7cdd6" stroke="none"/>
<path d="M434.33,416.19 C437.07,416.19 447.16,416.57 450.77,416.19 C454.37,415.82 454.23,414.89 455.96,413.94 C457.69,412.99 459.71,411.34 461.15,410.48 C462.59,409.61 463.60,409.47 464.61,408.75 C465.62,408.03 466.34,407.16 467.21,406.15 C468.08,405.14 468.94,403.56 469.81,402.69 C470.67,401.83 471.54,401.68 472.40,400.96 C473.27,400.24 474.28,398.36 475.00,398.36 C475.72,398.36 476.15,400.67 476.73,400.96 C477.31,401.25 477.88,399.75 478.46,400.10 C479.04,400.44 479.61,402.32 480.19,403.04 C480.77,403.76 481.29,404.77 481.92,404.42 C482.56,404.08 483.42,401.60 484.00,400.96 C484.57,400.33 484.92,399.60 485.38,400.61 C485.84,401.62 486.19,405.52 486.77,407.02 C487.34,408.52 488.21,409.90 488.84,409.61 C489.48,409.33 489.85,405.86 490.57,405.29 C491.30,404.71 492.31,405.72 493.17,406.15 C494.04,406.59 494.90,407.31 495.77,407.88 C496.63,408.46 497.50,408.75 498.36,409.61 C499.23,410.48 499.95,412.01 500.96,413.08 C501.97,414.14 501.82,415.50 504.42,416.02 C507.02,416.54 514.52,416.16 516.54,416.19" fill="none" stroke="#d8275a" stroke-width="1.4" stroke-linejoin="round"/>
<path d="M434.33,435.57 C437.64,435.43 450.34,435.14 454.23,434.71 C458.12,434.28 456.54,433.56 457.69,432.98 C458.85,432.40 460.14,431.45 461.15,431.25 C462.16,431.05 462.88,431.97 463.75,431.77 C464.61,431.57 465.48,430.04 466.34,430.04 C467.21,430.04 468.08,431.42 468.94,431.77 C469.81,432.11 470.67,431.91 471.54,432.11 C472.40,432.32 472.69,432.55 474.13,432.98 C475.58,433.41 478.46,434.85 480.19,434.71 C481.92,434.57 483.51,435.14 484.52,432.11 C485.53,429.08 485.67,420.72 486.25,416.54 C486.82,412.35 487.49,409.47 487.98,407.02 C488.47,404.57 488.76,401.39 489.19,401.83 C489.62,402.26 490.11,405.72 490.57,409.61 C491.04,413.51 491.50,421.15 491.96,425.19 C492.42,429.23 492.71,432.11 493.34,433.84 C493.98,435.57 491.90,435.29 495.77,435.57 C499.63,435.86 513.07,435.57 516.54,435.57 L516.54,435.6 L434.33,435.6 Z" fill="#cdeed8" stroke="none"/>
<path d="M434.33,435.57 C437.64,435.43 450.34,435.14 454.23,434.71 C458.12,434.28 456.54,433.56 457.69,432.98 C458.85,432.40 460.14,431.45 461.15,431.25 C462.16,431.05 462.88,431.97 463.75,431.77 C464.61,431.57 465.48,430.04 466.34,430.04 C467.21,430.04 468.08,431.42 468.94,431.77 C469.81,432.11 470.67,431.91 471.54,432.11 C472.40,432.32 472.69,432.55 474.13,432.98 C475.58,433.41 478.46,434.85 480.19,434.71 C481.92,434.57 483.51,435.14 484.52,432.11 C485.53,429.08 485.67,420.72 486.25,416.54 C486.82,412.35 487.49,409.47 487.98,407.02 C488.47,404.57 488.76,401.39 489.19,401.83 C489.62,402.26 490.11,405.72 490.57,409.61 C491.04,413.51 491.50,421.15 491.96,425.19 C492.42,429.23 492.71,432.11 493.34,433.84 C493.98,435.57 491.90,435.29 495.77,435.57 C499.63,435.86 513.07,435.57 516.54,435.57" fill="none" stroke="#22b060" stroke-width="1.4" stroke-linejoin="round"/>
<path d="M434.33,453.23 C439.09,453.23 457.55,453.37 462.88,453.23 C468.22,453.08 465.19,452.56 466.34,452.36 C467.50,452.16 468.65,451.99 469.81,452.02 C470.96,452.05 471.83,452.45 473.27,452.54 C474.71,452.62 477.02,452.77 478.46,452.54 C479.90,452.30 480.91,451.96 481.92,451.15 C482.93,450.34 483.80,449.71 484.52,447.69 C485.24,445.67 485.67,442.50 486.25,439.04 C486.82,435.57 487.49,429.95 487.98,426.92 C488.47,423.89 488.76,420.86 489.19,420.86 C489.62,420.86 490.06,423.60 490.57,426.92 C491.09,430.24 491.73,437.02 492.31,440.77 C492.88,444.52 493.46,447.40 494.04,449.42 C494.61,451.44 492.02,452.25 495.77,452.88 C499.52,453.52 513.07,453.17 516.54,453.23 L516.54,453.4 L434.33,453.4 Z" fill="#c6dff0" stroke="none"/>
<path d="M434.33,453.23 C439.09,453.23 457.55,453.37 462.88,453.23 C468.22,453.08 465.19,452.56 466.34,452.36 C467.50,452.16 468.65,451.99 469.81,452.02 C470.96,452.05 471.83,452.45 473.27,452.54 C474.71,452.62 477.02,452.77 478.46,452.54 C479.90,452.30 480.91,451.96 481.92,451.15 C482.93,450.34 483.80,449.71 484.52,447.69 C485.24,445.67 485.67,442.50 486.25,439.04 C486.82,435.57 487.49,429.95 487.98,426.92 C488.47,423.89 488.76,420.86 489.19,420.86 C489.62,420.86 490.06,423.60 490.57,426.92 C491.09,430.24 491.73,437.02 492.31,440.77 C492.88,444.52 493.46,447.40 494.04,449.42 C494.61,451.44 492.02,452.25 495.77,452.88 C499.52,453.52 513.07,453.17 516.54,453.23" fill="none" stroke="#1f5f8c" stroke-width="1.4" stroke-linejoin="round"/>
<text x="471.4" y="386.6" font-size="7.4" text-anchor="start" fill="#111" textLength="38.8" lengthAdjust="spacingAndGlyphs" >T cell alone</text>
<text x="438.3" y="425.9" font-size="7.8" fill="#111" textLength="31.9" lengthAdjust="spacingAndGlyphs">+Ly6G<tspan font-size="4.6" dy="-3">++</tspan></text>
<text x="438.3" y="445.6" font-size="7.8" fill="#111" textLength="27" lengthAdjust="spacingAndGlyphs">+Ly6G<tspan font-size="4.6" dy="-3">+</tspan></text>
<rect x="434.3" y="378" width="82.49999999999994" height="75.80000000000001" fill="none" stroke="#111" stroke-width="1.2"/>
<line x1="438" y1="453.8" x2="438" y2="455.8" stroke="#222" stroke-width="0.8" />
<line x1="442" y1="453.8" x2="442" y2="455.8" stroke="#222" stroke-width="0.8" />
<line x1="446" y1="453.8" x2="446" y2="455.8" stroke="#222" stroke-width="0.8" />
<line x1="458" y1="453.8" x2="458" y2="455.8" stroke="#222" stroke-width="0.8" />
<line x1="462" y1="453.8" x2="462" y2="455.8" stroke="#222" stroke-width="0.8" />
<line x1="466" y1="453.8" x2="466" y2="455.8" stroke="#222" stroke-width="0.8" />
<line x1="470" y1="453.8" x2="470" y2="455.8" stroke="#222" stroke-width="0.8" />
<line x1="480" y1="453.8" x2="480" y2="455.8" stroke="#222" stroke-width="0.8" />
<line x1="484" y1="453.8" x2="484" y2="455.8" stroke="#222" stroke-width="0.8" />
<line x1="488" y1="453.8" x2="488" y2="455.8" stroke="#222" stroke-width="0.8" />
<line x1="492" y1="453.8" x2="492" y2="455.8" stroke="#222" stroke-width="0.8" />
<line x1="500" y1="453.8" x2="500" y2="455.8" stroke="#222" stroke-width="0.8" />
<line x1="504" y1="453.8" x2="504" y2="455.8" stroke="#222" stroke-width="0.8" />
<line x1="508" y1="453.8" x2="508" y2="455.8" stroke="#222" stroke-width="0.8" />
<line x1="513" y1="453.8" x2="513" y2="455.8" stroke="#222" stroke-width="0.8" />
<text x="451.7" y="466" font-size="6.6" text-anchor="middle" fill="#111" >0</text>
<text x="476.8" y="466" font-size="6.6" text-anchor="middle" fill="#111">10<tspan font-size="3.96" dy="-2.4">3</tspan></text>
<text x="495.5" y="466" font-size="6.6" text-anchor="middle" fill="#111">10<tspan font-size="3.96" dy="-2.4">4</tspan></text>
<text x="512" y="466" font-size="6.6" text-anchor="middle" fill="#111">10<tspan font-size="3.96" dy="-2.4">5</tspan></text>
</svg></body></html>
